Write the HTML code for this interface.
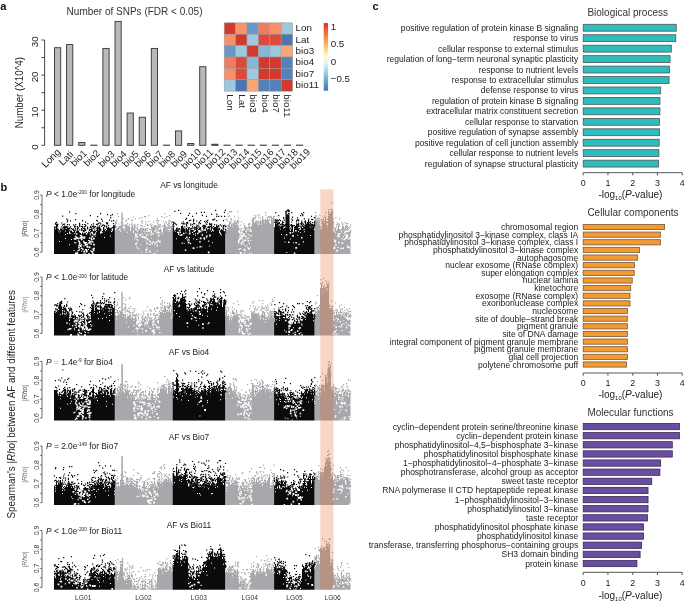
<!DOCTYPE html>
<html><head><meta charset="utf-8"><style>
html,body{margin:0;padding:0;background:#fff;width:685px;height:606px;overflow:hidden}
svg{display:block;filter:blur(0.3px)}
text{font-family:"Liberation Sans", sans-serif}
</style></head><body>
<svg width="685" height="606" viewBox="0 0 685 606" font-family='"Liberation Sans", sans-serif'>
<text x="0.30" y="10.20" font-size="11" text-anchor="start" fill="#111" font-weight="bold">a</text>
<text x="66.60" y="14.50" font-size="10.0" text-anchor="start" fill="#333">Number of SNPs (FDR &lt; 0.05)</text>
<path d="M44.6 40.00V145.30" stroke="#333" stroke-width="0.9" fill="none"/>
<path d="M41.40 145.30H44.6" stroke="#333" stroke-width="0.9"/>
<text x="37.60" y="147.10" font-size="9.8" text-anchor="middle" fill="#222" transform="rotate(-90 37.60 147.10)">0</text>
<path d="M41.40 127.75H44.6" stroke="#333" stroke-width="0.9"/>
<path d="M41.40 110.20H44.6" stroke="#333" stroke-width="0.9"/>
<text x="37.60" y="112.00" font-size="9.8" text-anchor="middle" fill="#222" transform="rotate(-90 37.60 112.00)">10</text>
<path d="M41.40 92.65H44.6" stroke="#333" stroke-width="0.9"/>
<path d="M41.40 75.10H44.6" stroke="#333" stroke-width="0.9"/>
<text x="37.60" y="76.90" font-size="9.8" text-anchor="middle" fill="#222" transform="rotate(-90 37.60 76.90)">20</text>
<path d="M41.40 57.55H44.6" stroke="#333" stroke-width="0.9"/>
<path d="M41.40 40.00H44.6" stroke="#333" stroke-width="0.9"/>
<text x="37.60" y="41.80" font-size="9.8" text-anchor="middle" fill="#222" transform="rotate(-90 37.60 41.80)">30</text>
<text x="22.90" y="92.70" font-size="10.4" text-anchor="middle" fill="#222" transform="rotate(-90 22.90 92.70)" textLength="71.3" lengthAdjust="spacingAndGlyphs">Number (X10^4)</text>
<rect x="54.50" y="47.72" width="6.2" height="97.58" fill="#b9b9b9" stroke="#333" stroke-width="0.9"/>
<text x="50.90" y="158.00" font-size="9.8" text-anchor="middle" fill="#222" transform="rotate(-45 50.90 158.00)" dy="0.35em">Long</text>
<rect x="66.60" y="44.56" width="6.2" height="100.74" fill="#b9b9b9" stroke="#333" stroke-width="0.9"/>
<text x="66.00" y="158.00" font-size="9.8" text-anchor="middle" fill="#222" transform="rotate(-45 66.00 158.00)" dy="0.35em">Lati</text>
<rect x="78.70" y="142.49" width="6.2" height="2.81" fill="#b9b9b9" stroke="#333" stroke-width="0.9"/>
<text x="78.60" y="158.00" font-size="9.8" text-anchor="middle" fill="#222" transform="rotate(-45 78.60 158.00)" dy="0.35em">bio1</text>
<rect x="90.80" y="145.12" width="6.2" height="0.18" fill="#b9b9b9" stroke="#333" stroke-width="0.9"/>
<text x="91.70" y="158.00" font-size="9.8" text-anchor="middle" fill="#222" transform="rotate(-45 91.70 158.00)" dy="0.35em">bio2</text>
<rect x="102.90" y="48.42" width="6.2" height="96.88" fill="#b9b9b9" stroke="#333" stroke-width="0.9"/>
<text x="106.30" y="158.80" font-size="9.8" text-anchor="middle" fill="#222" transform="rotate(-45 106.30 158.80)" dy="0.35em">bio3</text>
<rect x="115.00" y="21.40" width="6.2" height="123.90" fill="#b9b9b9" stroke="#333" stroke-width="0.9"/>
<text x="118.40" y="158.80" font-size="9.8" text-anchor="middle" fill="#222" transform="rotate(-45 118.40 158.80)" dy="0.35em">bio4</text>
<rect x="127.10" y="113.01" width="6.2" height="32.29" fill="#b9b9b9" stroke="#333" stroke-width="0.9"/>
<text x="130.50" y="158.80" font-size="9.8" text-anchor="middle" fill="#222" transform="rotate(-45 130.50 158.80)" dy="0.35em">bio5</text>
<rect x="139.20" y="117.22" width="6.2" height="28.08" fill="#b9b9b9" stroke="#333" stroke-width="0.9"/>
<text x="142.60" y="158.80" font-size="9.8" text-anchor="middle" fill="#222" transform="rotate(-45 142.60 158.80)" dy="0.35em">bio6</text>
<rect x="151.30" y="48.42" width="6.2" height="96.88" fill="#b9b9b9" stroke="#333" stroke-width="0.9"/>
<text x="154.70" y="158.80" font-size="9.8" text-anchor="middle" fill="#222" transform="rotate(-45 154.70 158.80)" dy="0.35em">bio7</text>
<rect x="163.40" y="145.12" width="6.2" height="0.18" fill="#b9b9b9" stroke="#333" stroke-width="0.9"/>
<text x="166.80" y="158.80" font-size="9.8" text-anchor="middle" fill="#222" transform="rotate(-45 166.80 158.80)" dy="0.35em">bio8</text>
<rect x="175.50" y="130.91" width="6.2" height="14.39" fill="#b9b9b9" stroke="#333" stroke-width="0.9"/>
<text x="178.90" y="158.80" font-size="9.8" text-anchor="middle" fill="#222" transform="rotate(-45 178.90 158.80)" dy="0.35em">bio9</text>
<rect x="187.60" y="143.55" width="6.2" height="1.75" fill="#b9b9b9" stroke="#333" stroke-width="0.9"/>
<text x="191.00" y="158.80" font-size="9.8" text-anchor="middle" fill="#222" transform="rotate(-45 191.00 158.80)" dy="0.35em">bio10</text>
<rect x="199.70" y="66.68" width="6.2" height="78.62" fill="#b9b9b9" stroke="#333" stroke-width="0.9"/>
<text x="203.10" y="158.80" font-size="9.8" text-anchor="middle" fill="#222" transform="rotate(-45 203.10 158.80)" dy="0.35em">bio11</text>
<rect x="211.80" y="144.25" width="6.2" height="1.05" fill="#b9b9b9" stroke="#333" stroke-width="0.9"/>
<text x="215.20" y="158.80" font-size="9.8" text-anchor="middle" fill="#222" transform="rotate(-45 215.20 158.80)" dy="0.35em">bio12</text>
<rect x="223.90" y="145.12" width="6.2" height="0.18" fill="#b9b9b9" stroke="#333" stroke-width="0.9"/>
<text x="227.30" y="158.80" font-size="9.8" text-anchor="middle" fill="#222" transform="rotate(-45 227.30 158.80)" dy="0.35em">bio13</text>
<rect x="236.00" y="145.12" width="6.2" height="0.18" fill="#b9b9b9" stroke="#333" stroke-width="0.9"/>
<text x="239.40" y="158.80" font-size="9.8" text-anchor="middle" fill="#222" transform="rotate(-45 239.40 158.80)" dy="0.35em">bio14</text>
<rect x="248.10" y="145.12" width="6.2" height="0.18" fill="#b9b9b9" stroke="#333" stroke-width="0.9"/>
<text x="251.50" y="158.80" font-size="9.8" text-anchor="middle" fill="#222" transform="rotate(-45 251.50 158.80)" dy="0.35em">bio15</text>
<rect x="260.20" y="145.12" width="6.2" height="0.18" fill="#b9b9b9" stroke="#333" stroke-width="0.9"/>
<text x="263.60" y="158.80" font-size="9.8" text-anchor="middle" fill="#222" transform="rotate(-45 263.60 158.80)" dy="0.35em">bio16</text>
<rect x="272.30" y="145.12" width="6.2" height="0.18" fill="#b9b9b9" stroke="#333" stroke-width="0.9"/>
<text x="275.70" y="158.80" font-size="9.8" text-anchor="middle" fill="#222" transform="rotate(-45 275.70 158.80)" dy="0.35em">bio17</text>
<rect x="284.40" y="145.12" width="6.2" height="0.18" fill="#b9b9b9" stroke="#333" stroke-width="0.9"/>
<text x="287.80" y="158.80" font-size="9.8" text-anchor="middle" fill="#222" transform="rotate(-45 287.80 158.80)" dy="0.35em">bio18</text>
<rect x="296.50" y="145.12" width="6.2" height="0.18" fill="#b9b9b9" stroke="#333" stroke-width="0.9"/>
<text x="299.90" y="158.80" font-size="9.8" text-anchor="middle" fill="#222" transform="rotate(-45 299.90 158.80)" dy="0.35em">bio19</text>
<rect x="224.20" y="22.80" width="11.40" height="11.40" fill="#d13a30" stroke="#9a9a9a" stroke-width="0.5"/>
<rect x="235.60" y="22.80" width="11.40" height="11.40" fill="#f7946a" stroke="#9a9a9a" stroke-width="0.5"/>
<rect x="247.00" y="22.80" width="11.40" height="11.40" fill="#6a98c6" stroke="#9a9a9a" stroke-width="0.5"/>
<rect x="258.40" y="22.80" width="11.40" height="11.40" fill="#f07b5f" stroke="#9a9a9a" stroke-width="0.5"/>
<rect x="269.80" y="22.80" width="11.40" height="11.40" fill="#f69168" stroke="#9a9a9a" stroke-width="0.5"/>
<rect x="281.20" y="22.80" width="11.40" height="11.40" fill="#9ec8de" stroke="#9a9a9a" stroke-width="0.5"/>
<rect x="224.20" y="34.20" width="11.40" height="11.40" fill="#f79068" stroke="#9a9a9a" stroke-width="0.5"/>
<rect x="235.60" y="34.20" width="11.40" height="11.40" fill="#d13a30" stroke="#9a9a9a" stroke-width="0.5"/>
<rect x="247.00" y="34.20" width="11.40" height="11.40" fill="#9ec8de" stroke="#9a9a9a" stroke-width="0.5"/>
<rect x="258.40" y="34.20" width="11.40" height="11.40" fill="#dc4a3c" stroke="#9a9a9a" stroke-width="0.5"/>
<rect x="269.80" y="34.20" width="11.40" height="11.40" fill="#dc4a3c" stroke="#9a9a9a" stroke-width="0.5"/>
<rect x="281.20" y="34.20" width="11.40" height="11.40" fill="#4c76b0" stroke="#9a9a9a" stroke-width="0.5"/>
<rect x="224.20" y="45.60" width="11.40" height="11.40" fill="#6a98c6" stroke="#9a9a9a" stroke-width="0.5"/>
<rect x="235.60" y="45.60" width="11.40" height="11.40" fill="#9ec8de" stroke="#9a9a9a" stroke-width="0.5"/>
<rect x="247.00" y="45.60" width="11.40" height="11.40" fill="#d13a30" stroke="#9a9a9a" stroke-width="0.5"/>
<rect x="258.40" y="45.60" width="11.40" height="11.40" fill="#86b8d6" stroke="#9a9a9a" stroke-width="0.5"/>
<rect x="269.80" y="45.60" width="11.40" height="11.40" fill="#9ec8de" stroke="#9a9a9a" stroke-width="0.5"/>
<rect x="281.20" y="45.60" width="11.40" height="11.40" fill="#f9a873" stroke="#9a9a9a" stroke-width="0.5"/>
<rect x="224.20" y="57.00" width="11.40" height="11.40" fill="#f07b5f" stroke="#9a9a9a" stroke-width="0.5"/>
<rect x="235.60" y="57.00" width="11.40" height="11.40" fill="#dc4a3c" stroke="#9a9a9a" stroke-width="0.5"/>
<rect x="247.00" y="57.00" width="11.40" height="11.40" fill="#86b8d6" stroke="#9a9a9a" stroke-width="0.5"/>
<rect x="258.40" y="57.00" width="11.40" height="11.40" fill="#d2392f" stroke="#9a9a9a" stroke-width="0.5"/>
<rect x="269.80" y="57.00" width="11.40" height="11.40" fill="#d2392f" stroke="#9a9a9a" stroke-width="0.5"/>
<rect x="281.20" y="57.00" width="11.40" height="11.40" fill="#5580b8" stroke="#9a9a9a" stroke-width="0.5"/>
<rect x="224.20" y="68.40" width="11.40" height="11.40" fill="#f79068" stroke="#9a9a9a" stroke-width="0.5"/>
<rect x="235.60" y="68.40" width="11.40" height="11.40" fill="#dc4a3c" stroke="#9a9a9a" stroke-width="0.5"/>
<rect x="247.00" y="68.40" width="11.40" height="11.40" fill="#9ec8de" stroke="#9a9a9a" stroke-width="0.5"/>
<rect x="258.40" y="68.40" width="11.40" height="11.40" fill="#d2392f" stroke="#9a9a9a" stroke-width="0.5"/>
<rect x="269.80" y="68.40" width="11.40" height="11.40" fill="#d2392f" stroke="#9a9a9a" stroke-width="0.5"/>
<rect x="281.20" y="68.40" width="11.40" height="11.40" fill="#5580b8" stroke="#9a9a9a" stroke-width="0.5"/>
<rect x="224.20" y="79.80" width="11.40" height="11.40" fill="#9ec8de" stroke="#9a9a9a" stroke-width="0.5"/>
<rect x="235.60" y="79.80" width="11.40" height="11.40" fill="#4c76b0" stroke="#9a9a9a" stroke-width="0.5"/>
<rect x="247.00" y="79.80" width="11.40" height="11.40" fill="#f9a873" stroke="#9a9a9a" stroke-width="0.5"/>
<rect x="258.40" y="79.80" width="11.40" height="11.40" fill="#5580b8" stroke="#9a9a9a" stroke-width="0.5"/>
<rect x="269.80" y="79.80" width="11.40" height="11.40" fill="#5580b8" stroke="#9a9a9a" stroke-width="0.5"/>
<rect x="281.20" y="79.80" width="11.40" height="11.40" fill="#d13a30" stroke="#9a9a9a" stroke-width="0.5"/>
<text x="295.60" y="31.20" font-size="9.8" text-anchor="start" fill="#222">Lon</text>
<text x="295.60" y="42.60" font-size="9.8" text-anchor="start" fill="#222">Lat</text>
<text x="295.60" y="54.00" font-size="9.8" text-anchor="start" fill="#222">bio3</text>
<text x="295.60" y="65.40" font-size="9.8" text-anchor="start" fill="#222">bio4</text>
<text x="295.60" y="76.80" font-size="9.8" text-anchor="start" fill="#222">bio7</text>
<text x="295.60" y="88.20" font-size="9.8" text-anchor="start" fill="#222">bio11</text>
<text x="227.30" y="94.30" font-size="9.8" text-anchor="start" fill="#222" transform="rotate(90 227.30 94.30)">Lon</text>
<text x="238.70" y="94.30" font-size="9.8" text-anchor="start" fill="#222" transform="rotate(90 238.70 94.30)">Lat</text>
<text x="250.10" y="94.30" font-size="9.8" text-anchor="start" fill="#222" transform="rotate(90 250.10 94.30)">bio3</text>
<text x="261.50" y="94.30" font-size="9.8" text-anchor="start" fill="#222" transform="rotate(90 261.50 94.30)">bio4</text>
<text x="272.90" y="94.30" font-size="9.8" text-anchor="start" fill="#222" transform="rotate(90 272.90 94.30)">bio7</text>
<text x="284.30" y="94.30" font-size="9.8" text-anchor="start" fill="#222" transform="rotate(90 284.30 94.30)">bio11</text>
<defs><linearGradient id="lg" x1="0" y1="0" x2="0" y2="1"><stop offset="0" stop-color="#d73027"/><stop offset="0.15" stop-color="#f46d43"/><stop offset="0.3" stop-color="#fdae61"/><stop offset="0.42" stop-color="#fee090"/><stop offset="0.5" stop-color="#ffffbf"/><stop offset="0.59" stop-color="#e0f3f8"/><stop offset="0.7" stop-color="#abd9e9"/><stop offset="0.83" stop-color="#74add1"/><stop offset="1" stop-color="#4575b4"/></linearGradient></defs>
<rect x="323.7" y="23.1" width="4.4" height="67.6" fill="url(#lg)"/>
<text x="330.70" y="29.70" font-size="9.8" text-anchor="start" fill="#222">1</text>
<text x="330.70" y="47.20" font-size="9.8" text-anchor="start" fill="#222">0.5</text>
<text x="330.70" y="64.70" font-size="9.8" text-anchor="start" fill="#222">0</text>
<text x="330.70" y="82.20" font-size="9.8" text-anchor="start" fill="#222">−0.5</text>
<text x="372.60" y="9.90" font-size="11" text-anchor="start" fill="#111" font-weight="bold">c</text>
<text x="587.40" y="16.00" font-size="10.0" text-anchor="start" fill="#333">Biological process</text>
<rect x="583.20" y="24.30" width="93.06" height="6.90" fill="#2ebdbd" stroke="#555" stroke-width="0.8"/>
<text x="578.20" y="30.75" font-size="8.52" text-anchor="end" fill="#222">positive regulation of protein kinase B signaling</text>
<rect x="583.20" y="34.75" width="92.57" height="6.90" fill="#2ebdbd" stroke="#555" stroke-width="0.8"/>
<text x="578.20" y="41.20" font-size="8.52" text-anchor="end" fill="#222">response to virus</text>
<rect x="583.20" y="45.20" width="88.11" height="6.90" fill="#2ebdbd" stroke="#555" stroke-width="0.8"/>
<text x="578.20" y="51.65" font-size="8.52" text-anchor="end" fill="#222">cellular response to external stimulus</text>
<rect x="583.20" y="55.65" width="86.87" height="6.90" fill="#2ebdbd" stroke="#555" stroke-width="0.8"/>
<text x="578.20" y="62.10" font-size="8.52" text-anchor="end" fill="#222">regulation of long−term neuronal synaptic plasticity</text>
<rect x="583.20" y="66.10" width="86.38" height="6.90" fill="#2ebdbd" stroke="#555" stroke-width="0.8"/>
<text x="578.20" y="72.55" font-size="8.52" text-anchor="end" fill="#222">response to nutrient levels</text>
<rect x="583.20" y="76.55" width="85.88" height="6.90" fill="#2ebdbd" stroke="#555" stroke-width="0.8"/>
<text x="578.20" y="83.00" font-size="8.52" text-anchor="end" fill="#222">response to extracellular stimulus</text>
<rect x="583.20" y="87.00" width="77.47" height="6.90" fill="#2ebdbd" stroke="#555" stroke-width="0.8"/>
<text x="578.20" y="93.45" font-size="8.52" text-anchor="end" fill="#222">defense response to virus</text>
<rect x="583.20" y="97.45" width="76.73" height="6.90" fill="#2ebdbd" stroke="#555" stroke-width="0.8"/>
<text x="578.20" y="103.90" font-size="8.52" text-anchor="end" fill="#222">regulation of protein kinase B signaling</text>
<rect x="583.20" y="107.90" width="76.73" height="6.90" fill="#2ebdbd" stroke="#555" stroke-width="0.8"/>
<text x="578.20" y="114.35" font-size="8.52" text-anchor="end" fill="#222">extracellular matrix constituent secretion</text>
<rect x="583.20" y="118.35" width="76.23" height="6.90" fill="#2ebdbd" stroke="#555" stroke-width="0.8"/>
<text x="578.20" y="124.80" font-size="8.52" text-anchor="end" fill="#222">cellular response to starvation</text>
<rect x="583.20" y="128.80" width="76.23" height="6.90" fill="#2ebdbd" stroke="#555" stroke-width="0.8"/>
<text x="578.20" y="135.25" font-size="8.52" text-anchor="end" fill="#222">positive regulation of synapse assembly</text>
<rect x="583.20" y="139.25" width="75.98" height="6.90" fill="#2ebdbd" stroke="#555" stroke-width="0.8"/>
<text x="578.20" y="145.70" font-size="8.52" text-anchor="end" fill="#222">positive regulation of cell junction assembly</text>
<rect x="583.20" y="149.70" width="75.73" height="6.90" fill="#2ebdbd" stroke="#555" stroke-width="0.8"/>
<text x="578.20" y="156.15" font-size="8.52" text-anchor="end" fill="#222">cellular response to nutrient levels</text>
<rect x="583.20" y="160.15" width="75.24" height="6.90" fill="#2ebdbd" stroke="#555" stroke-width="0.8"/>
<text x="578.20" y="166.60" font-size="8.52" text-anchor="end" fill="#222">regulation of synapse structural plasticity</text>
<path d="M583.2 172.7H682.20" stroke="#444" stroke-width="0.9"/>
<path d="M583.20 172.7V175.40" stroke="#444" stroke-width="0.9"/>
<text x="583.20" y="186.00" font-size="8.9" text-anchor="middle" fill="#222">0</text>
<path d="M607.95 172.7V175.40" stroke="#444" stroke-width="0.9"/>
<text x="607.95" y="186.00" font-size="8.9" text-anchor="middle" fill="#222">1</text>
<path d="M632.70 172.7V175.40" stroke="#444" stroke-width="0.9"/>
<text x="632.70" y="186.00" font-size="8.9" text-anchor="middle" fill="#222">2</text>
<path d="M657.45 172.7V175.40" stroke="#444" stroke-width="0.9"/>
<text x="657.45" y="186.00" font-size="8.9" text-anchor="middle" fill="#222">3</text>
<path d="M682.20 172.7V175.40" stroke="#444" stroke-width="0.9"/>
<text x="682.20" y="186.00" font-size="8.9" text-anchor="middle" fill="#222">4</text>
<text x="598.4" y="197.9" font-size="10" fill="#222">-log<tspan font-size="6" dy="1.8">10</tspan><tspan dy="-1.8">(</tspan><tspan font-style="italic">P</tspan>-value)</text>
<text x="587.40" y="216.00" font-size="10.0" text-anchor="start" fill="#333">Cellular components</text>
<rect x="583.20" y="224.40" width="81.43" height="5.20" fill="#f39a32" stroke="#7a5a3a" stroke-width="0.8"/>
<text x="578.20" y="230.00" font-size="8.52" text-anchor="end" fill="#222">chromosomal region</text>
<rect x="583.20" y="232.04" width="77.22" height="5.20" fill="#f39a32" stroke="#7a5a3a" stroke-width="0.8"/>
<text x="578.20" y="237.64" font-size="8.52" text-anchor="end" fill="#222">phosphatidylinositol 3−kinase complex, class IA</text>
<rect x="583.20" y="239.68" width="77.22" height="5.20" fill="#f39a32" stroke="#7a5a3a" stroke-width="0.8"/>
<text x="578.20" y="245.28" font-size="8.52" text-anchor="end" fill="#222">phosphatidylinositol 3−kinase complex, class I</text>
<rect x="583.20" y="247.32" width="56.43" height="5.20" fill="#f39a32" stroke="#7a5a3a" stroke-width="0.8"/>
<text x="578.20" y="252.92" font-size="8.52" text-anchor="end" fill="#222">phosphatidylinositol 3−kinase complex</text>
<rect x="583.20" y="254.96" width="54.45" height="5.20" fill="#f39a32" stroke="#7a5a3a" stroke-width="0.8"/>
<text x="578.20" y="260.56" font-size="8.52" text-anchor="end" fill="#222">autophagosome</text>
<rect x="583.20" y="262.60" width="51.23" height="5.20" fill="#f39a32" stroke="#7a5a3a" stroke-width="0.8"/>
<text x="578.20" y="268.20" font-size="8.52" text-anchor="end" fill="#222">nuclear exosome (RNase complex)</text>
<rect x="583.20" y="270.24" width="50.98" height="5.20" fill="#f39a32" stroke="#7a5a3a" stroke-width="0.8"/>
<text x="578.20" y="275.84" font-size="8.52" text-anchor="end" fill="#222">super elongation complex</text>
<rect x="583.20" y="277.88" width="49.01" height="5.20" fill="#f39a32" stroke="#7a5a3a" stroke-width="0.8"/>
<text x="578.20" y="283.48" font-size="8.52" text-anchor="end" fill="#222">nuclear lamina</text>
<rect x="583.20" y="285.52" width="47.52" height="5.20" fill="#f39a32" stroke="#7a5a3a" stroke-width="0.8"/>
<text x="578.20" y="291.12" font-size="8.52" text-anchor="end" fill="#222">kinetochore</text>
<rect x="583.20" y="293.16" width="46.78" height="5.20" fill="#f39a32" stroke="#7a5a3a" stroke-width="0.8"/>
<text x="578.20" y="298.76" font-size="8.52" text-anchor="end" fill="#222">exosome (RNase complex)</text>
<rect x="583.20" y="300.80" width="46.78" height="5.20" fill="#f39a32" stroke="#7a5a3a" stroke-width="0.8"/>
<text x="578.20" y="306.40" font-size="8.52" text-anchor="end" fill="#222">exoribonuclease complex</text>
<rect x="583.20" y="308.44" width="44.30" height="5.20" fill="#f39a32" stroke="#7a5a3a" stroke-width="0.8"/>
<text x="578.20" y="314.04" font-size="8.52" text-anchor="end" fill="#222">nucleosome</text>
<rect x="583.20" y="316.08" width="44.30" height="5.20" fill="#f39a32" stroke="#7a5a3a" stroke-width="0.8"/>
<text x="578.20" y="321.68" font-size="8.52" text-anchor="end" fill="#222">site of double−strand break</text>
<rect x="583.20" y="323.72" width="44.30" height="5.20" fill="#f39a32" stroke="#7a5a3a" stroke-width="0.8"/>
<text x="578.20" y="329.32" font-size="8.52" text-anchor="end" fill="#222">pigment granule</text>
<rect x="583.20" y="331.36" width="44.30" height="5.20" fill="#f39a32" stroke="#7a5a3a" stroke-width="0.8"/>
<text x="578.20" y="336.96" font-size="8.52" text-anchor="end" fill="#222">site of DNA damage</text>
<rect x="583.20" y="339.00" width="44.30" height="5.20" fill="#f39a32" stroke="#7a5a3a" stroke-width="0.8"/>
<text x="578.20" y="344.60" font-size="8.52" text-anchor="end" fill="#222">integral component of pigment granule membrane</text>
<rect x="583.20" y="346.64" width="44.30" height="5.20" fill="#f39a32" stroke="#7a5a3a" stroke-width="0.8"/>
<text x="578.20" y="352.24" font-size="8.52" text-anchor="end" fill="#222">pigment granule membrane</text>
<rect x="583.20" y="354.28" width="44.30" height="5.20" fill="#f39a32" stroke="#7a5a3a" stroke-width="0.8"/>
<text x="578.20" y="359.88" font-size="8.52" text-anchor="end" fill="#222">glial cell projection</text>
<rect x="583.20" y="361.92" width="43.31" height="5.20" fill="#f39a32" stroke="#7a5a3a" stroke-width="0.8"/>
<text x="578.20" y="367.52" font-size="8.52" text-anchor="end" fill="#222">polytene chromosome puff</text>
<path d="M583.2 373.0H682.20" stroke="#444" stroke-width="0.9"/>
<path d="M583.20 373.0V375.70" stroke="#444" stroke-width="0.9"/>
<text x="583.20" y="386.30" font-size="8.9" text-anchor="middle" fill="#222">0</text>
<path d="M607.95 373.0V375.70" stroke="#444" stroke-width="0.9"/>
<text x="607.95" y="386.30" font-size="8.9" text-anchor="middle" fill="#222">1</text>
<path d="M632.70 373.0V375.70" stroke="#444" stroke-width="0.9"/>
<text x="632.70" y="386.30" font-size="8.9" text-anchor="middle" fill="#222">2</text>
<path d="M657.45 373.0V375.70" stroke="#444" stroke-width="0.9"/>
<text x="657.45" y="386.30" font-size="8.9" text-anchor="middle" fill="#222">3</text>
<path d="M682.20 373.0V375.70" stroke="#444" stroke-width="0.9"/>
<text x="682.20" y="386.30" font-size="8.9" text-anchor="middle" fill="#222">4</text>
<text x="598.4" y="397.9" font-size="10" fill="#222">-log<tspan font-size="6" dy="1.8">10</tspan><tspan dy="-1.8">(</tspan><tspan font-style="italic">P</tspan>-value)</text>
<text x="587.40" y="416.20" font-size="10.0" text-anchor="start" fill="#333">Molecular functions</text>
<rect x="583.20" y="423.40" width="96.28" height="6.30" fill="#6a4ea0" stroke="#3a2a5a" stroke-width="0.8"/>
<text x="578.20" y="429.55" font-size="8.52" text-anchor="end" fill="#222">cyclin−dependent protein serine/threonine kinase</text>
<rect x="583.20" y="432.53" width="96.28" height="6.30" fill="#6a4ea0" stroke="#3a2a5a" stroke-width="0.8"/>
<text x="578.20" y="438.68" font-size="8.52" text-anchor="end" fill="#222">cyclin−dependent protein kinase</text>
<rect x="583.20" y="441.66" width="89.10" height="6.30" fill="#6a4ea0" stroke="#3a2a5a" stroke-width="0.8"/>
<text x="578.20" y="447.81" font-size="8.52" text-anchor="end" fill="#222">phosphatidylinositol−4,5−bisphosphate 3−kinase</text>
<rect x="583.20" y="450.79" width="89.10" height="6.30" fill="#6a4ea0" stroke="#3a2a5a" stroke-width="0.8"/>
<text x="578.20" y="456.94" font-size="8.52" text-anchor="end" fill="#222">phosphatidylinositol bisphosphate kinase</text>
<rect x="583.20" y="459.92" width="77.47" height="6.30" fill="#6a4ea0" stroke="#3a2a5a" stroke-width="0.8"/>
<text x="578.20" y="466.07" font-size="8.52" text-anchor="end" fill="#222">1−phosphatidylinositol−4−phosphate 3−kinase</text>
<rect x="583.20" y="469.05" width="76.73" height="6.30" fill="#6a4ea0" stroke="#3a2a5a" stroke-width="0.8"/>
<text x="578.20" y="475.20" font-size="8.52" text-anchor="end" fill="#222">phosphotransferase, alcohol group as acceptor</text>
<rect x="583.20" y="478.18" width="68.56" height="6.30" fill="#6a4ea0" stroke="#3a2a5a" stroke-width="0.8"/>
<text x="578.20" y="484.33" font-size="8.52" text-anchor="end" fill="#222">sweet taste receptor</text>
<rect x="583.20" y="487.31" width="64.84" height="6.30" fill="#6a4ea0" stroke="#3a2a5a" stroke-width="0.8"/>
<text x="578.20" y="493.46" font-size="8.52" text-anchor="end" fill="#222">RNA polymerase II CTD heptapeptide repeat kinase</text>
<rect x="583.20" y="496.44" width="64.84" height="6.30" fill="#6a4ea0" stroke="#3a2a5a" stroke-width="0.8"/>
<text x="578.20" y="502.59" font-size="8.52" text-anchor="end" fill="#222">1−phosphatidylinositol−3−kinase</text>
<rect x="583.20" y="505.57" width="64.84" height="6.30" fill="#6a4ea0" stroke="#3a2a5a" stroke-width="0.8"/>
<text x="578.20" y="511.72" font-size="8.52" text-anchor="end" fill="#222">phosphatidylinositol 3−kinase</text>
<rect x="583.20" y="514.70" width="64.35" height="6.30" fill="#6a4ea0" stroke="#3a2a5a" stroke-width="0.8"/>
<text x="578.20" y="520.85" font-size="8.52" text-anchor="end" fill="#222">taste receptor</text>
<rect x="583.20" y="523.83" width="60.39" height="6.30" fill="#6a4ea0" stroke="#3a2a5a" stroke-width="0.8"/>
<text x="578.20" y="529.98" font-size="8.52" text-anchor="end" fill="#222">phosphatidylinositol phosphate kinase</text>
<rect x="583.20" y="532.96" width="60.39" height="6.30" fill="#6a4ea0" stroke="#3a2a5a" stroke-width="0.8"/>
<text x="578.20" y="539.11" font-size="8.52" text-anchor="end" fill="#222">phosphatidylinositol kinase</text>
<rect x="583.20" y="542.09" width="58.41" height="6.30" fill="#6a4ea0" stroke="#3a2a5a" stroke-width="0.8"/>
<text x="578.20" y="548.24" font-size="8.52" text-anchor="end" fill="#222">transferase, transferring phosphorus−containing groups</text>
<rect x="583.20" y="551.22" width="56.92" height="6.30" fill="#6a4ea0" stroke="#3a2a5a" stroke-width="0.8"/>
<text x="578.20" y="557.37" font-size="8.52" text-anchor="end" fill="#222">SH3 domain binding</text>
<rect x="583.20" y="560.35" width="53.71" height="6.30" fill="#6a4ea0" stroke="#3a2a5a" stroke-width="0.8"/>
<text x="578.20" y="566.50" font-size="8.52" text-anchor="end" fill="#222">protein kinase</text>
<path d="M583.2 572.3H682.20" stroke="#444" stroke-width="0.9"/>
<path d="M583.20 572.3V575.00" stroke="#444" stroke-width="0.9"/>
<text x="583.20" y="585.60" font-size="8.9" text-anchor="middle" fill="#222">0</text>
<path d="M607.95 572.3V575.00" stroke="#444" stroke-width="0.9"/>
<text x="607.95" y="585.60" font-size="8.9" text-anchor="middle" fill="#222">1</text>
<path d="M632.70 572.3V575.00" stroke="#444" stroke-width="0.9"/>
<text x="632.70" y="585.60" font-size="8.9" text-anchor="middle" fill="#222">2</text>
<path d="M657.45 572.3V575.00" stroke="#444" stroke-width="0.9"/>
<text x="657.45" y="585.60" font-size="8.9" text-anchor="middle" fill="#222">3</text>
<path d="M682.20 572.3V575.00" stroke="#444" stroke-width="0.9"/>
<text x="682.20" y="585.60" font-size="8.9" text-anchor="middle" fill="#222">4</text>
<text x="598.4" y="599.1" font-size="10" fill="#222">-log<tspan font-size="6" dy="1.8">10</tspan><tspan dy="-1.8">(</tspan><tspan font-style="italic">P</tspan>-value)</text>
<text x="0.40" y="190.80" font-size="11" text-anchor="start" fill="#111" font-weight="bold">b</text>
<text x="14.60" y="404.30" font-size="10.5" text-anchor="middle" fill="#222" transform="rotate(-90 14.60 404.30)" textLength="228.3" lengthAdjust="spacingAndGlyphs">Spearman's |<tspan font-style="italic">Rho</tspan>| between AF and different features</text>
<path d="M42.0 195.00V252.20" stroke="#444" stroke-width="0.8" fill="none"/>
<path d="M40.20 195.00H42.0" stroke="#444" stroke-width="0.8"/>
<text x="38.90" y="195.00" font-size="6.9" text-anchor="middle" fill="#333" transform="rotate(-90 38.90 195.00)">0.9</text>
<path d="M40.20 204.53H42.0" stroke="#444" stroke-width="0.8"/>
<path d="M40.20 214.07H42.0" stroke="#444" stroke-width="0.8"/>
<text x="38.90" y="214.07" font-size="6.9" text-anchor="middle" fill="#333" transform="rotate(-90 38.90 214.07)">0.8</text>
<path d="M40.20 223.60H42.0" stroke="#444" stroke-width="0.8"/>
<path d="M40.20 233.13H42.0" stroke="#444" stroke-width="0.8"/>
<text x="38.90" y="233.13" font-size="6.9" text-anchor="middle" fill="#333" transform="rotate(-90 38.90 233.13)">0.7</text>
<path d="M40.20 242.67H42.0" stroke="#444" stroke-width="0.8"/>
<path d="M40.20 252.20H42.0" stroke="#444" stroke-width="0.8"/>
<text x="38.90" y="252.20" font-size="6.9" text-anchor="middle" fill="#333" transform="rotate(-90 38.90 252.20)">0.6</text>
<text x="27.40" y="228.80" font-size="6.8" text-anchor="middle" fill="#505050" transform="rotate(-90 27.40 228.80)">|<tspan font-style="italic">Rho</tspan>|</text>
<text x="189.00" y="188.30" font-size="8.4" text-anchor="middle" fill="#222">AF vs longitude</text>
<text x="46" y="196.70" font-size="8.4" fill="#222"><tspan font-style="italic">P</tspan> &lt; 1.0e<tspan font-size="4.7" dy="-2.3">-200</tspan><tspan dy="2.3"> for longitude</tspan></text>
<path fill="#a7a8ab" d="M114.8 253.9V228.1H115.0V232.2H116.0V230.7H117.0V230.9H118.0V228.9H119.0V230.6H120.0V233.7H121.0V230.2H122.0V231.1H123.0V232.1H124.0V232.6H125.0V229.1H126.0V227.1H127.0V228.2H128.0V228.7H129.0V229.7H130.0V234.1H131.0V229.0H132.0V225.2H133.0V235.9H134.0V228.2H135.0V231.9H136.0V235.1H137.0V234.2H138.0V232.2H139.0V231.2H140.0V232.2H141.0V230.4H142.0V234.0H143.0V230.9H144.0V232.4H145.0V231.0H146.0V232.7H147.0V235.2H148.0V234.4H149.0V231.7H150.0V231.1H151.0V229.7H152.0V229.9H153.0V231.1H154.0V228.2H155.0V230.5H156.0V233.3H157.0V230.6H158.0V236.7H159.0V232.7H160.0V230.4H161.0V232.3H162.0V235.2H163.0V229.7H164.0V226.2H165.0V229.7H166.0V230.6H167.0V228.6H168.0V231.2H169.0V233.0H170.0V229.4H171.0V228.7H172.0V230.4H172.6V253.9ZM225.2 253.9V229.4H226.0V231.4H227.0V229.9H228.0V227.5H229.0V225.8H230.0V229.2H231.0V226.7H232.0V227.9H233.0V226.9H234.0V225.3H235.0V224.8H236.0V225.0H237.0V227.5H238.0V229.7H239.0V236.4H240.0V237.9H241.0V233.8H242.0V233.7H243.0V234.8H244.0V229.5H245.0V229.7H246.0V234.7H247.0V233.2H248.0V233.0H249.0V225.7H250.0V230.9H251.0V228.8H252.0V221.4H253.0V220.2H254.0V225.7H255.0V224.8H256.0V223.4H257.0V224.5H258.0V228.1H259.0V228.1H260.0V223.1H261.0V224.4H262.0V218.9H263.0V221.5H264.0V223.6H265.0V222.1H266.0V223.3H267.0V222.2H268.0V222.5H269.0V225.1H270.0V225.2H271.0V218.6H272.0V222.4H273.0V219.2H274.0V221.4H274.1V253.9ZM314.5 253.9V220.7H315.0V219.6H316.0V222.9H317.0V224.0H318.0V223.1H319.0V224.2H320.0V228.8H321.0V231.5H322.0V223.9H323.0V223.3H324.0V223.9H325.0V220.1H326.0V224.2H327.0V230.2H328.0V215.8H329.0V215.0H330.0V216.4H331.0V211.7H332.0V213.6H333.0V224.2H334.0V232.3H335.0V232.2H336.0V232.8H337.0V232.1H338.0V227.7H339.0V231.9H340.0V234.7H341.0V233.3H342.0V226.5H343.0V228.9H344.0V231.4H345.0V230.3H346.0V229.2H347.0V228.6H348.0V228.9H349.0V233.0H350.0V232.8H350.5V253.9ZM121.3 253.9V212.5h1.4V253.9Z"/>
<path fill="#0b0b0b" d="M54.0 253.9V229.4H55.0V232.1H56.0V224.8H57.0V229.2H58.0V234.7H59.0V233.6H60.0V231.5H61.0V230.9H62.0V234.0H63.0V229.2H64.0V225.5H65.0V231.5H66.0V228.7H67.0V229.6H68.0V231.1H69.0V236.7H70.0V233.7H71.0V233.6H72.0V231.9H73.0V232.7H74.0V232.0H75.0V232.5H76.0V234.2H77.0V230.5H78.0V233.8H79.0V232.2H80.0V232.1H81.0V237.4H82.0V232.5H83.0V236.4H84.0V230.4H85.0V233.0H86.0V234.0H87.0V229.6H88.0V232.9H89.0V235.3H90.0V235.2H91.0V231.7H92.0V231.5H93.0V230.7H94.0V234.0H95.0V236.5H96.0V235.3H97.0V230.1H98.0V230.3H99.0V229.7H100.0V236.7H101.0V236.2H102.0V234.1H103.0V229.0H104.0V232.6H105.0V234.2H106.0V228.6H107.0V230.7H108.0V228.0H109.0V230.1H110.0V229.9H111.0V235.0H112.0V233.3H113.0V229.6H114.0V227.5H114.8V253.9ZM172.6 253.9V229.3H173.0V231.3H174.0V232.7H175.0V232.8H176.0V230.8H177.0V235.0H178.0V236.0H179.0V234.4H180.0V235.9H181.0V228.9H182.0V228.6H183.0V229.7H184.0V231.8H185.0V231.4H186.0V226.5H187.0V231.3H188.0V230.6H189.0V231.5H190.0V231.0H191.0V230.7H192.0V230.6H193.0V232.3H194.0V229.5H195.0V231.8H196.0V228.9H197.0V229.8H198.0V230.9H199.0V230.9H200.0V232.5H201.0V233.2H202.0V230.3H203.0V233.3H204.0V229.3H205.0V231.8H206.0V231.2H207.0V234.2H208.0V233.5H209.0V231.6H210.0V230.2H211.0V226.2H212.0V233.7H213.0V234.5H214.0V227.1H215.0V229.0H216.0V227.5H217.0V230.6H218.0V230.6H219.0V236.2H220.0V236.8H221.0V232.0H222.0V231.9H223.0V230.5H224.0V233.3H225.0V233.4H225.2V253.9ZM274.1 253.9V230.2H275.0V224.7H276.0V225.1H277.0V222.6H278.0V225.5H279.0V227.4H280.0V229.6H281.0V226.5H282.0V225.3H283.0V228.4H284.0V230.1H285.0V230.4H286.0V226.1H287.0V224.2H288.0V228.5H289.0V234.3H290.0V234.0H291.0V226.9H292.0V226.0H293.0V233.7H294.0V231.6H295.0V228.9H296.0V224.2H297.0V226.7H298.0V224.8H299.0V230.0H300.0V232.7H301.0V225.0H302.0V230.1H303.0V230.2H304.0V229.8H305.0V227.8H306.0V226.8H307.0V225.1H308.0V223.1H309.0V226.4H310.0V227.5H311.0V228.3H312.0V229.6H313.0V227.4H314.0V226.6H314.5V253.9ZM285.5 253.9V213.8h1V253.9ZM286.5 253.9V214.3h1V253.9ZM287.5 253.9V214.4h1V253.9ZM288.5 253.9V214.3h1V253.9Z"/>
<path stroke="#a7a8ab" stroke-width="1.2" fill="none" d="M114.8 227.7h1.2M114.8 226.7h1.2M114.9 223.2h1.2M114.9 222.2h1.2M115.0 231.8h1.2M115.0 230.8h1.2M115.0 227.3h1.2M114.9 225.3h1.2M114.9 224.3h1.2M115.1 223.3h1.2M116.0 230.3h1.2M116.0 229.3h1.2M116.1 226.8h1.2M115.9 222.8h1.2M115.8 221.8h1.2M116.2 219.8h1.2M117.0 230.5h1.2M117.0 229.5h1.2M117.0 228.5h1.2M117.0 213.6h1.2M118.0 228.5h1.2M118.0 227.5h1.2M118.1 224.0h1.2M117.9 216.6h1.2M119.0 228.2h1.2M118.8 226.7h1.2M120.0 233.3h1.2M120.0 232.3h1.2M119.8 229.8h1.2M120.0 227.8h1.2M119.9 226.8h1.2M120.1 225.8h1.2M121.0 228.8h1.2M121.0 227.8h1.2M121.1 223.3h1.2M120.8 222.3h1.2M122.0 230.7h1.2M122.0 229.7h1.2M122.0 228.7h1.2M122.1 226.2h1.2M122.0 223.2h1.2M123.0 231.7h1.2M123.0 230.7h1.2M123.0 229.7h1.2M122.9 225.2h1.2M122.8 218.6h1.2M124.0 232.2h1.2M124.0 231.2h1.2M123.8 228.7h1.2M124.0 225.7h1.2M125.0 227.7h1.2M125.0 226.7h1.2M125.1 225.2h1.2M124.9 221.2h1.2M126.0 226.7h1.2M126.0 225.7h1.2M126.0 224.7h1.2M126.0 220.2h1.2M127.0 227.8h1.2M127.0 225.8h1.2M127.0 223.3h1.2M128.0 228.3h1.2M128.0 227.3h1.2M128.0 226.3h1.2M127.8 218.8h1.2M128.1 218.6h1.2M129.0 229.3h1.2M129.0 228.3h1.2M129.0 227.3h1.2M129.1 224.8h1.2M130.0 233.7h1.2M130.0 232.7h1.2M130.0 231.7h1.2M131.0 228.6h1.2M131.0 227.6h1.2M130.9 225.1h1.2M131.1 223.1h1.2M130.9 220.1h1.2M132.0 224.8h1.2M131.9 220.3h1.2M133.0 235.5h1.2M133.0 234.5h1.2M133.0 233.5h1.2M133.1 230.0h1.2M133.0 229.0h1.2M133.0 227.0h1.2M132.9 217.1h1.2M134.0 227.8h1.2M134.0 226.8h1.2M134.0 225.8h1.2M134.1 224.3h1.2M135.0 231.5h1.2M135.0 230.5h1.2M135.1 228.0h1.2M134.9 226.0h1.2M134.8 218.6h1.2M136.0 234.7h1.2M136.0 233.7h1.2M136.0 232.7h1.2M136.2 231.2h1.2M136.2 228.2h1.2M137.0 232.8h1.2M137.1 229.3h1.2M137.0 228.3h1.2M137.1 226.3h1.2M137.0 224.3h1.2M138.0 231.8h1.2M138.0 230.8h1.2M139.0 230.8h1.2M139.0 229.8h1.2M139.0 218.6h1.2M140.0 231.8h1.2M140.0 230.8h1.2M140.0 229.8h1.2M139.9 228.3h1.2M140.0 225.3h1.2M141.0 229.0h1.2M141.0 228.0h1.2M141.1 225.5h1.2M140.8 221.5h1.2M141.2 217.6h1.2M142.0 233.6h1.2M142.0 232.6h1.2M142.0 231.6h1.2M142.0 230.1h1.2M142.1 229.1h1.2M141.9 226.1h1.2M141.8 223.1h1.2M141.8 221.1h1.2M143.0 230.5h1.2M143.0 229.5h1.2M143.0 228.5h1.2M144.0 232.0h1.2M144.0 231.0h1.2M144.0 230.0h1.2M144.0 226.5h1.2M143.9 216.6h1.2M145.0 230.6h1.2M145.0 229.6h1.2M145.0 228.6h1.2M144.9 224.1h1.2M145.0 222.1h1.2M145.1 216.6h1.2M146.0 232.3h1.2M146.1 228.8h1.2M147.0 234.8h1.2M147.0 233.8h1.2M147.0 232.8h1.2M146.9 230.3h1.2M147.2 228.3h1.2M146.8 225.3h1.2M146.9 224.3h1.2M148.0 234.0h1.2M148.0 233.0h1.2M148.0 232.0h1.2M147.9 225.5h1.2M148.2 221.5h1.2M148.0 215.6h1.2M149.0 230.3h1.2M149.0 229.3h1.2M150.0 230.7h1.2M150.0 229.7h1.2M150.2 225.2h1.2M149.9 224.2h1.2M151.0 228.3h1.2M151.0 227.3h1.2M150.9 225.8h1.2M152.0 229.5h1.2M152.0 228.5h1.2M152.0 227.5h1.2M152.1 225.0h1.2M153.0 230.7h1.2M153.0 229.7h1.2M153.0 228.7h1.2M153.2 227.2h1.2M153.0 222.2h1.2M154.0 227.8h1.2M154.0 226.8h1.2M154.0 225.8h1.2M155.0 230.1h1.2M155.0 228.1h1.2M154.9 226.6h1.2M154.8 225.6h1.2M156.0 230.9h1.2M156.0 228.4h1.2M156.0 226.4h1.2M155.9 220.6h1.2M157.0 230.2h1.2M157.0 228.2h1.2M156.8 226.7h1.2M157.1 223.7h1.2M156.9 222.7h1.2M157.1 220.6h1.2M157.0 218.6h1.2M158.0 236.3h1.2M158.0 235.3h1.2M158.0 234.3h1.2M158.1 231.8h1.2M157.9 229.8h1.2M157.8 227.8h1.2M158.1 226.8h1.2M157.8 224.8h1.2M158.1 220.8h1.2M159.0 231.3h1.2M159.0 230.3h1.2M159.1 226.8h1.2M159.1 225.8h1.2M159.2 224.8h1.2M160.0 230.0h1.2M160.0 229.0h1.2M160.1 226.5h1.2M160.0 224.5h1.2M161.0 230.9h1.2M161.2 216.6h1.2M162.0 234.8h1.2M162.0 232.8h1.2M162.2 226.3h1.2M163.0 229.3h1.2M163.0 228.3h1.2M163.1 225.8h1.2M163.0 221.8h1.2M164.0 225.8h1.2M164.0 224.8h1.2M164.0 223.8h1.2M164.0 217.6h1.2M164.0 213.6h1.2M165.0 229.3h1.2M165.0 228.3h1.2M165.0 227.3h1.2M165.1 225.8h1.2M165.1 221.8h1.2M166.0 229.2h1.2M166.0 228.2h1.2M165.8 222.7h1.2M166.2 216.6h1.2M167.0 227.2h1.2M167.0 224.7h1.2M168.0 230.8h1.2M168.0 228.8h1.2M168.0 227.3h1.2M167.9 225.3h1.2M168.0 223.3h1.2M168.1 221.3h1.2M169.0 232.6h1.2M169.0 230.6h1.2M168.9 228.1h1.2M168.8 226.1h1.2M168.8 225.1h1.2M168.8 223.1h1.2M168.9 220.1h1.2M169.2 215.6h1.2M170.0 228.0h1.2M170.0 227.0h1.2M170.2 221.5h1.2M171.0 228.3h1.2M171.0 227.3h1.2M171.0 226.3h1.2M170.9 222.8h1.2M170.9 221.8h1.2M172.0 230.0h1.2M172.1 224.5h1.2M172.2 221.5h1.2M225.2 229.0h1.2M225.2 228.0h1.2M225.2 227.0h1.2M225.1 219.5h1.2M226.0 231.0h1.2M226.0 230.0h1.2M226.0 226.5h1.2M226.0 225.5h1.2M226.0 219.5h1.2M227.0 228.5h1.2M227.0 226.0h1.2M226.9 221.0h1.2M227.2 213.6h1.2M228.0 227.1h1.2M228.0 226.1h1.2M228.0 225.1h1.2M227.9 216.6h1.2M229.0 225.4h1.2M229.0 224.4h1.2M229.0 223.4h1.2M229.0 221.9h1.2M229.1 215.9h1.2M229.0 211.6h1.2M230.0 228.8h1.2M230.0 227.8h1.2M230.0 226.8h1.2M230.1 223.3h1.2M230.0 222.3h1.2M230.2 219.3h1.2M229.9 211.6h1.2M231.0 226.3h1.2M231.0 225.3h1.2M231.0 224.3h1.2M231.1 220.8h1.2M230.9 218.8h1.2M231.0 211.6h1.2M232.0 227.5h1.2M232.0 225.5h1.2M232.1 224.0h1.2M233.0 226.5h1.2M233.0 225.5h1.2M233.0 224.5h1.2M232.9 223.0h1.2M234.0 224.9h1.2M234.0 223.9h1.2M234.0 222.9h1.2M233.9 221.4h1.2M234.0 216.4h1.2M235.0 223.4h1.2M235.2 220.9h1.2M236.0 224.6h1.2M236.0 223.6h1.2M236.0 222.6h1.2M237.0 227.1h1.2M237.0 225.1h1.2M237.0 222.6h1.2M236.9 221.6h1.2M237.1 220.6h1.2M237.1 211.6h1.2M238.0 229.3h1.2M238.0 228.3h1.2M238.0 227.3h1.2M238.0 225.8h1.2M238.0 222.8h1.2M238.0 220.8h1.2M237.9 217.8h1.2M239.0 236.0h1.2M239.0 235.0h1.2M239.0 234.0h1.2M239.0 229.5h1.2M240.0 237.5h1.2M240.0 236.5h1.2M240.1 234.0h1.2M240.2 232.0h1.2M240.0 231.0h1.2M240.1 229.0h1.2M240.0 225.0h1.2M241.0 232.4h1.2M240.8 228.9h1.2M240.9 221.6h1.2M242.0 233.3h1.2M242.0 231.3h1.2M243.0 234.4h1.2M243.0 232.4h1.2M243.0 230.9h1.2M243.0 228.9h1.2M243.1 223.9h1.2M244.0 229.1h1.2M244.0 228.1h1.2M244.0 227.1h1.2M243.9 225.6h1.2M245.0 229.3h1.2M245.0 228.3h1.2M245.0 227.3h1.2M246.0 234.3h1.2M246.0 232.3h1.2M246.2 230.8h1.2M246.1 229.8h1.2M246.0 227.8h1.2M247.0 232.8h1.2M247.0 231.8h1.2M247.0 230.8h1.2M247.0 228.3h1.2M248.0 232.6h1.2M248.0 231.6h1.2M248.0 230.6h1.2M248.0 228.1h1.2M248.2 227.1h1.2M248.0 225.1h1.2M248.1 224.1h1.2M249.0 225.3h1.2M249.0 224.3h1.2M249.0 223.3h1.2M250.0 230.5h1.2M250.0 229.5h1.2M250.0 228.5h1.2M249.9 227.0h1.2M249.8 225.0h1.2M251.0 228.4h1.2M251.0 227.4h1.2M251.0 226.4h1.2M251.2 220.9h1.2M252.0 220.0h1.2M252.0 219.0h1.2M253.0 219.8h1.2M253.0 218.8h1.2M253.0 217.8h1.2M254.0 225.3h1.2M254.0 224.3h1.2M254.0 223.3h1.2M254.0 217.8h1.2M254.2 215.3h1.2M255.0 224.4h1.2M255.0 223.4h1.2M255.0 222.4h1.2M255.2 220.9h1.2M254.9 217.9h1.2M255.2 216.9h1.2M256.0 223.0h1.2M256.0 222.0h1.2M256.0 221.0h1.2M257.0 224.1h1.2M257.0 222.1h1.2M257.0 215.3h1.2M258.0 227.7h1.2M258.0 226.7h1.2M258.0 225.7h1.2M258.1 223.2h1.2M258.0 221.2h1.2M258.1 217.2h1.2M259.0 227.7h1.2M259.0 226.7h1.2M259.0 225.7h1.2M259.0 224.2h1.2M259.1 222.2h1.2M259.1 214.9h1.2M260.0 222.7h1.2M260.0 221.7h1.2M260.0 220.7h1.2M259.9 218.2h1.2M261.0 223.0h1.2M261.0 222.0h1.2M262.0 218.5h1.2M262.0 217.5h1.2M262.0 216.5h1.2M263.0 221.1h1.2M263.0 220.1h1.2M264.0 223.2h1.2M264.0 221.2h1.2M265.0 221.7h1.2M265.0 220.7h1.2M265.0 219.7h1.2M265.2 215.2h1.2M264.9 212.6h1.2M266.0 222.9h1.2M266.0 221.9h1.2M266.0 220.9h1.2M267.0 221.8h1.2M267.0 220.8h1.2M267.0 219.8h1.2M267.1 218.3h1.2M266.8 217.3h1.2M268.0 222.1h1.2M268.0 221.1h1.2M268.0 220.1h1.2M268.0 216.6h1.2M269.0 224.7h1.2M269.0 223.7h1.2M269.2 220.2h1.2M268.9 217.2h1.2M270.0 224.8h1.2M269.8 217.3h1.2M269.8 216.3h1.2M271.0 218.2h1.2M271.0 217.2h1.2M272.0 222.0h1.2M272.0 221.0h1.2M272.0 220.0h1.2M272.2 218.5h1.2M273.0 218.8h1.2M273.0 217.8h1.2M273.0 216.8h1.2M274.0 221.0h1.2M274.0 220.0h1.2M274.0 219.0h1.2M274.1 216.5h1.2M314.5 220.3h1.2M314.5 218.3h1.2M315.0 219.2h1.2M315.0 218.2h1.2M315.0 217.2h1.2M315.1 215.7h1.2M314.9 212.6h1.2M316.0 222.5h1.2M316.0 221.5h1.2M316.0 220.5h1.2M315.8 219.0h1.2M315.9 216.0h1.2M317.0 223.6h1.2M317.0 222.6h1.2M317.0 221.6h1.2M316.8 220.1h1.2M317.1 218.1h1.2M318.0 222.7h1.2M318.0 220.7h1.2M317.9 219.2h1.2M318.0 218.2h1.2M319.0 222.8h1.2M319.0 221.8h1.2M319.2 220.3h1.2M319.0 218.3h1.2M319.2 215.3h1.2M320.0 227.4h1.2M320.0 226.4h1.2M321.0 231.1h1.2M321.0 230.1h1.2M321.0 229.1h1.2M321.2 223.6h1.2M321.1 221.6h1.2M321.1 219.6h1.2M322.0 223.5h1.2M322.0 222.5h1.2M322.0 221.5h1.2M321.9 220.0h1.2M323.0 222.9h1.2M323.0 220.9h1.2M322.9 219.4h1.2M323.2 217.4h1.2M324.0 223.5h1.2M324.0 221.5h1.2M324.0 216.0h1.2M325.0 219.7h1.2M325.0 218.7h1.2M325.0 217.7h1.2M324.9 212.6h1.2M326.0 222.8h1.2M326.0 221.8h1.2M327.0 229.8h1.2M327.0 228.8h1.2M327.0 227.8h1.2M326.8 226.3h1.2M327.1 222.3h1.2M327.0 219.3h1.2M328.0 214.4h1.2M328.0 213.4h1.2M328.0 211.9h1.2M328.0 209.9h1.2M329.0 214.6h1.2M329.0 212.6h1.2M330.0 216.0h1.2M330.0 215.0h1.2M330.0 214.0h1.2M329.9 209.5h1.2M331.0 211.3h1.2M331.0 209.3h1.2M331.1 202.6h1.2M332.0 213.2h1.2M332.0 212.2h1.2M332.0 211.2h1.2M333.0 222.8h1.2M333.0 221.8h1.2M333.2 219.3h1.2M334.0 230.9h1.2M334.0 229.9h1.2M333.9 228.4h1.2M335.0 231.8h1.2M335.0 230.8h1.2M335.0 229.8h1.2M334.9 228.3h1.2M335.1 217.6h1.2M336.0 232.4h1.2M336.0 231.4h1.2M336.0 226.9h1.2M336.1 224.9h1.2M337.0 231.7h1.2M337.0 230.7h1.2M337.0 229.7h1.2M337.1 224.2h1.2M336.9 223.2h1.2M338.0 227.3h1.2M338.0 226.3h1.2M338.0 225.3h1.2M339.0 231.5h1.2M339.0 230.5h1.2M339.0 229.5h1.2M339.0 226.0h1.2M338.8 224.0h1.2M339.0 218.6h1.2M340.0 234.3h1.2M340.0 233.3h1.2M340.0 232.3h1.2M340.1 230.8h1.2M341.0 232.9h1.2M341.0 230.9h1.2M340.8 229.4h1.2M341.0 222.4h1.2M342.0 226.1h1.2M342.0 224.1h1.2M343.0 228.5h1.2M343.0 227.5h1.2M343.0 226.5h1.2M343.2 224.0h1.2M344.0 231.0h1.2M344.0 230.0h1.2M344.0 229.0h1.2M344.2 222.5h1.2M345.0 229.9h1.2M345.0 228.9h1.2M345.0 227.9h1.2M345.0 226.4h1.2M346.0 227.8h1.2M346.0 226.8h1.2M345.8 225.3h1.2M346.0 223.3h1.2M347.0 228.2h1.2M347.0 226.2h1.2M347.1 223.7h1.2M348.0 228.5h1.2M348.0 227.5h1.2M349.0 232.6h1.2M349.0 231.6h1.2M349.0 230.6h1.2M349.0 228.1h1.2M350.0 232.4h1.2M350.0 231.4h1.2M350.0 230.4h1.2M349.9 226.9h1.2M350.0 224.9h1.2"/>
<path stroke="#0b0b0b" stroke-width="1.2" fill="none" d="M54.0 229.0h1.2M54.0 228.0h1.2M54.0 227.0h1.2M55.0 231.7h1.2M55.0 230.7h1.2M55.0 229.7h1.2M55.2 227.2h1.2M54.9 224.2h1.2M55.0 223.2h1.2M56.0 224.4h1.2M56.0 222.4h1.2M57.0 228.8h1.2M57.0 226.8h1.2M56.8 225.3h1.2M57.2 224.3h1.2M58.0 234.3h1.2M58.0 233.3h1.2M58.0 232.3h1.2M58.2 230.8h1.2M57.9 229.8h1.2M59.0 233.2h1.2M59.0 231.2h1.2M60.0 230.1h1.2M60.0 229.1h1.2M61.0 230.5h1.2M61.0 229.5h1.2M60.8 227.0h1.2M61.1 223.0h1.2M62.0 233.6h1.2M62.0 232.6h1.2M62.0 231.6h1.2M62.0 230.1h1.2M61.8 228.1h1.2M61.8 225.1h1.2M62.0 216.1h1.2M63.0 227.8h1.2M63.0 226.8h1.2M62.9 224.3h1.2M64.0 224.1h1.2M65.0 230.1h1.2M65.0 229.1h1.2M64.9 227.6h1.2M65.1 226.6h1.2M66.0 227.3h1.2M66.0 226.3h1.2M66.1 219.1h1.2M67.0 229.2h1.2M67.0 228.2h1.2M67.0 227.2h1.2M67.0 224.7h1.2M66.8 221.7h1.2M67.1 220.1h1.2M68.0 230.7h1.2M68.0 229.7h1.2M68.0 228.7h1.2M69.0 236.3h1.2M69.0 235.3h1.2M69.0 234.3h1.2M69.1 230.8h1.2M69.1 228.8h1.2M69.2 227.8h1.2M68.8 224.8h1.2M69.0 212.1h1.2M70.0 232.3h1.2M70.0 231.3h1.2M70.0 226.8h1.2M69.9 220.8h1.2M71.0 233.2h1.2M71.0 232.2h1.2M71.0 231.2h1.2M71.0 228.7h1.2M72.0 229.5h1.2M73.0 232.3h1.2M73.0 230.3h1.2M73.0 228.8h1.2M73.0 224.8h1.2M74.0 231.6h1.2M74.0 230.6h1.2M74.1 227.1h1.2M73.9 226.1h1.2M75.0 230.1h1.2M75.0 228.6h1.2M74.9 226.6h1.2M75.1 224.6h1.2M75.0 219.6h1.2M75.2 213.6h1.2M76.0 233.8h1.2M76.0 232.8h1.2M76.0 231.8h1.2M77.0 230.1h1.2M77.0 229.1h1.2M77.0 228.1h1.2M76.9 226.6h1.2M78.0 233.4h1.2M78.0 232.4h1.2M78.0 231.4h1.2M77.9 227.9h1.2M79.0 229.8h1.2M79.2 226.3h1.2M78.9 225.3h1.2M79.1 224.3h1.2M78.9 223.3h1.2M80.0 230.7h1.2M81.0 237.0h1.2M81.0 235.0h1.2M80.9 230.5h1.2M81.1 229.5h1.2M80.9 228.5h1.2M80.9 226.5h1.2M82.0 232.1h1.2M82.0 231.1h1.2M82.0 230.1h1.2M82.1 227.6h1.2M82.0 226.6h1.2M81.9 224.6h1.2M82.0 220.6h1.2M83.0 236.0h1.2M83.0 235.0h1.2M83.0 234.0h1.2M82.8 231.5h1.2M83.1 230.5h1.2M83.0 228.5h1.2M84.0 230.0h1.2M84.0 229.0h1.2M84.0 228.0h1.2M84.1 226.5h1.2M84.0 224.5h1.2M85.0 232.6h1.2M85.0 230.6h1.2M85.0 229.1h1.2M85.0 226.1h1.2M84.9 225.1h1.2M85.0 222.1h1.2M86.0 233.6h1.2M86.0 232.6h1.2M87.0 229.2h1.2M87.0 228.2h1.2M87.0 227.2h1.2M87.2 223.7h1.2M88.0 232.5h1.2M88.0 231.5h1.2M88.0 230.5h1.2M89.0 234.9h1.2M89.0 233.9h1.2M89.0 232.9h1.2M88.8 230.4h1.2M89.1 229.4h1.2M90.0 233.8h1.2M90.0 232.8h1.2M90.0 231.3h1.2M89.9 229.3h1.2M89.8 227.3h1.2M90.0 226.3h1.2M89.8 215.6h1.2M91.0 231.3h1.2M91.0 230.3h1.2M91.0 229.3h1.2M90.9 227.8h1.2M91.0 224.8h1.2M92.0 231.1h1.2M92.0 230.1h1.2M92.0 229.1h1.2M92.0 226.6h1.2M93.0 229.3h1.2M93.0 228.3h1.2M93.0 226.8h1.2M92.9 225.8h1.2M92.9 223.8h1.2M94.0 233.6h1.2M94.0 232.6h1.2M94.0 231.6h1.2M94.1 230.1h1.2M94.1 229.1h1.2M94.0 227.1h1.2M95.0 235.1h1.2M95.0 231.6h1.2M94.9 226.6h1.2M96.0 234.9h1.2M96.0 233.9h1.2M96.0 232.9h1.2M96.0 230.4h1.2M96.2 228.4h1.2M95.9 224.4h1.2M96.1 220.4h1.2M97.0 229.7h1.2M97.0 228.7h1.2M97.0 227.7h1.2M97.2 226.2h1.2M97.1 224.2h1.2M96.8 221.2h1.2M97.0 216.6h1.2M98.0 228.9h1.2M98.0 227.9h1.2M97.9 223.4h1.2M99.0 229.3h1.2M99.0 228.3h1.2M99.0 227.3h1.2M99.0 225.8h1.2M99.2 222.8h1.2M100.0 236.3h1.2M100.0 235.3h1.2M100.0 234.3h1.2M100.1 230.8h1.2M100.2 229.8h1.2M99.9 228.8h1.2M100.0 223.8h1.2M100.0 213.6h1.2M101.0 235.8h1.2M101.0 234.8h1.2M101.0 233.8h1.2M101.2 226.3h1.2M101.0 219.3h1.2M102.0 233.7h1.2M102.0 231.7h1.2M101.9 225.2h1.2M101.9 221.2h1.2M103.0 228.6h1.2M103.0 227.6h1.2M103.1 225.1h1.2M104.0 232.2h1.2M104.0 231.2h1.2M104.0 230.2h1.2M104.1 226.7h1.2M104.1 225.7h1.2M105.0 233.8h1.2M105.0 232.8h1.2M105.0 231.8h1.2M105.2 229.3h1.2M106.0 227.2h1.2M106.0 226.2h1.2M106.1 223.7h1.2M106.1 222.7h1.2M107.0 230.3h1.2M107.0 229.3h1.2M107.0 228.3h1.2M107.0 223.8h1.2M107.0 222.8h1.2M106.9 214.6h1.2M108.0 227.6h1.2M108.0 225.6h1.2M109.0 229.7h1.2M109.0 228.7h1.2M109.0 220.2h1.2M110.0 229.5h1.2M110.0 228.5h1.2M110.1 217.6h1.2M110.1 215.6h1.2M111.0 234.6h1.2M111.0 233.6h1.2M111.0 232.6h1.2M111.0 230.1h1.2M111.1 228.1h1.2M111.1 221.1h1.2M112.0 232.9h1.2M112.0 231.9h1.2M112.1 227.4h1.2M111.8 214.6h1.2M113.0 229.2h1.2M113.0 228.2h1.2M113.0 227.2h1.2M113.1 225.7h1.2M112.9 223.7h1.2M113.0 220.7h1.2M114.0 227.1h1.2M114.0 226.1h1.2M172.6 228.9h1.2M172.6 227.9h1.2M172.6 226.9h1.2M172.5 225.4h1.2M172.8 224.4h1.2M172.5 222.4h1.2M173.0 230.9h1.2M173.0 229.9h1.2M173.0 228.9h1.2M173.2 226.4h1.2M173.2 223.4h1.2M174.0 232.3h1.2M174.0 231.3h1.2M173.9 222.8h1.2M174.2 211.3h1.2M175.0 232.4h1.2M175.0 230.4h1.2M175.0 223.9h1.2M176.0 230.4h1.2M176.0 229.4h1.2M176.0 228.4h1.2M175.9 224.9h1.2M177.0 234.6h1.2M177.0 233.6h1.2M176.9 231.1h1.2M177.2 230.1h1.2M176.9 228.1h1.2M178.0 235.6h1.2M177.9 231.1h1.2M177.8 229.1h1.2M178.1 210.3h1.2M179.0 234.0h1.2M179.0 232.0h1.2M179.1 229.5h1.2M179.0 228.5h1.2M180.0 235.5h1.2M180.0 234.5h1.2M180.0 233.5h1.2M179.9 231.0h1.2M180.0 213.3h1.2M181.0 228.5h1.2M181.0 227.5h1.2M181.0 226.5h1.2M181.0 223.0h1.2M182.0 228.2h1.2M182.0 227.2h1.2M182.0 226.2h1.2M182.2 223.7h1.2M183.0 229.3h1.2M183.0 228.3h1.2M183.0 223.8h1.2M182.9 221.8h1.2M184.0 231.4h1.2M184.0 230.4h1.2M184.0 229.4h1.2M184.1 226.9h1.2M184.1 223.9h1.2M185.0 231.0h1.2M185.0 229.0h1.2M185.1 219.5h1.2M186.0 226.1h1.2M186.0 225.1h1.2M186.0 224.1h1.2M186.1 222.6h1.2M185.9 218.3h1.2M187.0 230.9h1.2M187.0 229.9h1.2M187.0 227.4h1.2M187.1 223.4h1.2M187.0 222.4h1.2M188.0 230.2h1.2M188.0 229.2h1.2M188.0 228.2h1.2M187.8 215.3h1.2M189.0 231.1h1.2M189.0 230.1h1.2M188.8 227.6h1.2M188.8 220.6h1.2M188.9 213.3h1.2M190.0 230.6h1.2M190.0 229.6h1.2M190.0 228.6h1.2M190.2 225.1h1.2M190.1 224.1h1.2M190.0 220.1h1.2M191.0 230.3h1.2M191.0 229.3h1.2M191.0 228.3h1.2M192.0 230.2h1.2M192.0 229.2h1.2M192.0 228.2h1.2M192.1 226.7h1.2M192.1 224.7h1.2M192.0 216.3h1.2M193.0 231.9h1.2M193.0 230.9h1.2M193.0 229.9h1.2M193.2 228.4h1.2M192.9 223.4h1.2M192.9 221.4h1.2M193.0 220.4h1.2M193.1 219.4h1.2M194.0 229.1h1.2M194.0 227.1h1.2M193.9 223.6h1.2M195.0 231.4h1.2M195.0 229.4h1.2M194.9 227.9h1.2M196.0 228.5h1.2M196.0 227.5h1.2M196.0 226.5h1.2M195.9 225.0h1.2M196.0 221.0h1.2M195.9 213.3h1.2M197.0 229.4h1.2M197.0 228.4h1.2M197.0 225.9h1.2M198.0 229.5h1.2M197.9 227.0h1.2M198.1 225.0h1.2M198.1 223.0h1.2M199.0 229.5h1.2M199.0 228.5h1.2M198.8 227.0h1.2M199.1 223.0h1.2M198.9 222.0h1.2M200.0 232.1h1.2M200.0 231.1h1.2M200.0 230.1h1.2M200.0 228.6h1.2M199.9 227.6h1.2M200.0 223.6h1.2M200.1 220.6h1.2M201.0 232.8h1.2M201.0 230.8h1.2M200.8 212.3h1.2M202.0 228.9h1.2M201.9 226.4h1.2M201.8 215.3h1.2M203.0 232.9h1.2M203.0 231.9h1.2M203.0 230.9h1.2M203.0 229.4h1.2M203.1 228.4h1.2M203.0 227.4h1.2M203.2 226.4h1.2M202.8 225.4h1.2M204.0 228.9h1.2M204.0 227.9h1.2M204.0 226.9h1.2M204.1 225.4h1.2M204.1 221.4h1.2M203.8 212.3h1.2M205.0 231.4h1.2M205.0 230.4h1.2M205.0 229.4h1.2M205.1 226.9h1.2M204.8 225.9h1.2M205.1 222.9h1.2M206.0 230.8h1.2M206.0 229.8h1.2M206.0 228.8h1.2M206.2 224.3h1.2M206.0 221.3h1.2M205.9 216.3h1.2M207.0 233.8h1.2M207.0 232.8h1.2M207.0 231.8h1.2M207.2 230.3h1.2M207.1 227.3h1.2M207.0 222.3h1.2M207.1 220.3h1.2M208.0 233.1h1.2M208.0 232.1h1.2M208.0 231.1h1.2M207.9 229.6h1.2M208.0 227.6h1.2M208.2 226.6h1.2M209.0 231.2h1.2M209.0 230.2h1.2M209.0 229.2h1.2M209.1 227.7h1.2M209.2 226.7h1.2M209.0 224.7h1.2M209.0 223.7h1.2M210.0 226.3h1.2M209.9 224.3h1.2M211.0 225.8h1.2M211.0 224.8h1.2M211.0 223.8h1.2M211.0 214.3h1.2M212.0 233.3h1.2M212.0 232.3h1.2M212.0 231.3h1.2M212.0 227.8h1.2M212.1 219.8h1.2M213.0 234.1h1.2M213.0 233.1h1.2M213.0 232.1h1.2M213.2 229.6h1.2M213.1 228.6h1.2M212.9 226.6h1.2M213.1 219.6h1.2M214.0 224.7h1.2M214.0 219.2h1.2M215.0 228.6h1.2M215.0 227.6h1.2M215.0 210.3h1.2M216.0 227.1h1.2M216.0 226.1h1.2M216.0 225.1h1.2M216.1 220.6h1.2M216.1 216.3h1.2M216.2 214.3h1.2M217.0 230.2h1.2M217.0 229.2h1.2M217.0 228.2h1.2M217.0 226.7h1.2M218.0 230.2h1.2M218.0 229.2h1.2M218.1 226.7h1.2M218.1 225.7h1.2M218.1 216.3h1.2M219.0 235.8h1.2M219.0 234.8h1.2M219.0 233.8h1.2M219.0 229.3h1.2M218.9 228.3h1.2M220.0 236.4h1.2M220.0 235.4h1.2M220.0 231.9h1.2M219.8 230.9h1.2M219.9 224.9h1.2M221.0 231.6h1.2M221.0 230.6h1.2M221.0 229.6h1.2M221.1 226.1h1.2M220.9 216.3h1.2M222.0 231.5h1.2M222.0 230.5h1.2M222.2 228.0h1.2M223.0 229.1h1.2M223.0 228.1h1.2M223.0 226.6h1.2M222.8 225.6h1.2M222.9 220.6h1.2M224.0 232.9h1.2M224.0 231.9h1.2M224.2 225.4h1.2M224.0 216.3h1.2M223.9 212.3h1.2M225.0 233.0h1.2M225.0 231.0h1.2M224.9 229.5h1.2M224.9 226.5h1.2M224.8 210.3h1.2M274.1 229.8h1.2M274.1 228.8h1.2M274.1 227.8h1.2M274.3 222.3h1.2M275.0 224.3h1.2M275.0 223.3h1.2M275.0 222.3h1.2M275.1 220.8h1.2M275.0 219.8h1.2M275.2 212.6h1.2M276.0 224.7h1.2M276.0 222.7h1.2M276.1 221.2h1.2M275.9 220.2h1.2M277.0 222.2h1.2M277.0 220.2h1.2M278.0 224.1h1.2M278.0 223.1h1.2M278.0 220.6h1.2M278.0 215.6h1.2M279.0 227.0h1.2M279.0 226.0h1.2M278.9 223.5h1.2M278.9 222.5h1.2M278.9 219.5h1.2M280.0 228.2h1.2M280.0 227.2h1.2M279.8 224.7h1.2M279.9 220.7h1.2M281.0 226.1h1.2M281.0 224.1h1.2M282.0 224.9h1.2M282.0 223.9h1.2M282.0 222.9h1.2M282.0 221.4h1.2M283.0 227.0h1.2M283.0 226.0h1.2M282.9 224.5h1.2M282.9 222.5h1.2M283.0 218.5h1.2M283.1 217.5h1.2M284.0 229.7h1.2M284.0 228.7h1.2M283.8 226.2h1.2M284.1 225.2h1.2M283.8 220.2h1.2M285.0 230.0h1.2M285.0 229.0h1.2M285.0 228.0h1.2M285.0 225.5h1.2M285.1 224.5h1.2M284.9 211.6h1.2M286.0 224.7h1.2M286.0 223.7h1.2M286.1 221.2h1.2M286.0 217.2h1.2M287.0 223.8h1.2M287.0 222.8h1.2M287.0 221.8h1.2M286.9 216.3h1.2M288.0 228.1h1.2M288.0 227.1h1.2M288.0 226.1h1.2M288.1 224.6h1.2M287.9 221.6h1.2M287.8 213.6h1.2M289.0 233.9h1.2M289.0 231.9h1.2M289.0 230.4h1.2M289.0 229.4h1.2M288.8 226.4h1.2M290.0 232.6h1.2M290.0 231.6h1.2M290.1 228.1h1.2M290.0 225.1h1.2M291.0 226.5h1.2M291.0 225.5h1.2M291.0 224.5h1.2M291.1 222.0h1.2M291.1 219.0h1.2M291.2 212.6h1.2M292.0 225.6h1.2M292.0 224.6h1.2M291.9 220.1h1.2M292.0 217.1h1.2M293.0 233.3h1.2M293.0 232.3h1.2M293.1 225.8h1.2M294.0 231.2h1.2M294.0 230.2h1.2M294.0 229.2h1.2M294.0 227.7h1.2M293.9 225.7h1.2M295.0 228.5h1.2M295.0 227.5h1.2M295.0 226.5h1.2M296.0 223.8h1.2M296.0 221.8h1.2M296.1 220.3h1.2M297.0 226.3h1.2M297.0 225.3h1.2M297.0 224.3h1.2M297.1 219.8h1.2M297.0 217.8h1.2M298.0 224.4h1.2M298.0 223.4h1.2M298.0 220.9h1.2M298.0 219.9h1.2M299.0 228.6h1.2M299.2 226.1h1.2M300.0 231.3h1.2M300.0 230.3h1.2M300.0 226.8h1.2M299.9 223.8h1.2M300.0 215.6h1.2M301.0 224.6h1.2M301.0 223.6h1.2M301.0 222.6h1.2M301.1 221.1h1.2M301.0 213.6h1.2M302.0 229.7h1.2M302.0 228.7h1.2M302.1 226.2h1.2M302.0 225.2h1.2M302.1 223.2h1.2M302.2 215.6h1.2M302.0 214.6h1.2M303.0 228.8h1.2M303.0 227.8h1.2M302.8 226.3h1.2M303.2 224.3h1.2M303.1 212.6h1.2M304.0 228.4h1.2M304.0 227.4h1.2M304.1 225.9h1.2M304.2 221.9h1.2M303.8 218.9h1.2M305.0 227.4h1.2M305.0 226.4h1.2M305.0 225.4h1.2M305.1 223.9h1.2M304.9 222.9h1.2M305.0 221.9h1.2M304.9 220.9h1.2M306.0 226.4h1.2M306.0 225.4h1.2M306.0 224.4h1.2M307.0 224.7h1.2M307.0 223.7h1.2M307.0 222.7h1.2M308.0 222.7h1.2M308.0 221.7h1.2M308.0 220.7h1.2M308.1 219.2h1.2M309.0 226.0h1.2M309.0 225.0h1.2M309.0 224.0h1.2M309.0 222.5h1.2M310.0 226.1h1.2M310.0 225.1h1.2M310.0 223.6h1.2M310.0 221.6h1.2M311.0 227.9h1.2M311.0 226.9h1.2M311.0 225.9h1.2M310.8 224.4h1.2M311.1 219.4h1.2M310.9 216.4h1.2M312.0 229.2h1.2M312.0 228.2h1.2M312.0 227.2h1.2M312.1 225.7h1.2M311.9 224.7h1.2M312.0 222.7h1.2M312.0 219.7h1.2M313.0 227.0h1.2M313.0 226.0h1.2M313.0 225.0h1.2M314.0 226.2h1.2M314.0 225.2h1.2M314.0 224.2h1.2M313.9 222.7h1.2M314.2 221.7h1.2M313.9 217.7h1.2M285.4 213.6h1.2M285.6 212.6h1.2M285.4 211.6h1.2M286.5 210.6h1.2M287.7 211.6h1.2M287.3 210.6h1.2M287.5 209.6h1.2M288.5 213.6h1.2M288.5 211.6h1.2M288.6 210.6h1.2"/>
<path fill="#fff" d="M59.0 241.1h1.0v1.0h-1.0zM65.0 234.0h1.0v1.0h-1.0zM65.0 238.0h1.0v1.0h-1.0zM67.0 233.1h1.0v1.0h-1.0zM69.0 244.2h1.0v1.0h-1.0zM71.0 239.1h1.0v1.0h-1.0zM74.3 233.0h1.0v1.0h-1.0zM73.8 238.0h1.8v1.8h-1.8zM74.2 242.0h1.2v1.2h-1.2zM73.5 250.0h1.0v1.0h-1.0zM74.8 235.5h1.0v1.0h-1.0zM75.4 236.5h1.8v1.8h-1.8zM75.2 238.5h1.2v1.2h-1.2zM75.4 242.5h1.0v1.0h-1.0zM75.0 252.5h1.8v1.8h-1.8zM75.9 233.2h1.5v1.5h-1.5zM75.7 236.2h1.0v1.0h-1.0zM76.3 237.2h1.8v1.8h-1.8zM76.4 252.2h1.8v1.8h-1.8zM76.6 237.5h1.0v1.0h-1.0zM77.3 250.5h1.0v1.0h-1.0zM77.8 237.8h1.5v1.5h-1.5zM77.6 239.8h1.0v1.0h-1.0zM78.2 240.8h1.8v1.8h-1.8zM78.1 244.8h1.5v1.5h-1.5zM78.1 246.8h1.8v1.8h-1.8zM77.9 249.8h1.2v1.2h-1.2zM79.3 230.2h1.8v1.8h-1.8zM79.5 237.2h1.5v1.5h-1.5zM79.1 242.2h1.5v1.5h-1.5zM79.0 243.2h1.5v1.5h-1.5zM78.9 249.2h1.2v1.2h-1.2zM80.0 232.1h1.0v1.0h-1.0zM79.8 235.1h1.2v1.2h-1.2zM80.2 237.1h1.5v1.5h-1.5zM79.8 245.1h1.8v1.8h-1.8zM81.0 243.9h1.0v1.0h-1.0zM80.6 235.4h1.8v1.8h-1.8zM80.8 238.4h1.8v1.8h-1.8zM80.8 247.4h1.5v1.5h-1.5zM81.1 250.4h1.2v1.2h-1.2zM81.8 230.5h1.0v1.0h-1.0zM81.9 231.5h1.0v1.0h-1.0zM81.8 236.5h1.8v1.8h-1.8zM82.1 248.5h1.5v1.5h-1.5zM83.4 237.4h1.5v1.5h-1.5zM83.1 240.4h1.0v1.0h-1.0zM83.2 241.4h1.8v1.8h-1.8zM82.9 245.4h1.2v1.2h-1.2zM83.4 250.4h1.5v1.5h-1.5zM83.2 252.4h1.0v1.0h-1.0zM84.3 231.4h1.5v1.5h-1.5zM84.0 236.4h1.5v1.5h-1.5zM84.3 243.4h1.2v1.2h-1.2zM83.5 245.4h1.0v1.0h-1.0zM84.1 251.4h1.0v1.0h-1.0zM84.6 242.0h1.5v1.5h-1.5zM84.5 243.0h1.5v1.5h-1.5zM84.9 244.0h1.8v1.8h-1.8zM85.0 249.0h1.0v1.0h-1.0zM85.5 250.0h1.5v1.5h-1.5zM84.6 253.0h1.0v1.0h-1.0zM85.8 233.0h1.5v1.5h-1.5zM85.9 242.0h1.2v1.2h-1.2zM86.4 246.0h1.8v1.8h-1.8zM85.6 249.0h1.5v1.5h-1.5zM85.8 251.0h1.5v1.5h-1.5zM87.0 232.1h1.0v1.0h-1.0zM87.0 229.6h1.8v1.8h-1.8zM87.1 230.6h1.2v1.2h-1.2zM86.6 231.6h1.0v1.0h-1.0zM86.7 243.6h1.5v1.5h-1.5zM86.7 245.6h1.5v1.5h-1.5zM87.0 250.6h1.0v1.0h-1.0zM87.5 230.9h1.0v1.0h-1.0zM87.9 239.9h1.2v1.2h-1.2zM88.4 241.9h1.8v1.8h-1.8zM87.9 248.9h1.2v1.2h-1.2zM88.2 252.9h1.5v1.5h-1.5zM88.9 237.3h1.5v1.5h-1.5zM88.9 240.3h1.5v1.5h-1.5zM88.6 246.3h1.8v1.8h-1.8zM89.3 247.3h1.0v1.0h-1.0zM89.6 233.2h1.2v1.2h-1.2zM89.6 241.2h1.5v1.5h-1.5zM90.4 243.2h1.5v1.5h-1.5zM90.3 250.2h1.2v1.2h-1.2zM91.2 231.7h1.8v1.8h-1.8zM91.4 235.7h1.8v1.8h-1.8zM90.7 237.7h1.2v1.2h-1.2zM91.0 238.7h1.5v1.5h-1.5zM91.2 240.7h1.5v1.5h-1.5zM91.0 250.7h1.8v1.8h-1.8zM92.2 233.5h1.0v1.0h-1.0zM92.3 241.5h1.2v1.2h-1.2zM91.8 248.5h1.0v1.0h-1.0zM92.2 252.5h1.5v1.5h-1.5zM92.7 228.7h1.8v1.8h-1.8zM93.4 233.7h1.8v1.8h-1.8zM92.9 237.7h1.8v1.8h-1.8zM93.1 243.7h1.8v1.8h-1.8zM93.0 247.7h1.8v1.8h-1.8zM93.0 249.7h1.5v1.5h-1.5zM104.0 237.1h1.0v1.0h-1.0zM106.0 229.1h1.0v1.0h-1.0zM110.0 235.4h1.0v1.0h-1.0zM127.0 231.7h1.0v1.0h-1.0zM134.1 238.2h1.0v1.0h-1.0zM134.9 232.9h1.2v1.2h-1.2zM135.2 233.9h1.8v1.8h-1.8zM135.1 235.9h1.5v1.5h-1.5zM135.1 242.9h1.8v1.8h-1.8zM136.2 234.1h1.2v1.2h-1.2zM136.2 239.1h1.2v1.2h-1.2zM135.8 246.1h1.0v1.0h-1.0zM136.7 236.2h1.5v1.5h-1.5zM136.7 239.2h1.0v1.0h-1.0zM136.7 242.2h1.0v1.0h-1.0zM136.8 247.2h1.2v1.2h-1.2zM137.5 240.2h1.0v1.0h-1.0zM138.4 248.2h1.2v1.2h-1.2zM139.3 234.2h1.8v1.8h-1.8zM141.0 232.9h1.0v1.0h-1.0zM140.9 236.4h1.2v1.2h-1.2zM140.5 244.4h1.0v1.0h-1.0zM141.1 251.4h1.0v1.0h-1.0zM142.3 234.0h1.0v1.0h-1.0zM142.1 236.0h1.8v1.8h-1.8zM143.5 230.9h1.2v1.2h-1.2zM143.8 236.4h1.8v1.8h-1.8zM145.0 233.0h1.0v1.0h-1.0zM144.7 237.0h1.8v1.8h-1.8zM145.4 249.0h1.8v1.8h-1.8zM145.8 234.7h1.5v1.5h-1.5zM146.5 238.7h1.5v1.5h-1.5zM145.5 240.7h1.0v1.0h-1.0zM146.2 242.7h1.5v1.5h-1.5zM146.1 248.7h1.2v1.2h-1.2zM145.7 251.7h1.2v1.2h-1.2zM147.3 238.2h1.2v1.2h-1.2zM147.0 243.2h1.0v1.0h-1.0zM146.6 247.2h1.2v1.2h-1.2zM147.5 233.4h1.2v1.2h-1.2zM148.8 229.7h1.8v1.8h-1.8zM148.5 239.7h1.0v1.0h-1.0zM149.3 240.7h1.8v1.8h-1.8zM149.1 243.7h1.5v1.5h-1.5zM149.0 250.7h1.8v1.8h-1.8zM150.2 234.1h1.5v1.5h-1.5zM150.8 230.7h1.2v1.2h-1.2zM150.6 231.7h1.5v1.5h-1.5zM150.8 237.7h1.0v1.0h-1.0zM151.4 242.7h1.5v1.5h-1.5zM152.3 232.9h1.5v1.5h-1.5zM152.7 233.1h1.0v1.0h-1.0zM152.5 241.1h1.5v1.5h-1.5zM153.3 253.1h1.8v1.8h-1.8zM154.2 230.2h1.5v1.5h-1.5zM154.4 242.2h1.5v1.5h-1.5zM154.2 244.2h1.0v1.0h-1.0zM155.2 242.5h1.0v1.0h-1.0zM156.2 241.3h1.5v1.5h-1.5zM157.3 231.6h1.5v1.5h-1.5zM156.6 244.6h1.2v1.2h-1.2zM156.7 245.6h1.2v1.2h-1.2zM156.5 250.6h1.2v1.2h-1.2zM157.7 234.7h1.8v1.8h-1.8zM157.5 239.7h1.8v1.8h-1.8zM159.4 232.7h1.0v1.0h-1.0zM158.9 240.7h1.8v1.8h-1.8zM176.0 238.3h1.0v1.0h-1.0zM179.6 234.9h1.2v1.2h-1.2zM180.6 233.9h1.8v1.8h-1.8zM181.7 242.6h1.2v1.2h-1.2zM183.0 232.7h1.5v1.5h-1.5zM183.7 242.8h1.0v1.0h-1.0zM185.0 237.9h1.0v1.0h-1.0zM184.8 249.4h1.5v1.5h-1.5zM186.1 226.5h1.5v1.5h-1.5zM185.5 232.5h1.0v1.0h-1.0zM186.2 236.5h1.5v1.5h-1.5zM186.5 238.5h1.0v1.0h-1.0zM187.0 239.8h1.0v1.0h-1.0zM188.2 238.6h1.0v1.0h-1.0zM188.4 239.6h1.2v1.2h-1.2zM187.8 241.6h1.8v1.8h-1.8zM189.0 237.0h1.0v1.0h-1.0zM189.4 229.5h1.0v1.0h-1.0zM189.0 230.5h1.2v1.2h-1.2zM188.8 232.5h1.8v1.8h-1.8zM188.8 233.5h1.0v1.0h-1.0zM190.0 243.0h1.2v1.2h-1.2zM191.3 228.7h1.0v1.0h-1.0zM192.0 232.1h1.0v1.0h-1.0zM192.5 228.6h1.5v1.5h-1.5zM193.0 233.8h1.0v1.0h-1.0zM193.2 238.3h1.0v1.0h-1.0zM192.6 247.3h1.8v1.8h-1.8zM193.5 230.5h1.5v1.5h-1.5zM195.0 233.3h1.0v1.0h-1.0zM194.8 229.8h1.2v1.2h-1.2zM194.9 234.8h1.0v1.0h-1.0zM196.2 238.9h1.2v1.2h-1.2zM197.0 228.8h1.0v1.0h-1.0zM197.0 232.8h1.5v1.5h-1.5zM196.7 246.8h1.0v1.0h-1.0zM198.4 230.9h1.8v1.8h-1.8zM199.2 240.9h1.5v1.5h-1.5zM199.4 245.9h1.5v1.5h-1.5zM200.1 230.5h1.2v1.2h-1.2zM199.8 237.5h1.8v1.8h-1.8zM201.5 246.2h1.0v1.0h-1.0zM202.0 228.3h1.2v1.2h-1.2zM202.3 229.3h1.2v1.2h-1.2zM202.1 230.3h1.0v1.0h-1.0zM201.6 234.3h1.5v1.5h-1.5zM203.4 237.3h1.5v1.5h-1.5zM204.1 229.3h1.8v1.8h-1.8zM203.7 238.3h1.5v1.5h-1.5zM206.0 231.7h1.0v1.0h-1.0zM206.3 235.2h1.2v1.2h-1.2zM205.8 236.2h1.5v1.5h-1.5zM208.1 240.5h1.2v1.2h-1.2zM207.8 251.5h1.8v1.8h-1.8zM209.3 234.6h1.5v1.5h-1.5zM209.1 235.6h1.2v1.2h-1.2zM208.9 245.6h1.0v1.0h-1.0zM211.0 230.7h1.0v1.0h-1.0zM212.0 242.2h1.0v1.0h-1.0zM221.0 234.5h1.0v1.0h-1.0zM238.0 230.7h1.8v1.8h-1.8zM238.0 239.7h1.8v1.8h-1.8zM237.9 240.7h1.2v1.2h-1.2zM237.8 241.7h1.5v1.5h-1.5zM238.9 235.4h1.0v1.0h-1.0zM239.3 237.4h1.8v1.8h-1.8zM238.9 238.4h1.5v1.5h-1.5zM238.7 239.4h1.0v1.0h-1.0zM238.7 248.4h1.5v1.5h-1.5zM240.1 236.9h1.2v1.2h-1.2zM240.1 247.9h1.0v1.0h-1.0zM239.9 251.9h1.8v1.8h-1.8zM239.9 252.9h1.0v1.0h-1.0zM240.6 231.8h1.8v1.8h-1.8zM240.7 234.8h1.8v1.8h-1.8zM241.4 235.8h1.8v1.8h-1.8zM240.7 237.8h1.8v1.8h-1.8zM241.3 241.8h1.2v1.2h-1.2zM240.5 242.8h1.8v1.8h-1.8zM242.0 236.2h1.0v1.0h-1.0zM242.0 234.7h1.8v1.8h-1.8zM242.2 240.7h1.8v1.8h-1.8zM243.0 233.8h1.8v1.8h-1.8zM242.8 234.8h1.5v1.5h-1.5zM242.8 243.8h1.0v1.0h-1.0zM243.2 248.8h1.5v1.5h-1.5zM243.5 228.5h1.5v1.5h-1.5zM243.7 239.5h1.5v1.5h-1.5zM244.2 244.5h1.0v1.0h-1.0zM244.5 249.5h1.5v1.5h-1.5zM244.1 252.5h1.2v1.2h-1.2zM245.5 230.7h1.5v1.5h-1.5zM244.9 235.7h1.8v1.8h-1.8zM245.1 239.7h1.2v1.2h-1.2zM245.1 245.7h1.0v1.0h-1.0zM246.6 238.2h1.0v1.0h-1.0zM246.7 245.2h1.0v1.0h-1.0zM247.3 247.2h1.2v1.2h-1.2zM248.2 234.0h1.2v1.2h-1.2zM247.6 238.0h1.2v1.2h-1.2zM247.5 240.0h1.5v1.5h-1.5zM248.2 248.0h1.8v1.8h-1.8zM249.5 224.7h1.8v1.8h-1.8zM249.5 228.7h1.2v1.2h-1.2zM248.9 230.7h1.0v1.0h-1.0zM249.0 236.7h1.0v1.0h-1.0zM248.6 242.7h1.2v1.2h-1.2zM248.8 252.7h1.0v1.0h-1.0zM250.3 229.9h1.5v1.5h-1.5zM250.3 230.9h1.0v1.0h-1.0zM250.0 239.9h1.2v1.2h-1.2zM249.6 246.9h1.0v1.0h-1.0zM250.6 234.8h1.2v1.2h-1.2zM250.6 235.8h1.0v1.0h-1.0zM251.1 252.8h1.0v1.0h-1.0zM281.0 234.0h1.0v1.0h-1.0zM284.0 237.6h1.0v1.0h-1.0zM284.6 241.4h1.0v1.0h-1.0zM285.8 234.1h1.5v1.5h-1.5zM286.3 252.1h1.0v1.0h-1.0zM288.0 241.5h1.5v1.5h-1.5zM290.0 238.5h1.0v1.0h-1.0zM289.6 232.0h1.5v1.5h-1.5zM291.0 227.4h1.0v1.0h-1.0zM292.2 224.0h1.0v1.0h-1.0zM292.2 232.0h1.2v1.2h-1.2zM292.2 235.0h1.8v1.8h-1.8zM293.0 242.2h1.0v1.0h-1.0zM293.8 252.6h1.5v1.5h-1.5zM295.1 229.9h1.5v1.5h-1.5zM295.4 241.9h1.5v1.5h-1.5zM295.3 246.9h1.8v1.8h-1.8zM297.2 234.7h1.0v1.0h-1.0zM298.0 227.3h1.0v1.0h-1.0zM298.0 231.3h1.0v1.0h-1.0zM298.3 243.8h1.2v1.2h-1.2zM301.0 225.5h1.0v1.0h-1.0zM301.0 237.0h1.5v1.5h-1.5zM302.8 241.2h1.2v1.2h-1.2zM304.0 231.3h1.0v1.0h-1.0zM310.0 235.0h1.0v1.0h-1.0zM314.0 229.1h1.0v1.0h-1.0zM332.8 225.2h1.0v1.0h-1.0zM332.6 228.2h1.5v1.5h-1.5zM333.4 230.2h1.5v1.5h-1.5zM333.3 247.2h1.8v1.8h-1.8zM333.9 239.3h1.0v1.0h-1.0zM334.1 240.3h1.2v1.2h-1.2zM334.1 246.3h1.2v1.2h-1.2zM335.1 232.2h1.0v1.0h-1.0zM335.4 240.2h1.0v1.0h-1.0zM334.6 241.2h1.5v1.5h-1.5zM335.2 244.2h1.5v1.5h-1.5zM336.2 249.8h1.8v1.8h-1.8zM337.4 235.1h1.8v1.8h-1.8zM337.4 236.1h1.2v1.2h-1.2zM337.5 233.7h1.0v1.0h-1.0zM338.4 235.7h1.5v1.5h-1.5zM338.0 241.7h1.5v1.5h-1.5zM337.6 246.7h1.2v1.2h-1.2zM338.5 232.9h1.8v1.8h-1.8zM338.6 241.9h1.0v1.0h-1.0zM340.4 247.7h1.5v1.5h-1.5zM341.2 231.3h1.0v1.0h-1.0zM341.4 238.3h1.2v1.2h-1.2zM341.4 242.3h1.8v1.8h-1.8zM342.5 247.5h1.5v1.5h-1.5zM343.5 232.9h1.2v1.2h-1.2zM342.8 235.9h1.2v1.2h-1.2zM343.5 229.4h1.0v1.0h-1.0zM343.5 238.4h1.8v1.8h-1.8zM344.5 231.3h1.8v1.8h-1.8zM344.6 234.3h1.5v1.5h-1.5zM345.3 236.3h1.8v1.8h-1.8zM345.5 237.3h1.5v1.5h-1.5zM346.2 230.2h1.8v1.8h-1.8zM346.4 234.2h1.8v1.8h-1.8zM346.4 235.2h1.8v1.8h-1.8zM346.1 237.2h1.8v1.8h-1.8zM346.9 245.6h1.8v1.8h-1.8zM348.0 227.9h1.0v1.0h-1.0zM348.3 229.9h1.8v1.8h-1.8zM348.2 238.9h1.0v1.0h-1.0zM347.6 246.9h1.0v1.0h-1.0zM349.3 237.0h1.5v1.5h-1.5zM349.0 238.0h1.0v1.0h-1.0zM348.7 247.0h1.5v1.5h-1.5z"/>
<path d="M42.0 277.00V333.40" stroke="#444" stroke-width="0.8" fill="none"/>
<path d="M40.20 277.00H42.0" stroke="#444" stroke-width="0.8"/>
<text x="38.90" y="277.00" font-size="6.9" text-anchor="middle" fill="#333" transform="rotate(-90 38.90 277.00)">0.9</text>
<path d="M40.20 286.40H42.0" stroke="#444" stroke-width="0.8"/>
<path d="M40.20 295.80H42.0" stroke="#444" stroke-width="0.8"/>
<text x="38.90" y="295.80" font-size="6.9" text-anchor="middle" fill="#333" transform="rotate(-90 38.90 295.80)">0.8</text>
<path d="M40.20 305.20H42.0" stroke="#444" stroke-width="0.8"/>
<path d="M40.20 314.60H42.0" stroke="#444" stroke-width="0.8"/>
<text x="38.90" y="314.60" font-size="6.9" text-anchor="middle" fill="#333" transform="rotate(-90 38.90 314.60)">0.7</text>
<path d="M40.20 324.00H42.0" stroke="#444" stroke-width="0.8"/>
<path d="M40.20 333.40H42.0" stroke="#444" stroke-width="0.8"/>
<text x="38.90" y="333.40" font-size="6.9" text-anchor="middle" fill="#333" transform="rotate(-90 38.90 333.40)">0.6</text>
<text x="27.40" y="304.70" font-size="6.8" text-anchor="middle" fill="#8a8a8a" transform="rotate(-90 27.40 304.70)">|<tspan font-style="italic">Rho</tspan>|</text>
<text x="189.00" y="272.40" font-size="8.4" text-anchor="middle" fill="#222">AF vs latitude</text>
<text x="46" y="280.30" font-size="8.4" fill="#222"><tspan font-style="italic">P</tspan> &lt; 1.0e<tspan font-size="4.7" dy="-2.3">-200</tspan><tspan dy="2.3"> for latitude</tspan></text>
<path fill="#a7a8ab" d="M114.8 335.4V317.4H115.0V317.8H116.0V319.4H117.0V315.3H118.0V315.1H119.0V320.2H120.0V314.1H121.0V317.2H122.0V316.9H123.0V314.7H124.0V317.2H125.0V317.3H126.0V320.4H127.0V316.9H128.0V317.9H129.0V317.7H130.0V318.6H131.0V318.8H132.0V319.7H133.0V319.0H134.0V319.8H135.0V319.3H136.0V322.9H137.0V323.9H138.0V316.6H139.0V323.4H140.0V325.9H141.0V323.8H142.0V321.9H143.0V324.1H144.0V322.3H145.0V317.9H146.0V321.6H147.0V327.0H148.0V325.5H149.0V321.2H150.0V320.7H151.0V322.3H152.0V322.6H153.0V325.9H154.0V321.4H155.0V323.3H156.0V325.7H157.0V322.2H158.0V326.5H159.0V318.2H160.0V312.9H161.0V313.0H162.0V311.6H163.0V316.1H164.0V307.5H165.0V313.0H166.0V311.7H167.0V314.2H168.0V312.5H169.0V309.3H170.0V315.2H171.0V318.8H172.0V316.9H172.6V335.4ZM225.2 335.4V315.3H226.0V312.9H227.0V319.0H228.0V317.5H229.0V323.2H230.0V321.0H231.0V321.4H232.0V320.3H233.0V317.6H234.0V318.3H235.0V318.1H236.0V315.5H237.0V319.3H238.0V318.7H239.0V327.8H240.0V325.0H241.0V329.8H242.0V324.8H243.0V324.9H244.0V323.0H245.0V325.8H246.0V326.9H247.0V324.1H248.0V323.7H249.0V322.7H250.0V323.8H251.0V315.4H252.0V315.0H253.0V314.0H254.0V314.7H255.0V316.0H256.0V315.1H257.0V318.7H258.0V315.6H259.0V318.2H260.0V320.4H261.0V317.2H262.0V315.6H263.0V321.5H264.0V315.0H265.0V319.9H266.0V319.4H267.0V319.8H268.0V318.9H269.0V321.1H270.0V317.0H271.0V314.4H272.0V318.3H273.0V317.5H274.0V321.9H274.1V335.4ZM314.5 335.4V315.8H315.0V312.9H316.0V314.7H317.0V308.5H318.0V309.9H319.0V310.3H320.0V291.2H321.0V286.5H322.0V293.6H323.0V292.3H324.0V290.9H325.0V287.7H326.0V288.9H327.0V286.8H328.0V288.1H329.0V309.1H330.0V308.9H331.0V308.7H332.0V312.4H333.0V317.9H334.0V317.7H335.0V318.2H336.0V314.6H337.0V316.8H338.0V318.7H339.0V316.9H340.0V317.3H341.0V320.6H342.0V317.0H343.0V319.1H344.0V317.4H345.0V317.2H346.0V315.1H347.0V316.5H348.0V318.7H349.0V314.6H350.0V317.2H350.5V335.4ZM121.3 335.4V291.7h1.4V335.4Z"/>
<path fill="#0b0b0b" d="M54.0 335.4V314.0H55.0V314.8H56.0V314.0H57.0V313.5H58.0V312.0H59.0V306.7H60.0V306.8H61.0V309.3H62.0V314.4H63.0V313.3H64.0V317.6H65.0V315.2H66.0V314.3H67.0V314.1H68.0V314.2H69.0V322.9H70.0V322.1H71.0V318.7H72.0V318.3H73.0V318.7H74.0V320.8H75.0V322.8H76.0V321.4H77.0V320.4H78.0V322.3H79.0V322.8H80.0V321.7H81.0V320.0H82.0V319.4H83.0V316.9H84.0V324.3H85.0V324.4H86.0V322.6H87.0V318.3H88.0V322.2H89.0V315.6H90.0V319.5H91.0V310.8H92.0V307.9H93.0V310.0H94.0V313.8H95.0V311.1H96.0V307.7H97.0V312.3H98.0V312.8H99.0V312.9H100.0V304.6H101.0V309.6H102.0V311.5H103.0V310.6H104.0V308.7H105.0V308.5H106.0V308.3H107.0V308.4H108.0V311.6H109.0V312.6H110.0V313.3H111.0V314.7H112.0V309.4H113.0V308.9H114.0V303.7H114.8V335.4ZM172.6 335.4V303.7H173.0V298.1H174.0V301.4H175.0V299.4H176.0V304.6H177.0V303.6H178.0V305.2H179.0V309.8H180.0V301.5H181.0V300.8H182.0V296.8H183.0V301.4H184.0V302.1H185.0V302.8H186.0V309.4H187.0V314.2H188.0V312.7H189.0V306.4H190.0V310.6H191.0V311.0H192.0V314.1H193.0V312.7H194.0V310.6H195.0V307.0H196.0V305.1H197.0V309.7H198.0V309.7H199.0V312.1H200.0V308.8H201.0V313.2H202.0V311.3H203.0V307.4H204.0V308.3H205.0V308.6H206.0V308.8H207.0V312.3H208.0V310.1H209.0V306.8H210.0V302.2H211.0V305.1H212.0V303.0H213.0V300.6H214.0V296.6H215.0V303.1H216.0V307.3H217.0V305.2H218.0V307.1H219.0V304.5H220.0V300.0H221.0V302.5H222.0V309.9H223.0V306.7H224.0V301.0H225.0V304.5H225.2V335.4ZM274.1 335.4V318.6H275.0V314.2H276.0V320.2H277.0V319.2H278.0V315.9H279.0V321.8H280.0V318.4H281.0V319.1H282.0V317.5H283.0V317.9H284.0V321.3H285.0V316.7H286.0V320.2H287.0V321.2H288.0V320.0H289.0V321.6H290.0V323.1H291.0V323.0H292.0V324.6H293.0V324.7H294.0V322.7H295.0V325.8H296.0V324.0H297.0V322.2H298.0V321.8H299.0V322.1H300.0V323.3H301.0V324.2H302.0V318.2H303.0V318.4H304.0V320.7H305.0V319.7H306.0V316.5H307.0V315.5H308.0V308.4H309.0V313.5H310.0V317.0H311.0V312.6H312.0V316.7H313.0V319.8H314.0V318.6H314.5V335.4Z"/>
<path stroke="#a7a8ab" stroke-width="1.2" fill="none" d="M114.8 316.0h1.2M114.8 315.0h1.2M114.9 312.5h1.2M115.0 309.5h1.2M115.0 317.4h1.2M115.0 316.4h1.2M115.0 315.4h1.2M115.1 305.9h1.2M116.0 318.0h1.2M116.0 317.0h1.2M116.0 312.5h1.2M116.1 310.5h1.2M116.2 305.5h1.2M117.0 312.9h1.2M117.0 311.4h1.2M117.0 310.4h1.2M117.0 304.4h1.2M116.9 302.6h1.2M118.0 313.7h1.2M118.0 312.7h1.2M118.0 308.2h1.2M118.1 299.6h1.2M119.0 319.8h1.2M119.0 318.8h1.2M119.0 317.8h1.2M118.9 316.3h1.2M119.2 315.3h1.2M119.2 314.3h1.2M119.1 311.3h1.2M119.2 307.3h1.2M120.0 313.7h1.2M120.0 312.7h1.2M120.0 311.7h1.2M121.0 316.8h1.2M121.0 315.8h1.2M121.0 314.8h1.2M121.0 313.3h1.2M121.2 312.3h1.2M122.0 314.5h1.2M123.0 314.3h1.2M122.8 309.8h1.2M123.1 303.8h1.2M123.2 297.6h1.2M124.0 315.8h1.2M124.0 314.8h1.2M124.1 310.3h1.2M123.8 308.3h1.2M125.0 316.9h1.2M125.0 315.9h1.2M125.0 314.9h1.2M124.8 312.4h1.2M124.9 309.4h1.2M125.0 308.4h1.2M125.0 307.4h1.2M125.0 306.4h1.2M124.9 304.4h1.2M125.0 299.6h1.2M126.0 320.0h1.2M126.0 319.0h1.2M126.0 311.5h1.2M127.0 316.5h1.2M127.0 314.5h1.2M126.9 311.0h1.2M127.0 310.0h1.2M128.0 317.5h1.2M128.0 316.5h1.2M128.2 312.0h1.2M127.9 311.0h1.2M128.1 308.0h1.2M129.0 317.3h1.2M129.0 316.3h1.2M129.0 315.3h1.2M129.1 312.8h1.2M129.0 311.8h1.2M129.0 308.8h1.2M128.9 298.6h1.2M129.2 297.6h1.2M130.0 318.2h1.2M130.0 316.2h1.2M129.8 314.7h1.2M129.9 312.7h1.2M130.1 306.7h1.2M131.0 318.4h1.2M132.0 319.3h1.2M132.0 318.3h1.2M132.0 317.3h1.2M132.1 315.8h1.2M131.8 313.8h1.2M131.9 312.8h1.2M132.1 308.8h1.2M132.9 315.1h1.2M132.9 312.1h1.2M134.0 319.4h1.2M134.0 318.4h1.2M133.8 315.9h1.2M134.1 314.9h1.2M134.0 310.9h1.2M134.1 308.6h1.2M135.0 318.9h1.2M135.0 317.9h1.2M135.0 316.9h1.2M135.1 315.4h1.2M136.0 321.5h1.2M136.0 320.5h1.2M136.0 319.0h1.2M135.9 315.0h1.2M136.0 314.0h1.2M137.0 322.5h1.2M137.0 321.5h1.2M137.2 316.0h1.2M138.0 314.2h1.2M139.0 323.0h1.2M139.0 321.0h1.2M140.0 322.0h1.2M140.1 315.0h1.2M141.0 323.4h1.2M141.0 322.4h1.2M141.0 321.4h1.2M141.1 317.9h1.2M142.0 321.5h1.2M142.0 320.5h1.2M142.0 319.5h1.2M141.9 318.0h1.2M142.1 317.0h1.2M142.2 316.0h1.2M143.0 323.7h1.2M143.0 322.7h1.2M143.0 321.7h1.2M143.2 319.2h1.2M143.2 314.2h1.2M142.9 312.2h1.2M144.0 321.9h1.2M144.0 320.9h1.2M144.0 319.9h1.2M143.9 318.4h1.2M145.0 317.5h1.2M145.0 316.5h1.2M145.2 311.0h1.2M146.0 320.2h1.2M146.0 319.2h1.2M146.0 317.7h1.2M147.0 326.6h1.2M147.0 325.6h1.2M147.0 324.6h1.2M146.9 320.1h1.2M146.9 318.1h1.2M147.1 315.1h1.2M147.1 314.1h1.2M147.1 306.6h1.2M148.0 324.1h1.2M148.0 323.1h1.2M147.9 321.6h1.2M147.9 316.6h1.2M147.9 314.6h1.2M149.0 320.8h1.2M149.0 318.8h1.2M149.0 317.3h1.2M149.2 310.6h1.2M150.0 320.3h1.2M150.0 318.3h1.2M150.1 314.8h1.2M150.2 313.8h1.2M149.9 309.6h1.2M151.0 321.9h1.2M151.0 320.9h1.2M151.0 319.9h1.2M151.1 318.4h1.2M150.9 311.4h1.2M152.0 322.2h1.2M152.0 320.2h1.2M153.0 325.5h1.2M153.0 324.5h1.2M153.0 323.5h1.2M153.0 315.0h1.2M152.9 314.0h1.2M154.0 321.0h1.2M154.0 320.0h1.2M154.0 319.0h1.2M153.8 315.5h1.2M153.8 313.5h1.2M154.1 309.6h1.2M154.0 308.6h1.2M155.0 322.9h1.2M155.0 321.9h1.2M155.0 320.9h1.2M154.8 318.4h1.2M155.2 317.4h1.2M155.0 316.4h1.2M155.0 315.4h1.2M155.0 311.4h1.2M156.0 324.3h1.2M156.0 323.3h1.2M156.1 321.8h1.2M156.0 320.8h1.2M155.8 319.8h1.2M156.2 314.8h1.2M156.0 307.6h1.2M157.0 319.8h1.2M157.2 315.3h1.2M156.9 314.3h1.2M157.1 308.6h1.2M157.1 307.6h1.2M158.0 326.1h1.2M158.0 325.1h1.2M158.0 324.1h1.2M157.9 319.6h1.2M158.2 318.6h1.2M158.0 317.6h1.2M159.0 316.8h1.2M159.0 315.8h1.2M158.9 313.3h1.2M159.0 311.3h1.2M160.0 312.5h1.2M160.0 309.0h1.2M159.9 307.0h1.2M160.0 304.0h1.2M160.0 297.6h1.2M161.0 312.6h1.2M161.0 310.6h1.2M161.0 308.1h1.2M161.0 304.1h1.2M162.0 311.2h1.2M162.1 307.7h1.2M162.1 305.7h1.2M161.8 302.7h1.2M161.8 300.7h1.2M163.0 315.7h1.2M163.0 314.7h1.2M163.0 313.7h1.2M163.2 311.2h1.2M163.0 310.2h1.2M164.0 307.1h1.2M164.0 306.1h1.2M164.0 302.6h1.2M165.0 311.6h1.2M165.0 310.6h1.2M164.8 309.1h1.2M164.8 308.1h1.2M164.8 307.1h1.2M166.0 310.3h1.2M166.2 305.8h1.2M167.0 313.8h1.2M167.0 312.8h1.2M167.0 311.8h1.2M166.9 310.3h1.2M166.8 307.3h1.2M167.0 303.3h1.2M168.0 312.1h1.2M168.0 308.6h1.2M168.0 307.6h1.2M167.9 306.6h1.2M169.0 307.9h1.2M169.0 306.9h1.2M169.2 305.4h1.2M169.0 304.4h1.2M169.0 303.4h1.2M170.0 314.8h1.2M170.0 313.8h1.2M170.0 312.8h1.2M170.2 306.3h1.2M170.1 305.3h1.2M171.0 316.4h1.2M171.2 314.9h1.2M171.1 313.9h1.2M171.0 311.9h1.2M170.8 310.9h1.2M171.1 309.9h1.2M171.2 307.9h1.2M172.0 316.5h1.2M172.0 315.5h1.2M172.0 314.5h1.2M171.8 311.0h1.2M172.1 302.0h1.2M225.2 312.9h1.2M225.3 307.4h1.2M226.0 312.5h1.2M226.0 311.5h1.2M226.0 310.5h1.2M226.0 309.0h1.2M226.1 301.6h1.2M227.0 318.6h1.2M227.0 317.6h1.2M227.0 316.6h1.2M227.1 307.1h1.2M228.0 317.1h1.2M228.0 316.1h1.2M228.0 315.1h1.2M228.0 310.6h1.2M228.0 308.6h1.2M229.0 321.8h1.2M229.0 320.8h1.2M229.2 318.3h1.2M230.0 320.6h1.2M230.0 319.6h1.2M230.0 318.6h1.2M230.1 317.1h1.2M230.0 313.1h1.2M231.0 321.0h1.2M231.0 320.0h1.2M231.1 317.5h1.2M230.8 315.5h1.2M232.0 319.9h1.2M232.0 318.9h1.2M232.0 317.9h1.2M231.9 313.4h1.2M231.9 312.4h1.2M232.1 311.4h1.2M232.0 310.4h1.2M231.9 307.4h1.2M233.0 317.2h1.2M233.0 316.2h1.2M232.9 313.7h1.2M233.0 312.7h1.2M233.0 303.6h1.2M234.0 317.9h1.2M234.0 316.9h1.2M234.0 315.9h1.2M234.0 314.4h1.2M234.2 313.4h1.2M234.0 309.4h1.2M235.0 317.7h1.2M235.0 316.7h1.2M235.0 315.7h1.2M236.0 315.1h1.2M236.0 313.1h1.2M235.9 311.6h1.2M236.0 310.6h1.2M237.0 318.9h1.2M237.0 317.9h1.2M237.0 316.9h1.2M237.1 315.4h1.2M237.0 314.4h1.2M236.9 301.6h1.2M238.0 318.3h1.2M238.0 317.3h1.2M238.0 314.8h1.2M238.0 304.6h1.2M239.0 327.4h1.2M239.0 326.4h1.2M239.0 325.4h1.2M238.8 323.9h1.2M238.9 321.9h1.2M239.1 318.9h1.2M239.1 314.9h1.2M240.0 324.6h1.2M240.0 323.6h1.2M240.0 322.6h1.2M240.0 321.1h1.2M240.0 316.1h1.2M239.9 312.1h1.2M240.2 311.1h1.2M241.0 329.4h1.2M241.0 327.4h1.2M241.0 325.9h1.2M241.0 323.9h1.2M240.8 317.9h1.2M240.8 314.9h1.2M240.9 313.9h1.2M242.0 324.4h1.2M242.0 323.4h1.2M242.0 322.4h1.2M241.9 317.9h1.2M242.0 316.9h1.2M241.8 310.6h1.2M243.0 324.5h1.2M243.0 323.5h1.2M243.0 322.5h1.2M242.9 318.0h1.2M242.9 311.0h1.2M244.0 321.6h1.2M244.0 320.6h1.2M244.0 318.1h1.2M244.0 315.1h1.2M245.0 324.4h1.2M245.0 323.4h1.2M245.0 321.9h1.2M245.0 319.9h1.2M245.2 317.9h1.2M245.0 315.9h1.2M246.0 326.5h1.2M246.0 324.5h1.2M245.8 323.0h1.2M245.9 322.0h1.2M245.8 321.0h1.2M246.0 320.0h1.2M246.0 317.0h1.2M247.0 323.7h1.2M247.0 322.7h1.2M247.0 321.7h1.2M246.8 320.2h1.2M247.1 317.2h1.2M248.0 323.3h1.2M248.0 322.3h1.2M247.9 316.8h1.2M249.0 322.3h1.2M249.0 321.3h1.2M249.0 320.3h1.2M249.0 318.8h1.2M248.8 316.8h1.2M249.0 308.6h1.2M250.0 322.4h1.2M250.0 321.4h1.2M250.1 319.9h1.2M249.8 305.9h1.2M251.0 315.0h1.2M251.0 314.0h1.2M251.0 313.0h1.2M250.9 311.5h1.2M252.0 314.6h1.2M252.0 313.6h1.2M252.0 312.6h1.2M252.1 303.1h1.2M253.0 312.6h1.2M253.0 311.6h1.2M252.9 306.1h1.2M252.9 301.6h1.2M254.0 314.3h1.2M254.0 313.3h1.2M254.2 310.8h1.2M253.8 308.8h1.2M255.0 315.6h1.2M255.0 314.6h1.2M255.0 313.6h1.2M254.9 309.1h1.2M255.1 307.1h1.2M256.0 314.7h1.2M256.0 313.7h1.2M256.2 310.2h1.2M257.0 318.3h1.2M257.0 317.3h1.2M257.0 316.3h1.2M257.0 314.8h1.2M257.2 308.8h1.2M258.0 315.2h1.2M258.0 314.2h1.2M258.0 313.2h1.2M258.1 306.7h1.2M259.0 317.8h1.2M259.0 315.8h1.2M258.8 300.6h1.2M260.0 320.0h1.2M260.0 318.0h1.2M260.1 316.5h1.2M259.9 310.5h1.2M261.0 316.8h1.2M261.0 315.8h1.2M261.0 314.8h1.2M261.1 309.3h1.2M261.1 308.3h1.2M261.0 306.3h1.2M262.0 315.2h1.2M262.0 314.2h1.2M262.0 313.2h1.2M261.8 311.7h1.2M261.8 307.7h1.2M262.1 303.7h1.2M262.2 300.6h1.2M263.0 321.1h1.2M263.0 320.1h1.2M263.2 317.6h1.2M262.8 316.6h1.2M263.1 315.6h1.2M263.0 312.6h1.2M263.0 311.6h1.2M263.0 308.6h1.2M264.0 314.6h1.2M264.0 313.6h1.2M264.0 312.6h1.2M263.9 308.1h1.2M265.0 318.5h1.2M265.0 317.5h1.2M265.0 316.0h1.2M264.8 310.0h1.2M264.9 306.0h1.2M266.0 319.0h1.2M266.0 318.0h1.2M266.0 310.5h1.2M265.8 308.5h1.2M266.1 307.5h1.2M267.0 319.4h1.2M267.0 318.4h1.2M267.0 317.4h1.2M266.8 312.9h1.2M267.1 309.9h1.2M267.1 306.9h1.2M267.2 304.9h1.2M268.0 317.5h1.2M268.0 316.5h1.2M268.1 315.0h1.2M267.9 314.0h1.2M267.9 309.0h1.2M269.0 320.7h1.2M269.0 319.7h1.2M269.0 318.7h1.2M268.8 316.2h1.2M269.1 314.2h1.2M268.9 312.2h1.2M270.0 316.6h1.2M270.0 314.6h1.2M270.0 312.1h1.2M270.0 311.1h1.2M270.1 303.1h1.2M271.0 314.0h1.2M271.0 313.0h1.2M271.0 312.0h1.2M270.9 305.5h1.2M271.1 304.5h1.2M272.0 317.9h1.2M272.0 315.9h1.2M272.1 313.4h1.2M271.8 311.4h1.2M271.9 301.6h1.2M271.8 299.6h1.2M273.0 316.1h1.2M273.0 315.1h1.2M273.0 312.6h1.2M273.1 311.6h1.2M273.2 308.6h1.2M273.1 300.6h1.2M274.0 321.5h1.2M274.0 320.5h1.2M274.0 319.5h1.2M274.1 315.0h1.2M274.1 314.0h1.2M274.0 310.0h1.2M273.9 309.0h1.2M273.9 297.6h1.2M314.5 315.4h1.2M314.5 314.4h1.2M314.5 313.4h1.2M314.3 310.9h1.2M315.0 312.5h1.2M315.0 311.5h1.2M314.9 309.0h1.2M314.8 304.0h1.2M315.1 302.0h1.2M316.0 314.3h1.2M316.0 312.3h1.2M316.1 307.8h1.2M316.0 302.8h1.2M317.0 308.1h1.2M317.0 307.1h1.2M316.9 295.6h1.2M318.0 308.5h1.2M318.0 307.5h1.2M319.0 308.9h1.2M318.9 306.4h1.2M319.0 305.4h1.2M320.0 290.8h1.2M320.0 289.8h1.2M320.0 288.8h1.2M319.9 283.3h1.2M320.1 279.6h1.2M321.0 286.1h1.2M321.0 285.1h1.2M321.0 284.1h1.2M322.0 292.2h1.2M322.0 291.2h1.2M322.1 289.7h1.2M322.0 288.7h1.2M321.8 282.7h1.2M323.0 291.9h1.2M323.0 290.9h1.2M323.0 289.9h1.2M322.9 288.4h1.2M323.2 287.4h1.2M323.2 286.4h1.2M323.1 278.6h1.2M324.0 289.5h1.2M324.0 288.5h1.2M323.8 285.0h1.2M325.0 287.3h1.2M325.2 280.8h1.2M326.0 287.5h1.2M326.0 284.0h1.2M326.1 282.0h1.2M327.0 286.4h1.2M327.0 285.4h1.2M327.0 284.4h1.2M328.0 287.7h1.2M328.0 286.7h1.2M328.0 285.7h1.2M328.2 284.2h1.2M327.9 282.2h1.2M329.0 308.7h1.2M329.0 306.7h1.2M328.8 305.2h1.2M331.0 308.3h1.2M331.0 307.3h1.2M331.0 306.3h1.2M330.9 300.8h1.2M332.0 312.0h1.2M332.0 311.0h1.2M332.0 310.0h1.2M331.9 308.5h1.2M331.9 306.5h1.2M333.0 316.5h1.2M333.2 314.0h1.2M333.2 313.0h1.2M333.2 311.0h1.2M334.0 317.3h1.2M334.0 316.3h1.2M334.0 315.3h1.2M333.9 312.8h1.2M335.0 317.8h1.2M335.0 316.8h1.2M335.0 315.8h1.2M335.0 310.3h1.2M335.1 302.9h1.2M336.0 314.2h1.2M336.0 313.2h1.2M336.0 312.2h1.2M336.0 309.7h1.2M337.0 316.4h1.2M337.0 315.4h1.2M337.0 310.9h1.2M338.0 317.3h1.2M338.0 316.3h1.2M338.1 314.8h1.2M337.9 312.8h1.2M339.0 316.5h1.2M339.0 315.5h1.2M339.0 314.5h1.2M339.0 313.0h1.2M339.1 308.0h1.2M339.0 305.9h1.2M340.0 316.9h1.2M340.0 315.9h1.2M340.0 314.9h1.2M339.8 312.4h1.2M339.9 311.4h1.2M339.8 310.4h1.2M341.0 320.2h1.2M341.0 319.2h1.2M341.0 318.2h1.2M340.9 316.7h1.2M340.9 312.7h1.2M340.9 309.7h1.2M341.1 304.9h1.2M342.0 316.6h1.2M342.0 315.6h1.2M342.0 314.6h1.2M342.1 312.1h1.2M342.0 309.1h1.2M343.0 318.7h1.2M343.0 317.7h1.2M343.0 316.7h1.2M342.9 314.2h1.2M344.0 316.0h1.2M344.0 315.0h1.2M343.9 312.5h1.2M344.0 310.5h1.2M343.9 307.5h1.2M345.0 314.8h1.2M344.8 313.3h1.2M346.0 314.7h1.2M346.0 313.7h1.2M346.0 312.7h1.2M346.1 309.2h1.2M347.0 314.1h1.2M347.1 310.6h1.2M348.0 318.3h1.2M348.0 317.3h1.2M348.0 316.3h1.2M347.9 313.8h1.2M348.0 311.8h1.2M349.0 312.2h1.2M348.8 308.7h1.2M350.0 316.8h1.2M350.0 315.8h1.2M350.0 314.8h1.2M350.1 311.3h1.2"/>
<path stroke="#0b0b0b" stroke-width="1.2" fill="none" d="M54.0 313.6h1.2M54.0 312.6h1.2M54.0 311.6h1.2M54.0 305.1h1.2M55.0 314.4h1.2M55.0 313.4h1.2M55.2 310.9h1.2M54.8 308.9h1.2M55.0 304.9h1.2M56.0 313.6h1.2M56.0 312.6h1.2M56.1 309.1h1.2M56.1 306.1h1.2M56.0 305.1h1.2M57.0 313.1h1.2M57.0 312.1h1.2M57.0 311.1h1.2M56.8 309.6h1.2M57.2 305.6h1.2M57.1 303.6h1.2M58.0 311.6h1.2M58.0 310.6h1.2M58.1 308.1h1.2M58.1 307.1h1.2M59.0 306.3h1.2M59.0 305.3h1.2M59.0 304.3h1.2M59.2 302.8h1.2M60.0 306.4h1.2M60.0 305.4h1.2M60.0 304.4h1.2M60.0 302.9h1.2M60.1 301.9h1.2M61.0 308.9h1.2M61.0 307.9h1.2M61.0 306.9h1.2M61.1 303.4h1.2M60.9 302.4h1.2M61.1 301.4h1.2M62.0 312.0h1.2M62.0 309.5h1.2M63.0 312.9h1.2M63.0 311.9h1.2M63.0 310.9h1.2M63.1 309.4h1.2M63.2 308.4h1.2M62.8 307.4h1.2M64.0 317.2h1.2M64.0 316.2h1.2M64.0 315.2h1.2M64.1 312.7h1.2M63.9 309.7h1.2M64.0 308.7h1.2M64.0 306.7h1.2M63.9 305.7h1.2M64.2 298.7h1.2M65.0 313.8h1.2M65.0 312.8h1.2M64.9 311.3h1.2M64.8 310.3h1.2M65.1 309.3h1.2M65.0 308.3h1.2M66.0 311.9h1.2M65.8 310.4h1.2M66.1 306.4h1.2M66.2 305.4h1.2M66.0 304.4h1.2M67.0 313.7h1.2M67.0 312.7h1.2M67.0 311.7h1.2M67.0 302.0h1.2M68.0 313.8h1.2M68.0 312.8h1.2M68.1 308.3h1.2M69.0 322.5h1.2M69.0 321.5h1.2M68.9 319.0h1.2M69.2 316.0h1.2M68.8 314.0h1.2M68.9 311.0h1.2M69.1 310.0h1.2M69.1 309.0h1.2M70.0 321.7h1.2M70.0 320.7h1.2M70.0 319.7h1.2M69.9 318.2h1.2M70.0 310.2h1.2M70.0 308.2h1.2M71.0 318.3h1.2M71.0 316.3h1.2M71.1 314.8h1.2M71.2 311.8h1.2M71.1 309.8h1.2M70.8 308.8h1.2M72.0 317.9h1.2M72.0 316.9h1.2M72.0 315.9h1.2M71.8 313.4h1.2M72.0 312.4h1.2M73.0 317.3h1.2M73.0 316.3h1.2M74.0 320.4h1.2M74.0 319.4h1.2M73.8 316.9h1.2M73.9 314.9h1.2M75.0 322.4h1.2M75.0 321.4h1.2M75.0 320.4h1.2M75.1 318.9h1.2M74.8 317.9h1.2M74.8 316.9h1.2M74.8 315.9h1.2M76.0 321.0h1.2M76.0 320.0h1.2M76.1 317.5h1.2M76.0 311.5h1.2M77.0 320.0h1.2M77.0 319.0h1.2M77.0 318.0h1.2M78.0 321.9h1.2M78.0 319.9h1.2M78.1 315.4h1.2M79.0 322.4h1.2M79.0 321.4h1.2M79.0 320.4h1.2M79.2 318.9h1.2M78.8 316.9h1.2M79.1 315.9h1.2M79.1 311.9h1.2M78.9 306.6h1.2M80.0 321.3h1.2M80.0 320.3h1.2M80.2 315.8h1.2M79.9 303.6h1.2M81.0 319.6h1.2M81.0 318.6h1.2M81.0 317.6h1.2M80.9 315.1h1.2M80.9 312.1h1.2M81.1 304.6h1.2M82.0 319.0h1.2M82.0 318.0h1.2M82.0 317.0h1.2M82.0 313.5h1.2M82.1 309.5h1.2M83.0 316.5h1.2M83.0 315.5h1.2M83.0 314.5h1.2M82.8 313.0h1.2M84.0 323.9h1.2M84.0 322.9h1.2M84.0 321.9h1.2M83.8 320.4h1.2M84.1 319.4h1.2M84.2 318.4h1.2M84.1 305.6h1.2M85.0 323.0h1.2M86.0 322.2h1.2M86.0 321.2h1.2M86.0 320.2h1.2M86.0 315.7h1.2M87.0 317.9h1.2M87.0 316.9h1.2M87.0 315.9h1.2M87.0 314.4h1.2M88.0 321.8h1.2M88.0 320.8h1.2M88.0 319.8h1.2M88.1 318.3h1.2M87.8 316.3h1.2M89.0 313.2h1.2M90.0 319.1h1.2M90.0 317.1h1.2M90.1 314.6h1.2M90.0 312.6h1.2M89.8 307.6h1.2M91.0 310.4h1.2M91.0 308.4h1.2M90.9 305.9h1.2M91.0 304.9h1.2M91.0 295.4h1.2M92.0 307.5h1.2M92.0 306.5h1.2M92.0 305.5h1.2M92.0 304.0h1.2M92.2 301.0h1.2M92.1 297.6h1.2M93.0 309.6h1.2M93.0 308.6h1.2M93.0 307.6h1.2M93.2 306.1h1.2M92.9 305.1h1.2M93.0 303.1h1.2M92.9 302.1h1.2M94.0 313.4h1.2M94.0 311.4h1.2M94.0 303.9h1.2M95.0 310.7h1.2M95.0 309.7h1.2M95.0 308.7h1.2M94.9 307.2h1.2M95.0 306.2h1.2M95.1 305.2h1.2M96.0 307.3h1.2M96.0 305.3h1.2M95.9 303.8h1.2M96.1 302.8h1.2M97.0 311.9h1.2M97.0 310.9h1.2M97.0 309.9h1.2M97.1 306.4h1.2M96.9 303.4h1.2M97.0 302.4h1.2M98.0 312.4h1.2M98.0 311.4h1.2M98.0 310.4h1.2M98.0 306.9h1.2M98.2 305.9h1.2M98.0 302.9h1.2M99.0 310.5h1.2M99.2 307.0h1.2M99.1 303.0h1.2M100.0 303.2h1.2M100.0 302.2h1.2M99.9 300.7h1.2M101.0 308.2h1.2M101.0 307.2h1.2M101.0 303.7h1.2M102.0 311.1h1.2M102.0 310.1h1.2M102.0 309.1h1.2M101.9 302.6h1.2M101.9 298.6h1.2M102.1 296.6h1.2M103.0 309.2h1.2M103.0 308.2h1.2M103.0 303.7h1.2M103.2 293.6h1.2M104.0 308.3h1.2M104.0 307.3h1.2M104.0 306.3h1.2M104.0 302.8h1.2M103.9 300.8h1.2M104.0 298.8h1.2M105.0 307.1h1.2M105.0 306.1h1.2M105.0 304.6h1.2M106.0 307.9h1.2M106.0 306.9h1.2M106.0 305.9h1.2M106.0 304.4h1.2M105.8 301.4h1.2M106.1 300.4h1.2M107.0 308.0h1.2M107.0 307.0h1.2M107.0 306.0h1.2M107.0 304.5h1.2M108.0 310.2h1.2M108.0 309.2h1.2M108.1 306.7h1.2M107.9 305.7h1.2M108.0 304.7h1.2M108.2 302.7h1.2M108.2 301.7h1.2M108.2 299.7h1.2M109.0 312.2h1.2M109.0 310.2h1.2M109.2 307.7h1.2M108.9 306.7h1.2M109.1 305.7h1.2M108.8 304.7h1.2M109.1 297.6h1.2M110.0 312.9h1.2M110.0 311.9h1.2M110.0 310.9h1.2M109.9 309.4h1.2M109.8 307.4h1.2M109.9 304.4h1.2M110.1 302.4h1.2M111.0 313.3h1.2M111.0 312.3h1.2M111.1 309.8h1.2M110.8 307.8h1.2M110.8 306.8h1.2M111.2 305.8h1.2M110.9 304.8h1.2M112.0 309.0h1.2M112.0 308.0h1.2M112.0 307.0h1.2M111.9 305.5h1.2M113.0 308.5h1.2M113.0 303.0h1.2M114.0 302.3h1.2M114.0 301.3h1.2M113.9 298.8h1.2M114.1 292.6h1.2M172.6 303.3h1.2M172.6 301.3h1.2M172.4 297.8h1.2M173.0 297.7h1.2M173.0 295.7h1.2M174.0 301.0h1.2M174.0 300.0h1.2M174.0 299.0h1.2M174.0 296.5h1.2M174.0 295.5h1.2M174.0 294.5h1.2M175.0 299.0h1.2M175.0 298.0h1.2M175.0 297.0h1.2M174.9 295.5h1.2M176.0 304.2h1.2M176.0 303.2h1.2M176.0 302.2h1.2M177.0 303.2h1.2M177.0 302.2h1.2M177.0 301.2h1.2M177.1 298.7h1.2M176.8 293.7h1.2M178.0 304.8h1.2M178.0 303.8h1.2M178.0 302.8h1.2M178.0 298.3h1.2M178.1 297.3h1.2M179.0 309.4h1.2M179.0 308.4h1.2M179.0 307.4h1.2M178.9 303.9h1.2M178.8 302.9h1.2M179.0 301.9h1.2M180.0 301.1h1.2M180.0 300.1h1.2M180.0 299.1h1.2M179.9 293.6h1.2M181.0 300.4h1.2M181.0 299.4h1.2M181.0 298.4h1.2M180.9 291.3h1.2M182.0 296.4h1.2M182.0 295.4h1.2M182.0 294.4h1.2M183.0 301.0h1.2M183.0 300.0h1.2M183.0 299.0h1.2M182.9 297.5h1.2M184.0 301.7h1.2M184.0 300.7h1.2M184.0 299.7h1.2M183.9 298.2h1.2M183.9 297.2h1.2M184.1 291.6h1.2M185.0 301.4h1.2M185.0 300.4h1.2M185.1 296.9h1.2M185.0 293.9h1.2M185.2 290.4h1.2M186.0 309.0h1.2M186.0 307.0h1.2M186.0 304.5h1.2M187.0 313.8h1.2M187.0 312.8h1.2M187.0 311.8h1.2M187.0 310.3h1.2M186.8 307.3h1.2M188.0 312.3h1.2M188.0 311.3h1.2M188.1 308.8h1.2M188.0 307.8h1.2M187.9 303.8h1.2M189.0 306.0h1.2M189.0 305.0h1.2M189.0 304.0h1.2M188.9 301.5h1.2M190.0 309.2h1.2M189.9 305.7h1.2M191.0 310.6h1.2M191.0 309.6h1.2M191.0 308.6h1.2M191.1 304.1h1.2M192.0 313.7h1.2M192.0 312.7h1.2M192.0 311.7h1.2M192.2 310.2h1.2M193.0 312.3h1.2M193.0 310.3h1.2M192.8 308.8h1.2M194.0 310.2h1.2M194.0 309.2h1.2M194.0 308.2h1.2M194.0 304.7h1.2M193.8 303.7h1.2M195.0 305.6h1.2M195.0 302.1h1.2M194.8 299.1h1.2M196.0 303.7h1.2M196.1 300.2h1.2M197.0 309.3h1.2M197.0 308.3h1.2M197.0 307.3h1.2M197.0 305.8h1.2M197.0 304.8h1.2M196.8 301.8h1.2M197.0 295.8h1.2M196.9 291.6h1.2M198.0 309.3h1.2M198.0 308.3h1.2M198.0 307.3h1.2M198.2 305.8h1.2M197.9 304.8h1.2M197.9 302.8h1.2M197.9 301.8h1.2M199.0 311.7h1.2M199.0 310.7h1.2M199.0 309.7h1.2M198.8 306.2h1.2M199.0 303.2h1.2M198.9 302.2h1.2M199.0 300.2h1.2M198.9 288.6h1.2M200.0 308.4h1.2M200.0 307.4h1.2M201.0 312.8h1.2M201.0 311.8h1.2M201.0 310.8h1.2M201.1 309.3h1.2M201.1 301.3h1.2M200.9 292.6h1.2M202.0 310.9h1.2M202.0 309.9h1.2M202.0 308.9h1.2M202.0 306.4h1.2M202.0 305.4h1.2M202.0 297.4h1.2M203.0 307.0h1.2M203.0 306.0h1.2M203.0 305.0h1.2M203.0 302.5h1.2M202.9 301.5h1.2M203.1 297.5h1.2M204.0 305.9h1.2M204.2 304.4h1.2M204.0 303.4h1.2M204.1 302.4h1.2M204.1 294.6h1.2M204.1 293.6h1.2M205.0 308.2h1.2M205.0 307.2h1.2M204.9 304.7h1.2M204.9 302.7h1.2M206.0 308.4h1.2M206.0 307.4h1.2M206.0 306.4h1.2M206.0 303.9h1.2M206.1 298.9h1.2M207.0 309.9h1.2M207.1 302.4h1.2M207.1 300.4h1.2M206.9 290.6h1.2M208.0 309.7h1.2M208.0 308.7h1.2M208.0 307.7h1.2M207.9 303.2h1.2M209.0 306.4h1.2M209.0 305.4h1.2M209.0 304.4h1.2M209.0 302.9h1.2M208.9 301.9h1.2M210.0 301.8h1.2M210.0 300.8h1.2M210.0 299.8h1.2M209.9 298.3h1.2M211.0 303.7h1.2M210.9 301.2h1.2M211.1 300.2h1.2M210.9 299.2h1.2M212.0 302.6h1.2M212.0 301.6h1.2M212.1 299.1h1.2M211.9 296.1h1.2M213.0 300.2h1.2M213.0 299.2h1.2M213.0 298.2h1.2M213.1 295.7h1.2M212.9 291.6h1.2M214.0 296.2h1.2M214.0 294.2h1.2M215.0 302.7h1.2M215.1 297.2h1.2M216.0 306.9h1.2M216.0 305.9h1.2M216.0 304.9h1.2M216.1 303.4h1.2M217.0 304.8h1.2M217.0 303.8h1.2M217.0 302.8h1.2M216.9 299.3h1.2M217.0 298.3h1.2M218.0 306.7h1.2M218.0 305.7h1.2M218.0 304.7h1.2M217.9 303.2h1.2M217.8 301.2h1.2M218.1 298.2h1.2M219.0 302.1h1.2M219.2 300.6h1.2M219.2 299.6h1.2M220.0 298.6h1.2M219.9 296.1h1.2M219.9 292.6h1.2M219.9 289.6h1.2M221.0 302.1h1.2M221.0 301.1h1.2M221.0 300.1h1.2M220.8 298.6h1.2M220.9 297.6h1.2M222.0 309.5h1.2M222.0 308.5h1.2M222.0 307.5h1.2M221.8 298.0h1.2M223.0 306.3h1.2M223.0 305.3h1.2M223.0 304.3h1.2M222.8 302.8h1.2M223.0 300.8h1.2M222.9 291.6h1.2M224.0 300.6h1.2M224.0 299.6h1.2M223.9 292.6h1.2M225.0 304.1h1.2M225.0 303.1h1.2M225.0 302.1h1.2M225.2 300.6h1.2M225.0 295.6h1.2M274.1 317.2h1.2M274.1 316.2h1.2M274.3 314.7h1.2M274.0 313.7h1.2M274.2 311.7h1.2M274.2 304.7h1.2M275.0 313.8h1.2M275.0 311.8h1.2M276.0 318.8h1.2M276.0 317.8h1.2M275.9 316.3h1.2M275.8 313.3h1.2M275.9 312.3h1.2M277.0 318.8h1.2M277.0 317.8h1.2M277.0 316.8h1.2M277.1 313.3h1.2M278.0 314.5h1.2M278.0 313.5h1.2M278.0 312.0h1.2M278.2 311.0h1.2M278.1 310.0h1.2M278.1 308.0h1.2M279.0 321.4h1.2M279.0 319.4h1.2M278.9 316.9h1.2M279.0 311.9h1.2M278.8 310.9h1.2M279.1 309.9h1.2M278.9 302.6h1.2M280.0 318.0h1.2M280.0 317.0h1.2M280.0 316.0h1.2M279.8 314.5h1.2M280.0 313.5h1.2M280.0 312.5h1.2M280.1 311.5h1.2M280.2 307.5h1.2M281.0 318.7h1.2M281.0 317.7h1.2M281.0 316.7h1.2M281.1 315.2h1.2M280.9 314.2h1.2M280.9 312.2h1.2M282.0 317.1h1.2M282.0 316.1h1.2M282.0 315.1h1.2M281.9 312.6h1.2M282.1 309.6h1.2M281.9 306.6h1.2M283.0 316.5h1.2M283.0 315.5h1.2M283.1 313.0h1.2M282.9 312.0h1.2M283.1 303.6h1.2M284.0 320.9h1.2M284.0 319.9h1.2M284.0 318.9h1.2M284.0 316.4h1.2M285.0 316.3h1.2M285.0 315.3h1.2M285.0 314.3h1.2M285.0 310.8h1.2M284.9 309.8h1.2M285.1 308.8h1.2M286.0 319.8h1.2M286.0 318.8h1.2M286.1 306.1h1.2M287.0 320.8h1.2M287.0 319.8h1.2M287.0 318.8h1.2M287.2 315.3h1.2M286.8 314.3h1.2M287.1 312.3h1.2M288.0 319.6h1.2M288.0 318.6h1.2M288.0 317.6h1.2M287.9 310.6h1.2M287.9 307.6h1.2M289.0 321.2h1.2M289.0 319.2h1.2M289.1 316.7h1.2M288.9 314.7h1.2M290.0 322.7h1.2M290.1 315.2h1.2M291.0 322.6h1.2M291.0 321.6h1.2M291.1 317.1h1.2M291.0 312.1h1.2M292.0 324.2h1.2M292.0 323.2h1.2M291.8 319.7h1.2M292.2 314.7h1.2M291.9 309.6h1.2M292.1 305.6h1.2M293.0 324.3h1.2M293.0 323.3h1.2M293.0 322.3h1.2M293.2 318.8h1.2M293.1 317.8h1.2M293.0 311.8h1.2M293.1 306.6h1.2M294.0 321.3h1.2M294.0 320.3h1.2M293.9 307.6h1.2M295.0 325.4h1.2M295.0 324.4h1.2M295.1 321.9h1.2M296.0 323.6h1.2M296.0 322.6h1.2M296.0 321.6h1.2M295.9 319.1h1.2M297.0 321.8h1.2M297.0 320.8h1.2M297.0 319.8h1.2M297.2 317.3h1.2M296.8 316.3h1.2M296.8 315.3h1.2M297.0 303.6h1.2M298.0 320.4h1.2M298.1 317.9h1.2M299.0 321.7h1.2M299.0 319.7h1.2M299.0 318.2h1.2M299.0 317.2h1.2M299.2 313.2h1.2M298.8 303.6h1.2M300.0 322.9h1.2M300.0 321.9h1.2M300.0 320.9h1.2M299.9 314.4h1.2M301.0 322.8h1.2M301.0 321.8h1.2M300.9 318.3h1.2M301.2 316.3h1.2M302.0 317.8h1.2M302.0 316.8h1.2M302.2 313.3h1.2M302.2 303.6h1.2M303.0 318.0h1.2M303.0 317.0h1.2M302.8 314.5h1.2M303.1 311.5h1.2M304.0 320.3h1.2M304.0 319.3h1.2M304.0 318.3h1.2M304.0 314.8h1.2M304.1 312.8h1.2M305.0 318.3h1.2M304.8 315.8h1.2M304.8 313.8h1.2M304.8 312.8h1.2M305.1 305.8h1.2M306.0 316.1h1.2M306.0 315.1h1.2M306.0 312.6h1.2M305.9 311.6h1.2M305.9 308.6h1.2M306.0 307.6h1.2M307.0 315.1h1.2M307.0 314.1h1.2M307.0 313.1h1.2M306.9 309.6h1.2M306.8 305.6h1.2M306.8 301.6h1.2M308.0 308.0h1.2M308.0 307.0h1.2M309.0 313.1h1.2M309.0 308.6h1.2M308.8 307.6h1.2M309.1 306.6h1.2M309.1 302.6h1.2M310.0 316.6h1.2M310.0 315.6h1.2M310.0 314.6h1.2M310.1 313.1h1.2M309.8 312.1h1.2M310.0 309.1h1.2M310.0 307.1h1.2M310.0 301.6h1.2M311.0 312.2h1.2M311.0 311.2h1.2M311.0 310.2h1.2M311.1 308.7h1.2M311.1 305.7h1.2M312.0 316.3h1.2M312.0 315.3h1.2M312.0 314.3h1.2M312.1 310.8h1.2M313.0 319.4h1.2M313.0 318.4h1.2M313.1 315.9h1.2M313.1 310.9h1.2M314.0 318.2h1.2M314.0 317.2h1.2M314.0 316.2h1.2M313.9 314.7h1.2M314.1 308.7h1.2"/>
<path fill="#fff" d="M60.0 314.3h1.0v1.0h-1.0zM66.2 322.3h1.5v1.5h-1.5zM67.4 329.1h1.2v1.2h-1.2zM69.0 323.4h1.0v1.0h-1.0zM68.7 327.9h1.8v1.8h-1.8zM70.0 328.1h1.5v1.5h-1.5zM70.1 334.1h1.8v1.8h-1.8zM71.9 325.3h1.2v1.2h-1.2zM74.0 329.3h1.0v1.0h-1.0zM74.5 319.8h1.8v1.8h-1.8zM73.7 320.8h1.8v1.8h-1.8zM73.6 324.8h1.0v1.0h-1.0zM73.8 327.8h1.0v1.0h-1.0zM75.4 322.8h1.8v1.8h-1.8zM75.3 324.8h1.2v1.2h-1.2zM76.3 320.4h1.5v1.5h-1.5zM75.6 326.4h1.5v1.5h-1.5zM77.4 318.4h1.2v1.2h-1.2zM76.7 319.4h1.0v1.0h-1.0zM77.2 333.4h1.0v1.0h-1.0zM77.9 322.3h1.5v1.5h-1.5zM78.0 325.3h1.8v1.8h-1.8zM77.9 329.3h1.8v1.8h-1.8zM77.6 334.3h1.8v1.8h-1.8zM79.0 327.3h1.0v1.0h-1.0zM79.0 320.8h1.5v1.5h-1.5zM79.4 322.8h1.8v1.8h-1.8zM79.1 324.8h1.2v1.2h-1.2zM78.7 331.8h1.5v1.5h-1.5zM79.9 319.7h1.0v1.0h-1.0zM80.4 320.7h1.0v1.0h-1.0zM79.6 323.7h1.5v1.5h-1.5zM80.5 332.7h1.5v1.5h-1.5zM81.3 318.0h1.5v1.5h-1.5zM81.4 320.0h1.2v1.2h-1.2zM80.5 326.0h1.8v1.8h-1.8zM82.0 321.9h1.0v1.0h-1.0zM82.1 317.4h1.8v1.8h-1.8zM82.2 326.4h1.8v1.8h-1.8zM81.7 327.4h1.8v1.8h-1.8zM81.9 328.4h1.0v1.0h-1.0zM82.2 329.4h1.2v1.2h-1.2zM83.0 323.4h1.0v1.0h-1.0zM82.7 319.9h1.2v1.2h-1.2zM82.8 322.9h1.5v1.5h-1.5zM83.4 324.9h1.5v1.5h-1.5zM83.8 328.3h1.8v1.8h-1.8zM84.2 331.3h1.0v1.0h-1.0zM84.0 334.3h1.8v1.8h-1.8zM85.0 331.9h1.0v1.0h-1.0zM85.5 322.4h1.8v1.8h-1.8zM85.0 324.4h1.0v1.0h-1.0zM85.0 325.4h1.8v1.8h-1.8zM85.5 326.4h1.8v1.8h-1.8zM86.0 324.1h1.0v1.0h-1.0zM85.6 321.6h1.5v1.5h-1.5zM85.5 326.6h1.5v1.5h-1.5zM86.3 327.6h1.8v1.8h-1.8zM86.0 328.6h1.5v1.5h-1.5zM86.5 329.6h1.2v1.2h-1.2zM86.9 318.3h1.0v1.0h-1.0zM88.2 321.2h1.8v1.8h-1.8zM88.0 329.2h1.8v1.8h-1.8zM87.7 332.2h1.0v1.0h-1.0zM88.7 314.6h1.8v1.8h-1.8zM89.3 317.6h1.5v1.5h-1.5zM89.1 328.6h1.2v1.2h-1.2zM90.0 321.0h1.0v1.0h-1.0zM90.0 324.0h1.0v1.0h-1.0zM89.9 320.5h1.5v1.5h-1.5zM89.8 328.5h1.5v1.5h-1.5zM91.5 324.8h1.0v1.0h-1.0zM90.7 325.8h1.0v1.0h-1.0zM97.0 312.8h1.0v1.0h-1.0zM98.0 318.3h1.0v1.0h-1.0zM102.0 318.0h1.0v1.0h-1.0zM104.0 313.2h1.0v1.0h-1.0zM106.0 316.8h1.0v1.0h-1.0zM109.0 315.1h1.0v1.0h-1.0zM109.0 320.1h1.0v1.0h-1.0zM114.0 305.2h1.0v1.0h-1.0zM126.0 321.9h1.0v1.0h-1.0zM128.0 326.4h1.0v1.0h-1.0zM133.1 317.0h1.5v1.5h-1.5zM133.2 320.0h1.0v1.0h-1.0zM133.4 325.0h1.2v1.2h-1.2zM132.7 331.0h1.0v1.0h-1.0zM135.4 328.3h1.2v1.2h-1.2zM136.3 320.9h1.2v1.2h-1.2zM136.0 321.9h1.8v1.8h-1.8zM136.2 326.9h1.0v1.0h-1.0zM136.6 323.9h1.0v1.0h-1.0zM136.6 327.9h1.8v1.8h-1.8zM136.6 330.9h1.2v1.2h-1.2zM137.1 333.9h1.2v1.2h-1.2zM138.3 319.6h1.2v1.2h-1.2zM137.7 320.6h1.5v1.5h-1.5zM137.9 321.6h1.5v1.5h-1.5zM137.9 324.6h1.8v1.8h-1.8zM139.4 321.4h1.2v1.2h-1.2zM139.5 323.4h1.0v1.0h-1.0zM139.0 324.4h1.8v1.8h-1.8zM138.8 327.4h1.2v1.2h-1.2zM140.8 323.8h1.5v1.5h-1.5zM141.9 320.9h1.2v1.2h-1.2zM141.6 327.9h1.5v1.5h-1.5zM141.9 331.9h1.2v1.2h-1.2zM144.5 322.3h1.2v1.2h-1.2zM144.3 325.3h1.0v1.0h-1.0zM145.3 317.9h1.5v1.5h-1.5zM144.6 322.9h1.8v1.8h-1.8zM145.3 329.9h1.8v1.8h-1.8zM145.7 320.6h1.0v1.0h-1.0zM146.3 321.6h1.2v1.2h-1.2zM147.7 326.5h1.0v1.0h-1.0zM149.7 327.7h1.5v1.5h-1.5zM152.4 321.6h1.5v1.5h-1.5zM152.2 322.6h1.2v1.2h-1.2zM152.0 324.6h1.5v1.5h-1.5zM151.6 330.6h1.5v1.5h-1.5zM153.0 326.9h1.2v1.2h-1.2zM152.8 328.9h1.8v1.8h-1.8zM152.9 330.9h1.8v1.8h-1.8zM153.1 332.9h1.5v1.5h-1.5zM153.6 320.4h1.2v1.2h-1.2zM153.8 323.4h1.8v1.8h-1.8zM154.2 331.4h1.0v1.0h-1.0zM156.2 325.7h1.0v1.0h-1.0zM156.3 326.7h1.8v1.8h-1.8zM157.0 321.2h1.2v1.2h-1.2zM158.4 326.5h1.5v1.5h-1.5zM158.4 328.5h1.2v1.2h-1.2zM159.3 332.2h1.2v1.2h-1.2zM174.0 309.9h1.0v1.0h-1.0zM175.0 301.9h1.0v1.0h-1.0zM176.0 313.1h1.0v1.0h-1.0zM178.0 305.7h1.0v1.0h-1.0zM179.0 316.3h1.0v1.0h-1.0zM186.5 322.2h1.8v1.8h-1.8zM187.2 326.2h1.0v1.0h-1.0zM189.0 307.9h1.0v1.0h-1.0zM190.7 313.0h1.0v1.0h-1.0zM190.9 318.0h1.5v1.5h-1.5zM191.8 315.1h1.2v1.2h-1.2zM193.7 316.6h1.2v1.2h-1.2zM195.2 310.0h1.5v1.5h-1.5zM195.0 317.0h1.5v1.5h-1.5zM195.6 320.1h1.2v1.2h-1.2zM197.0 307.7h1.5v1.5h-1.5zM198.3 324.7h1.0v1.0h-1.0zM198.7 311.1h1.5v1.5h-1.5zM199.2 313.1h1.8v1.8h-1.8zM199.3 318.1h1.0v1.0h-1.0zM202.0 314.8h1.0v1.0h-1.0zM202.0 323.3h1.8v1.8h-1.8zM202.1 327.3h1.5v1.5h-1.5zM204.7 307.6h1.5v1.5h-1.5zM207.0 315.8h1.0v1.0h-1.0zM208.5 322.1h1.2v1.2h-1.2zM207.6 323.1h1.2v1.2h-1.2zM210.0 303.7h1.0v1.0h-1.0zM211.0 308.6h1.0v1.0h-1.0zM212.0 304.5h1.0v1.0h-1.0zM214.0 298.1h1.0v1.0h-1.0zM216.0 309.8h1.0v1.0h-1.0zM217.0 306.7h1.0v1.0h-1.0zM238.1 320.7h1.8v1.8h-1.8zM238.3 331.7h1.2v1.2h-1.2zM238.6 325.8h1.0v1.0h-1.0zM238.6 327.8h1.0v1.0h-1.0zM239.1 328.8h1.0v1.0h-1.0zM238.8 329.8h1.8v1.8h-1.8zM240.0 324.0h1.0v1.0h-1.0zM240.4 325.0h1.8v1.8h-1.8zM240.8 327.8h1.5v1.5h-1.5zM241.4 330.8h1.0v1.0h-1.0zM241.5 331.8h1.8v1.8h-1.8zM241.8 325.8h1.0v1.0h-1.0zM242.1 326.8h1.0v1.0h-1.0zM242.4 332.8h1.8v1.8h-1.8zM243.4 322.9h1.0v1.0h-1.0zM242.5 333.9h1.0v1.0h-1.0zM244.1 321.0h1.8v1.8h-1.8zM244.3 323.0h1.2v1.2h-1.2zM244.1 333.0h1.2v1.2h-1.2zM244.7 324.8h1.5v1.5h-1.5zM245.2 330.8h1.0v1.0h-1.0zM245.8 327.9h1.2v1.2h-1.2zM246.1 328.9h1.5v1.5h-1.5zM247.4 325.1h1.8v1.8h-1.8zM246.8 329.1h1.2v1.2h-1.2zM247.1 331.1h1.2v1.2h-1.2zM247.3 333.1h1.0v1.0h-1.0zM248.0 333.7h1.2v1.2h-1.2zM249.3 322.7h1.5v1.5h-1.5zM249.4 324.7h1.0v1.0h-1.0zM249.3 327.7h1.2v1.2h-1.2zM248.5 328.7h1.0v1.0h-1.0zM250.2 322.8h1.8v1.8h-1.8zM249.7 332.8h1.5v1.5h-1.5zM265.0 321.4h1.0v1.0h-1.0zM276.0 323.7h1.0v1.0h-1.0zM284.0 329.8h1.0v1.0h-1.0zM285.0 319.7h1.5v1.5h-1.5zM285.6 331.2h1.2v1.2h-1.2zM288.0 327.5h1.0v1.0h-1.0zM287.9 318.0h1.0v1.0h-1.0zM288.2 321.0h1.5v1.5h-1.5zM288.3 322.0h1.5v1.5h-1.5zM288.3 325.0h1.8v1.8h-1.8zM288.2 331.0h1.8v1.8h-1.8zM288.3 334.0h1.0v1.0h-1.0zM288.9 320.6h1.8v1.8h-1.8zM289.5 321.6h1.0v1.0h-1.0zM289.4 322.6h1.8v1.8h-1.8zM289.4 325.6h1.5v1.5h-1.5zM288.7 327.6h1.2v1.2h-1.2zM288.5 329.6h1.0v1.0h-1.0zM288.7 331.6h1.5v1.5h-1.5zM290.0 325.6h1.0v1.0h-1.0zM289.9 321.1h1.5v1.5h-1.5zM290.4 330.1h1.0v1.0h-1.0zM291.0 323.5h1.0v1.0h-1.0zM291.4 321.0h1.5v1.5h-1.5zM290.9 329.0h1.8v1.8h-1.8zM290.6 330.0h1.0v1.0h-1.0zM291.7 322.6h1.2v1.2h-1.2zM293.0 327.2h1.0v1.0h-1.0zM292.6 332.7h1.0v1.0h-1.0zM294.1 321.7h1.8v1.8h-1.8zM294.4 333.7h1.8v1.8h-1.8zM294.6 331.8h1.2v1.2h-1.2zM297.4 322.2h1.0v1.0h-1.0zM296.9 330.2h1.5v1.5h-1.5zM297.8 319.8h1.8v1.8h-1.8zM298.5 327.8h1.2v1.2h-1.2zM299.0 328.6h1.0v1.0h-1.0zM298.8 322.1h1.2v1.2h-1.2zM299.2 327.1h1.0v1.0h-1.0zM298.7 333.1h1.5v1.5h-1.5zM299.9 327.3h1.2v1.2h-1.2zM301.3 324.2h1.2v1.2h-1.2zM300.6 332.2h1.0v1.0h-1.0zM301.4 334.2h1.5v1.5h-1.5zM301.8 319.2h1.2v1.2h-1.2zM308.0 311.9h1.0v1.0h-1.0zM313.0 320.3h1.0v1.0h-1.0zM327.0 289.3h1.0v1.0h-1.0zM333.2 318.9h1.5v1.5h-1.5zM333.4 324.9h1.0v1.0h-1.0zM333.5 330.9h1.5v1.5h-1.5zM332.8 332.9h1.5v1.5h-1.5zM335.4 326.2h1.8v1.8h-1.8zM334.8 331.2h1.2v1.2h-1.2zM335.2 334.2h1.0v1.0h-1.0zM335.7 317.6h1.2v1.2h-1.2zM335.7 329.6h1.2v1.2h-1.2zM335.9 333.6h1.0v1.0h-1.0zM337.3 318.8h1.5v1.5h-1.5zM336.7 320.8h1.0v1.0h-1.0zM337.3 333.8h1.0v1.0h-1.0zM339.5 320.9h1.2v1.2h-1.2zM339.0 325.9h1.2v1.2h-1.2zM339.8 321.3h1.2v1.2h-1.2zM340.9 324.6h1.5v1.5h-1.5zM340.5 326.6h1.2v1.2h-1.2zM342.3 323.0h1.0v1.0h-1.0zM341.6 330.0h1.2v1.2h-1.2zM343.3 320.1h1.0v1.0h-1.0zM343.9 323.4h1.0v1.0h-1.0zM346.1 317.1h1.8v1.8h-1.8zM345.7 322.1h1.2v1.2h-1.2zM346.3 325.1h1.2v1.2h-1.2zM345.8 327.1h1.5v1.5h-1.5zM347.1 317.5h1.8v1.8h-1.8zM347.4 318.5h1.8v1.8h-1.8zM347.8 323.7h1.0v1.0h-1.0zM348.8 312.6h1.0v1.0h-1.0zM348.7 317.6h1.8v1.8h-1.8zM348.6 324.6h1.0v1.0h-1.0zM349.0 331.6h1.5v1.5h-1.5zM350.4 318.2h1.0v1.0h-1.0zM349.9 325.2h1.8v1.8h-1.8z"/>
<path d="M42.0 361.50V418.00" stroke="#444" stroke-width="0.8" fill="none"/>
<path d="M40.20 361.50H42.0" stroke="#444" stroke-width="0.8"/>
<text x="38.90" y="361.50" font-size="6.9" text-anchor="middle" fill="#333" transform="rotate(-90 38.90 361.50)">0.9</text>
<path d="M40.20 370.92H42.0" stroke="#444" stroke-width="0.8"/>
<path d="M40.20 380.33H42.0" stroke="#444" stroke-width="0.8"/>
<text x="38.90" y="380.33" font-size="6.9" text-anchor="middle" fill="#333" transform="rotate(-90 38.90 380.33)">0.8</text>
<path d="M40.20 389.75H42.0" stroke="#444" stroke-width="0.8"/>
<path d="M40.20 399.17H42.0" stroke="#444" stroke-width="0.8"/>
<text x="38.90" y="399.17" font-size="6.9" text-anchor="middle" fill="#333" transform="rotate(-90 38.90 399.17)">0.7</text>
<path d="M40.20 408.58H42.0" stroke="#444" stroke-width="0.8"/>
<path d="M40.20 418.00H42.0" stroke="#444" stroke-width="0.8"/>
<text x="38.90" y="418.00" font-size="6.9" text-anchor="middle" fill="#333" transform="rotate(-90 38.90 418.00)">0.6</text>
<text x="27.40" y="393.00" font-size="6.8" text-anchor="middle" fill="#505050" transform="rotate(-90 27.40 393.00)">|<tspan font-style="italic">Rho</tspan>|</text>
<text x="189.00" y="355.30" font-size="8.4" text-anchor="middle" fill="#222">AF vs Bio4</text>
<text x="46" y="364.60" font-size="8.4" fill="#222"><tspan font-style="italic">P</tspan> <tspan fill="#aaa">=</tspan> 1.4e<tspan font-size="4.7" dy="-2.3">-9</tspan><tspan dy="2.3"> for Bio4</tspan></text>
<path fill="#a7a8ab" d="M114.8 420.4V394.4H115.0V398.9H116.0V397.1H117.0V395.7H118.0V394.7H119.0V393.3H120.0V386.7H121.0V398.6H122.0V396.3H123.0V394.9H124.0V392.9H125.0V390.2H126.0V392.8H127.0V391.3H128.0V392.8H129.0V397.3H130.0V397.4H131.0V398.4H132.0V396.9H133.0V399.4H134.0V398.4H135.0V396.4H136.0V392.9H137.0V399.9H138.0V400.6H139.0V397.3H140.0V396.0H141.0V400.4H142.0V401.5H143.0V397.7H144.0V397.6H145.0V400.1H146.0V400.1H147.0V399.9H148.0V399.7H149.0V398.2H150.0V400.2H151.0V396.5H152.0V392.1H153.0V397.9H154.0V398.1H155.0V402.5H156.0V403.2H157.0V397.0H158.0V397.6H159.0V396.1H160.0V391.9H161.0V388.3H162.0V391.5H163.0V391.1H164.0V389.6H165.0V393.3H166.0V390.7H167.0V394.5H168.0V386.7H169.0V391.1H170.0V392.0H171.0V391.0H172.0V393.0H172.6V420.4ZM225.2 420.4V396.1H226.0V393.3H227.0V390.5H228.0V389.4H229.0V395.8H230.0V386.3H231.0V390.0H232.0V394.0H233.0V393.6H234.0V391.5H235.0V396.6H236.0V395.1H237.0V399.7H238.0V400.6H239.0V400.7H240.0V398.9H241.0V403.9H242.0V401.1H243.0V400.7H244.0V403.8H245.0V398.1H246.0V405.0H247.0V399.8H248.0V399.6H249.0V402.8H250.0V399.0H251.0V397.6H252.0V387.6H253.0V387.4H254.0V397.5H255.0V393.0H256.0V396.6H257.0V392.4H258.0V393.2H259.0V391.6H260.0V391.9H261.0V392.4H262.0V383.4H263.0V388.7H264.0V391.1H265.0V393.2H266.0V392.0H267.0V390.4H268.0V391.6H269.0V394.6H270.0V392.2H271.0V393.8H272.0V395.4H273.0V391.6H274.0V390.7H274.1V420.4ZM314.5 420.4V396.6H315.0V397.5H316.0V396.9H317.0V394.5H318.0V396.0H319.0V391.2H320.0V395.1H321.0V387.5H322.0V391.4H323.0V389.0H324.0V393.1H325.0V379.6H326.0V379.1H327.0V383.7H328.0V381.3H329.0V376.3H330.0V376.4H331.0V390.2H332.0V390.5H333.0V390.7H334.0V396.1H335.0V393.3H336.0V396.5H337.0V396.7H338.0V403.1H339.0V396.7H340.0V397.3H341.0V397.1H342.0V399.1H343.0V395.6H344.0V394.7H345.0V395.5H346.0V394.4H347.0V395.3H348.0V396.9H349.0V397.1H350.0V395.8H350.5V420.4ZM327.6 420.4V368.0h1V420.4ZM328.6 420.4V367.3h1V420.4ZM329.6 420.4V367.2h1V420.4ZM121.3 420.4V364.2h1.6V420.4Z"/>
<path fill="#0b0b0b" d="M54.0 420.4V392.0H55.0V392.1H56.0V392.8H57.0V393.2H58.0V398.9H59.0V395.2H60.0V399.2H61.0V397.2H62.0V396.6H63.0V396.6H64.0V394.2H65.0V391.7H66.0V395.4H67.0V399.1H68.0V392.9H69.0V393.6H70.0V397.2H71.0V398.3H72.0V395.2H73.0V397.2H74.0V394.6H75.0V396.8H76.0V398.5H77.0V400.2H78.0V397.2H79.0V398.2H80.0V400.0H81.0V399.1H82.0V399.9H83.0V398.4H84.0V395.3H85.0V394.2H86.0V397.6H87.0V401.9H88.0V400.4H89.0V395.5H90.0V394.9H91.0V399.5H92.0V392.1H93.0V390.1H94.0V398.4H95.0V398.4H96.0V395.8H97.0V397.6H98.0V394.3H99.0V391.6H100.0V393.4H101.0V390.8H102.0V395.9H103.0V396.8H104.0V393.6H105.0V394.9H106.0V398.2H107.0V393.0H108.0V394.8H109.0V397.3H110.0V392.1H111.0V392.3H112.0V397.3H113.0V392.2H114.0V390.4H114.8V420.4ZM172.6 420.4V388.5H173.0V395.1H174.0V393.3H175.0V392.0H176.0V390.6H177.0V393.1H178.0V388.8H179.0V394.8H180.0V394.6H181.0V390.9H182.0V388.0H183.0V392.3H184.0V393.6H185.0V392.2H186.0V388.8H187.0V389.5H188.0V391.5H189.0V391.1H190.0V388.5H191.0V390.9H192.0V394.6H193.0V393.6H194.0V391.8H195.0V397.6H196.0V394.6H197.0V396.8H198.0V396.0H199.0V393.5H200.0V395.3H201.0V391.0H202.0V392.3H203.0V391.4H204.0V389.1H205.0V388.7H206.0V395.2H207.0V394.4H208.0V390.6H209.0V388.3H210.0V395.4H211.0V393.2H212.0V389.3H213.0V389.1H214.0V391.3H215.0V390.5H216.0V388.3H217.0V391.0H218.0V391.4H219.0V388.2H220.0V392.8H221.0V398.6H222.0V389.8H223.0V388.1H224.0V390.2H225.0V392.3H225.2V420.4ZM274.1 420.4V394.8H275.0V393.2H276.0V395.8H277.0V395.6H278.0V396.2H279.0V391.9H280.0V395.5H281.0V396.5H282.0V395.5H283.0V398.9H284.0V397.5H285.0V397.5H286.0V400.5H287.0V399.1H288.0V397.8H289.0V398.9H290.0V396.5H291.0V398.4H292.0V400.4H293.0V401.0H294.0V397.5H295.0V398.0H296.0V401.5H297.0V399.3H298.0V402.0H299.0V402.3H300.0V400.7H301.0V394.2H302.0V396.2H303.0V395.9H304.0V394.4H305.0V392.4H306.0V391.7H307.0V391.7H308.0V394.1H309.0V393.8H310.0V397.1H311.0V394.2H312.0V393.7H313.0V394.4H314.0V395.6H314.5V420.4ZM176.0 420.4V377.2h1V420.4ZM177.0 420.4V378.7h1V420.4Z"/>
<path stroke="#a7a8ab" stroke-width="1.2" fill="none" d="M114.8 393.0h1.2M114.8 392.0h1.2M114.7 389.5h1.2M114.8 388.5h1.2M115.0 398.5h1.2M115.0 397.5h1.2M115.0 396.5h1.2M115.0 394.0h1.2M115.1 390.0h1.2M115.0 388.0h1.2M115.1 380.6h1.2M116.0 396.7h1.2M116.0 395.7h1.2M116.0 394.7h1.2M117.0 394.3h1.2M117.0 393.3h1.2M117.0 390.8h1.2M116.9 389.8h1.2M116.9 388.8h1.2M118.0 393.3h1.2M118.0 392.3h1.2M118.1 390.8h1.2M118.0 386.8h1.2M117.9 379.6h1.2M119.0 392.9h1.2M119.0 391.9h1.2M119.1 389.4h1.2M119.1 387.4h1.2M120.0 385.3h1.2M120.0 384.3h1.2M121.0 398.2h1.2M121.0 397.2h1.2M121.0 396.2h1.2M120.8 393.7h1.2M122.0 395.9h1.2M122.0 394.9h1.2M122.0 393.9h1.2M121.9 392.4h1.2M122.1 391.4h1.2M122.0 390.4h1.2M122.1 389.4h1.2M121.8 386.4h1.2M123.0 394.5h1.2M123.0 393.5h1.2M123.0 392.5h1.2M123.0 389.0h1.2M123.0 385.0h1.2M124.0 390.5h1.2M123.8 388.0h1.2M123.9 386.0h1.2M125.0 389.8h1.2M124.9 386.3h1.2M124.9 385.3h1.2M125.0 381.6h1.2M126.0 392.4h1.2M126.0 391.4h1.2M125.9 388.9h1.2M126.2 381.6h1.2M127.0 390.9h1.2M127.0 389.9h1.2M126.9 387.4h1.2M127.2 386.4h1.2M127.1 384.4h1.2M128.0 392.4h1.2M128.0 391.4h1.2M129.0 396.9h1.2M129.0 395.9h1.2M129.0 394.9h1.2M129.0 391.4h1.2M129.1 390.4h1.2M130.0 397.0h1.2M130.0 396.0h1.2M130.0 395.0h1.2M129.9 393.5h1.2M130.1 387.5h1.2M131.0 397.0h1.2M131.0 396.0h1.2M131.0 394.5h1.2M131.1 392.5h1.2M130.8 386.5h1.2M132.0 396.5h1.2M132.0 395.5h1.2M132.0 394.5h1.2M132.1 393.0h1.2M132.1 386.0h1.2M133.0 399.0h1.2M133.0 398.0h1.2M133.0 397.0h1.2M133.0 395.5h1.2M132.9 392.5h1.2M132.9 391.5h1.2M133.1 390.5h1.2M134.0 398.0h1.2M134.0 396.0h1.2M134.0 394.5h1.2M133.8 389.5h1.2M135.0 396.0h1.2M135.0 395.0h1.2M135.2 392.5h1.2M134.9 390.5h1.2M135.0 387.5h1.2M135.1 386.6h1.2M136.0 392.5h1.2M136.0 391.5h1.2M136.0 390.5h1.2M137.0 399.5h1.2M137.0 397.5h1.2M137.0 395.0h1.2M137.0 390.0h1.2M138.0 400.2h1.2M138.0 399.2h1.2M138.0 398.2h1.2M137.9 391.7h1.2M137.8 390.7h1.2M138.2 386.7h1.2M138.2 383.6h1.2M138.1 381.6h1.2M139.0 396.9h1.2M139.0 394.9h1.2M139.1 390.4h1.2M140.0 395.6h1.2M140.0 394.6h1.2M140.0 393.6h1.2M140.0 389.1h1.2M140.2 384.6h1.2M141.0 400.0h1.2M141.0 398.0h1.2M141.1 395.5h1.2M140.8 394.5h1.2M140.8 392.5h1.2M142.0 401.1h1.2M142.0 400.1h1.2M142.0 399.1h1.2M141.9 392.6h1.2M141.9 391.6h1.2M143.0 397.3h1.2M143.0 395.3h1.2M143.1 393.8h1.2M143.0 391.8h1.2M144.0 396.2h1.2M145.0 399.7h1.2M145.0 398.7h1.2M144.9 396.2h1.2M145.0 395.2h1.2M145.2 392.2h1.2M145.0 391.2h1.2M146.0 399.7h1.2M146.0 398.7h1.2M146.0 397.7h1.2M146.0 396.2h1.2M147.0 399.5h1.2M147.0 397.5h1.2M147.2 387.0h1.2M148.0 399.3h1.2M148.0 398.3h1.2M148.0 394.8h1.2M148.2 393.8h1.2M149.0 395.8h1.2M149.0 394.3h1.2M148.9 393.3h1.2M149.0 392.3h1.2M148.9 391.3h1.2M149.1 388.3h1.2M150.0 399.8h1.2M150.0 397.8h1.2M151.0 396.1h1.2M151.0 395.1h1.2M151.0 394.1h1.2M151.0 390.6h1.2M152.0 391.7h1.2M153.0 397.5h1.2M153.0 395.5h1.2M153.1 392.0h1.2M153.0 389.0h1.2M154.0 397.7h1.2M154.0 396.7h1.2M154.0 395.7h1.2M153.9 389.2h1.2M155.0 401.1h1.2M155.0 400.1h1.2M155.0 398.6h1.2M155.0 397.6h1.2M154.8 396.6h1.2M154.9 394.6h1.2M156.0 402.8h1.2M156.0 401.8h1.2M156.0 400.8h1.2M156.0 397.3h1.2M157.0 396.6h1.2M157.0 395.6h1.2M157.0 394.6h1.2M157.1 392.1h1.2M157.0 391.1h1.2M156.8 389.1h1.2M157.0 382.6h1.2M158.0 396.2h1.2M158.0 395.2h1.2M158.0 393.7h1.2M158.1 389.7h1.2M158.0 387.7h1.2M159.0 395.7h1.2M159.0 394.7h1.2M159.0 393.7h1.2M160.0 391.5h1.2M160.0 390.5h1.2M160.0 389.5h1.2M160.1 388.0h1.2M161.0 387.9h1.2M161.0 385.9h1.2M162.0 391.1h1.2M162.0 390.1h1.2M162.0 389.1h1.2M161.9 386.6h1.2M161.8 385.6h1.2M163.0 390.7h1.2M163.0 389.7h1.2M163.0 388.7h1.2M163.1 387.2h1.2M163.2 386.2h1.2M163.1 385.2h1.2M164.0 388.2h1.2M164.0 387.2h1.2M164.1 384.7h1.2M164.2 376.6h1.2M165.0 392.9h1.2M165.0 391.9h1.2M165.0 390.9h1.2M165.1 389.4h1.2M164.8 387.4h1.2M166.0 390.3h1.2M166.0 389.3h1.2M166.0 388.3h1.2M166.2 384.8h1.2M166.1 381.8h1.2M167.0 394.1h1.2M166.8 379.6h1.2M168.0 386.3h1.2M168.0 384.3h1.2M168.1 382.8h1.2M168.2 380.8h1.2M169.0 390.7h1.2M169.0 389.7h1.2M169.0 388.7h1.2M168.9 387.2h1.2M168.9 386.2h1.2M168.9 384.2h1.2M170.0 391.6h1.2M169.9 388.1h1.2M170.0 386.1h1.2M170.1 383.1h1.2M171.0 390.6h1.2M171.0 389.6h1.2M171.0 388.6h1.2M172.0 392.6h1.2M171.9 389.1h1.2M171.9 387.1h1.2M171.8 382.1h1.2M225.2 394.7h1.2M225.0 392.2h1.2M225.2 391.2h1.2M225.4 389.2h1.2M226.0 392.9h1.2M226.0 391.9h1.2M226.0 390.9h1.2M226.2 388.4h1.2M227.0 389.1h1.2M228.0 389.0h1.2M228.0 388.0h1.2M228.0 387.0h1.2M229.0 395.4h1.2M229.0 394.4h1.2M229.2 391.9h1.2M229.0 390.9h1.2M228.9 388.9h1.2M228.9 387.9h1.2M229.0 386.9h1.2M229.1 383.9h1.2M230.0 384.9h1.2M230.0 383.9h1.2M231.0 389.6h1.2M231.0 388.6h1.2M232.0 393.6h1.2M232.0 392.6h1.2M232.0 391.6h1.2M233.0 392.2h1.2M233.0 391.2h1.2M233.2 385.7h1.2M233.1 384.7h1.2M233.1 382.7h1.2M233.1 379.6h1.2M232.8 378.6h1.2M234.0 390.1h1.2M234.0 389.1h1.2M234.0 387.6h1.2M234.0 386.6h1.2M235.0 395.2h1.2M235.0 394.2h1.2M234.9 392.7h1.2M234.9 390.7h1.2M235.2 379.6h1.2M235.2 378.6h1.2M236.0 394.7h1.2M235.8 391.2h1.2M235.9 389.2h1.2M236.1 387.2h1.2M236.0 380.6h1.2M237.0 399.3h1.2M237.0 398.3h1.2M237.0 397.3h1.2M237.2 395.8h1.2M238.0 400.2h1.2M238.0 399.2h1.2M238.0 398.2h1.2M237.9 393.7h1.2M237.8 392.7h1.2M239.0 400.3h1.2M239.0 399.3h1.2M238.9 396.8h1.2M238.9 395.8h1.2M238.9 393.8h1.2M240.0 398.5h1.2M240.0 397.5h1.2M240.0 396.5h1.2M239.8 395.0h1.2M239.9 394.0h1.2M241.0 403.5h1.2M241.0 401.5h1.2M240.8 400.0h1.2M241.1 398.0h1.2M241.1 390.0h1.2M242.0 399.7h1.2M242.1 397.2h1.2M243.0 400.3h1.2M243.0 399.3h1.2M243.0 398.3h1.2M242.9 394.8h1.2M244.0 403.4h1.2M244.0 402.4h1.2M244.0 401.4h1.2M244.0 398.9h1.2M243.8 397.9h1.2M244.0 394.9h1.2M245.0 397.7h1.2M245.0 396.7h1.2M245.0 395.7h1.2M244.9 392.2h1.2M246.0 403.6h1.2M246.0 402.6h1.2M245.9 401.1h1.2M246.1 400.1h1.2M245.8 392.1h1.2M247.0 399.4h1.2M247.0 398.4h1.2M247.0 397.4h1.2M247.2 394.9h1.2M247.0 384.6h1.2M248.0 399.2h1.2M248.0 398.2h1.2M248.0 397.2h1.2M248.2 395.7h1.2M249.0 402.4h1.2M249.0 401.4h1.2M249.0 400.4h1.2M249.1 397.9h1.2M249.2 394.9h1.2M249.0 390.9h1.2M248.9 389.9h1.2M250.0 397.6h1.2M250.0 396.6h1.2M250.0 394.1h1.2M250.1 393.1h1.2M251.0 396.2h1.2M251.0 395.2h1.2M251.0 392.7h1.2M251.1 390.7h1.2M250.9 383.6h1.2M250.9 380.6h1.2M252.0 387.2h1.2M252.0 386.2h1.2M252.0 385.2h1.2M252.0 383.7h1.2M253.0 387.0h1.2M253.0 386.0h1.2M253.0 385.0h1.2M254.0 397.1h1.2M254.0 395.1h1.2M254.0 391.6h1.2M253.9 386.6h1.2M254.1 379.5h1.2M255.0 392.6h1.2M255.0 391.6h1.2M255.0 390.6h1.2M255.2 389.1h1.2M255.0 386.1h1.2M256.0 396.2h1.2M256.0 395.2h1.2M256.0 394.2h1.2M256.1 391.7h1.2M256.0 387.7h1.2M256.1 385.7h1.2M256.0 380.4h1.2M257.0 392.0h1.2M257.0 391.0h1.2M257.0 390.0h1.2M256.9 388.5h1.2M257.1 383.5h1.2M257.0 382.5h1.2M258.0 392.8h1.2M257.8 386.3h1.2M259.0 391.2h1.2M259.0 390.2h1.2M259.1 387.7h1.2M258.9 385.7h1.2M259.0 384.7h1.2M259.0 381.7h1.2M260.0 391.5h1.2M260.0 390.5h1.2M259.9 388.0h1.2M259.9 387.0h1.2M260.0 384.0h1.2M259.8 383.0h1.2M261.0 392.0h1.2M261.0 391.0h1.2M261.0 390.0h1.2M261.1 386.5h1.2M261.1 380.2h1.2M262.0 383.0h1.2M262.0 382.0h1.2M262.0 381.0h1.2M263.0 387.3h1.2M263.0 386.3h1.2M263.0 382.8h1.2M264.0 390.7h1.2M264.0 389.7h1.2M264.0 388.7h1.2M265.0 392.8h1.2M265.0 390.8h1.2M264.9 388.3h1.2M264.9 385.3h1.2M266.0 391.6h1.2M266.0 390.6h1.2M266.0 389.6h1.2M266.2 387.1h1.2M265.9 386.1h1.2M267.0 390.0h1.2M267.0 389.0h1.2M267.2 385.5h1.2M267.0 384.5h1.2M268.0 391.2h1.2M268.0 390.2h1.2M268.0 386.7h1.2M268.0 385.7h1.2M269.0 394.2h1.2M269.0 393.2h1.2M269.0 392.2h1.2M269.0 389.7h1.2M270.0 391.8h1.2M270.0 390.8h1.2M270.0 389.8h1.2M271.0 393.4h1.2M271.0 392.4h1.2M270.8 386.9h1.2M272.0 395.0h1.2M272.0 394.0h1.2M272.0 393.0h1.2M272.0 391.5h1.2M272.0 384.5h1.2M271.9 381.5h1.2M273.0 391.2h1.2M273.0 389.2h1.2M274.0 390.3h1.2M274.0 389.3h1.2M274.0 388.3h1.2M273.9 385.8h1.2M274.2 384.8h1.2M273.9 381.8h1.2M314.5 396.2h1.2M314.5 394.2h1.2M314.4 392.7h1.2M314.5 386.7h1.2M315.0 397.1h1.2M315.0 396.1h1.2M315.0 395.1h1.2M315.0 392.6h1.2M315.2 391.6h1.2M315.1 384.6h1.2M316.0 396.5h1.2M316.0 395.5h1.2M315.9 392.0h1.2M316.0 391.0h1.2M316.0 386.0h1.2M317.0 394.1h1.2M317.0 392.1h1.2M317.0 390.6h1.2M316.8 388.6h1.2M317.0 386.6h1.2M317.1 381.6h1.2M318.0 393.6h1.2M317.9 389.1h1.2M317.9 388.1h1.2M319.0 390.8h1.2M319.0 389.8h1.2M319.0 388.8h1.2M319.0 387.3h1.2M319.0 385.3h1.2M320.0 394.7h1.2M320.0 392.7h1.2M319.9 390.2h1.2M319.8 389.2h1.2M319.9 376.6h1.2M321.0 387.1h1.2M321.0 386.1h1.2M321.0 385.1h1.2M322.0 391.0h1.2M322.0 390.0h1.2M322.0 389.0h1.2M321.8 387.5h1.2M321.9 386.5h1.2M322.0 385.5h1.2M321.9 380.5h1.2M322.1 373.6h1.2M323.0 388.6h1.2M323.0 386.6h1.2M322.8 385.1h1.2M324.0 392.7h1.2M324.0 391.7h1.2M323.9 389.2h1.2M323.9 387.2h1.2M324.1 386.2h1.2M325.0 379.2h1.2M325.0 378.2h1.2M325.0 377.2h1.2M324.8 375.7h1.2M326.0 377.7h1.2M327.0 383.3h1.2M326.9 377.8h1.2M326.8 374.8h1.2M327.0 373.8h1.2M328.0 380.9h1.2M328.0 379.9h1.2M329.0 375.9h1.2M329.0 374.9h1.2M329.0 373.9h1.2M329.0 372.4h1.2M329.1 368.6h1.2M328.9 367.6h1.2M330.0 376.0h1.2M330.0 375.0h1.2M330.0 374.0h1.2M330.0 372.5h1.2M330.2 363.6h1.2M331.0 389.8h1.2M331.0 387.8h1.2M332.0 390.1h1.2M332.0 388.1h1.2M332.2 386.6h1.2M333.0 390.3h1.2M333.0 388.3h1.2M333.0 386.8h1.2M333.2 384.8h1.2M334.0 395.7h1.2M334.0 394.7h1.2M334.0 393.7h1.2M334.1 390.2h1.2M335.0 392.9h1.2M335.0 391.9h1.2M335.2 389.4h1.2M334.8 388.4h1.2M335.0 387.4h1.2M336.0 396.1h1.2M336.0 395.1h1.2M336.0 394.1h1.2M336.1 391.6h1.2M335.8 388.6h1.2M337.0 396.3h1.2M337.0 395.3h1.2M337.0 394.3h1.2M337.0 392.8h1.2M337.1 391.8h1.2M337.0 388.8h1.2M338.0 402.7h1.2M338.0 401.7h1.2M338.0 400.7h1.2M337.8 398.2h1.2M337.9 397.2h1.2M338.2 395.2h1.2M338.0 392.2h1.2M339.0 396.3h1.2M339.0 395.3h1.2M339.0 394.3h1.2M338.8 390.8h1.2M339.1 388.8h1.2M340.0 396.9h1.2M340.0 395.9h1.2M340.0 394.9h1.2M341.0 396.7h1.2M341.0 395.7h1.2M341.0 394.7h1.2M341.1 393.2h1.2M340.8 391.2h1.2M340.8 387.2h1.2M342.0 398.7h1.2M342.0 396.7h1.2M341.9 391.2h1.2M341.9 390.2h1.2M342.2 388.2h1.2M341.8 386.2h1.2M343.0 395.2h1.2M343.0 394.2h1.2M343.0 393.2h1.2M342.9 390.7h1.2M343.1 389.7h1.2M343.0 384.6h1.2M344.0 394.3h1.2M344.0 393.3h1.2M344.0 392.3h1.2M345.0 395.1h1.2M345.0 393.1h1.2M344.8 391.6h1.2M345.0 390.6h1.2M346.0 394.0h1.2M346.0 393.0h1.2M345.9 390.5h1.2M346.2 387.5h1.2M345.9 383.6h1.2M347.0 393.9h1.2M347.0 392.9h1.2M347.1 391.4h1.2M347.0 389.4h1.2M346.9 386.4h1.2M348.0 394.5h1.2M348.0 391.0h1.2M348.1 390.0h1.2M347.8 379.6h1.2M349.0 396.7h1.2M349.0 395.7h1.2M349.0 394.7h1.2M349.0 393.2h1.2M349.2 391.2h1.2M350.0 394.4h1.2M350.1 391.9h1.2M349.8 380.6h1.2M327.8 365.6h1.2M327.7 364.6h1.2M328.6 367.6h1.2M328.5 362.6h1.2M328.7 361.6h1.2M329.8 367.6h1.2M329.6 366.6h1.2M329.7 365.6h1.2"/>
<path stroke="#0b0b0b" stroke-width="1.2" fill="none" d="M54.0 391.6h1.2M54.0 390.6h1.2M55.0 391.7h1.2M55.0 390.7h1.2M54.9 387.2h1.2M54.9 380.7h1.2M56.0 392.4h1.2M56.0 391.4h1.2M56.0 390.4h1.2M56.1 387.9h1.2M57.0 390.8h1.2M58.0 398.5h1.2M58.0 397.5h1.2M58.0 396.5h1.2M57.8 395.0h1.2M58.0 386.0h1.2M58.2 379.8h1.2M59.0 394.8h1.2M59.0 393.8h1.2M59.0 392.8h1.2M58.9 389.3h1.2M60.0 397.8h1.2M60.0 396.8h1.2M60.0 394.3h1.2M59.9 380.9h1.2M61.0 396.8h1.2M61.0 395.8h1.2M61.0 394.8h1.2M61.1 392.3h1.2M61.0 378.0h1.2M62.0 396.2h1.2M62.0 395.2h1.2M62.1 391.7h1.2M63.0 396.2h1.2M63.0 395.2h1.2M63.0 394.2h1.2M62.8 390.7h1.2M62.9 388.7h1.2M63.1 382.1h1.2M64.0 393.8h1.2M64.0 392.8h1.2M64.0 391.8h1.2M63.9 390.3h1.2M63.9 389.3h1.2M64.1 387.3h1.2M64.2 380.2h1.2M65.0 391.3h1.2M65.0 390.3h1.2M65.0 389.3h1.2M66.0 395.0h1.2M66.0 393.0h1.2M66.0 384.5h1.2M65.9 382.3h1.2M67.0 398.7h1.2M67.0 397.7h1.2M67.2 395.2h1.2M67.1 394.2h1.2M67.2 392.2h1.2M66.9 391.2h1.2M67.2 390.2h1.2M67.0 388.2h1.2M67.0 379.3h1.2M68.0 390.5h1.2M68.1 378.4h1.2M69.0 393.2h1.2M69.0 392.2h1.2M69.0 391.2h1.2M69.1 387.7h1.2M70.0 396.8h1.2M70.0 394.8h1.2M70.0 393.3h1.2M70.0 392.3h1.2M69.9 391.3h1.2M69.9 390.3h1.2M71.0 397.9h1.2M71.0 396.9h1.2M71.0 395.9h1.2M72.0 394.8h1.2M72.0 393.8h1.2M72.1 391.3h1.2M72.1 390.3h1.2M72.1 389.3h1.2M73.0 396.8h1.2M73.0 395.8h1.2M73.1 393.3h1.2M74.0 394.2h1.2M74.0 393.2h1.2M74.0 392.2h1.2M73.8 389.7h1.2M73.9 388.7h1.2M75.0 396.4h1.2M75.0 395.4h1.2M75.0 394.4h1.2M75.2 391.9h1.2M76.0 398.1h1.2M76.0 397.1h1.2M76.0 396.1h1.2M76.1 394.6h1.2M76.1 392.6h1.2M76.1 384.6h1.2M77.0 399.8h1.2M77.0 398.8h1.2M77.0 397.8h1.2M78.0 396.8h1.2M78.0 395.8h1.2M78.0 394.8h1.2M78.2 392.3h1.2M78.0 391.3h1.2M79.0 397.8h1.2M79.0 395.8h1.2M79.0 390.3h1.2M80.0 399.6h1.2M80.0 397.6h1.2M79.9 390.1h1.2M81.0 398.7h1.2M81.0 397.7h1.2M81.0 396.7h1.2M81.0 395.2h1.2M81.1 386.6h1.2M82.0 399.5h1.2M82.0 397.5h1.2M81.9 394.0h1.2M82.2 390.0h1.2M83.0 398.0h1.2M83.0 396.0h1.2M82.8 394.5h1.2M82.8 391.5h1.2M84.0 394.9h1.2M84.0 393.9h1.2M84.0 392.9h1.2M83.8 391.4h1.2M84.1 390.4h1.2M83.9 389.4h1.2M85.0 393.8h1.2M85.0 392.8h1.2M85.0 391.8h1.2M85.1 390.3h1.2M86.0 397.2h1.2M86.0 396.2h1.2M86.0 395.2h1.2M86.2 392.7h1.2M86.0 391.7h1.2M86.1 390.7h1.2M87.0 401.5h1.2M87.0 400.5h1.2M87.0 399.5h1.2M88.0 400.0h1.2M88.0 399.0h1.2M88.0 398.0h1.2M88.1 396.5h1.2M87.8 395.5h1.2M88.1 390.5h1.2M89.0 395.1h1.2M89.0 394.1h1.2M89.0 393.1h1.2M89.0 384.6h1.2M90.0 394.5h1.2M90.0 393.5h1.2M90.0 392.5h1.2M89.9 388.0h1.2M90.0 381.4h1.2M91.0 399.1h1.2M91.0 398.1h1.2M91.0 397.1h1.2M90.9 391.6h1.2M91.0 387.6h1.2M92.0 391.7h1.2M92.0 390.7h1.2M92.0 389.7h1.2M93.0 389.7h1.2M93.0 388.7h1.2M93.0 387.7h1.2M92.9 385.2h1.2M94.0 398.0h1.2M94.0 396.0h1.2M93.9 392.5h1.2M95.0 398.0h1.2M95.0 397.0h1.2M95.0 396.0h1.2M95.0 393.5h1.2M95.1 385.5h1.2M96.0 395.4h1.2M96.0 394.4h1.2M96.0 393.4h1.2M96.0 386.9h1.2M97.0 397.2h1.2M97.0 396.2h1.2M97.0 395.2h1.2M98.0 393.9h1.2M98.0 392.9h1.2M98.0 391.9h1.2M97.8 390.4h1.2M99.0 391.2h1.2M99.0 389.2h1.2M98.9 387.7h1.2M99.0 380.9h1.2M100.0 393.0h1.2M100.0 392.0h1.2M100.0 391.0h1.2M99.8 387.5h1.2M100.1 384.5h1.2M101.0 390.4h1.2M101.0 389.4h1.2M101.0 388.4h1.2M102.0 395.5h1.2M102.0 394.5h1.2M102.0 393.5h1.2M101.9 392.0h1.2M101.8 390.0h1.2M102.1 383.0h1.2M102.1 378.7h1.2M103.0 395.4h1.2M103.0 394.4h1.2M103.1 390.9h1.2M103.1 388.9h1.2M104.0 393.2h1.2M104.0 392.2h1.2M104.0 391.2h1.2M104.0 388.7h1.2M104.1 386.7h1.2M105.0 394.5h1.2M105.0 393.5h1.2M105.0 392.5h1.2M105.0 391.0h1.2M105.2 390.0h1.2M104.8 386.0h1.2M104.9 379.4h1.2M106.0 397.8h1.2M106.0 396.8h1.2M106.0 395.8h1.2M105.8 391.3h1.2M106.0 390.3h1.2M107.0 392.6h1.2M107.0 391.6h1.2M107.0 390.6h1.2M106.8 388.1h1.2M106.9 387.1h1.2M108.0 393.4h1.2M108.0 392.4h1.2M108.0 388.9h1.2M108.2 387.9h1.2M108.1 378.2h1.2M109.0 396.9h1.2M109.0 395.9h1.2M109.2 386.4h1.2M110.0 391.7h1.2M110.0 390.7h1.2M110.0 389.7h1.2M110.2 377.0h1.2M111.0 391.9h1.2M111.0 390.9h1.2M111.0 389.9h1.2M111.1 388.4h1.2M111.0 386.4h1.2M111.0 385.4h1.2M112.0 396.9h1.2M112.0 395.9h1.2M112.0 394.9h1.2M112.1 393.4h1.2M113.0 391.8h1.2M113.0 390.8h1.2M112.9 383.3h1.2M114.0 390.0h1.2M114.0 389.0h1.2M113.9 385.5h1.2M113.9 381.5h1.2M172.6 386.1h1.2M172.5 384.6h1.2M172.5 383.6h1.2M172.5 382.6h1.2M173.0 394.7h1.2M173.0 393.7h1.2M173.0 392.7h1.2M173.0 391.2h1.2M173.1 390.2h1.2M172.9 388.2h1.2M172.9 384.2h1.2M173.1 370.7h1.2M174.0 391.9h1.2M174.0 390.9h1.2M174.0 385.4h1.2M175.0 391.6h1.2M175.0 389.6h1.2M175.0 385.1h1.2M175.0 381.1h1.2M176.0 390.2h1.2M176.0 389.2h1.2M176.0 386.7h1.2M176.0 385.7h1.2M175.9 382.7h1.2M177.0 392.7h1.2M176.8 389.2h1.2M177.0 388.2h1.2M178.0 388.4h1.2M178.0 386.4h1.2M178.2 384.9h1.2M177.8 383.9h1.2M178.1 380.9h1.2M179.0 394.4h1.2M179.0 393.4h1.2M179.0 392.4h1.2M178.9 386.9h1.2M180.0 393.2h1.2M180.0 392.2h1.2M180.1 386.7h1.2M181.0 389.5h1.2M181.0 388.5h1.2M181.2 383.0h1.2M182.0 386.6h1.2M182.0 385.6h1.2M181.9 384.1h1.2M182.0 380.1h1.2M183.0 391.9h1.2M183.0 390.9h1.2M183.0 389.9h1.2M182.9 388.4h1.2M183.0 385.4h1.2M182.8 383.4h1.2M184.0 393.2h1.2M184.0 391.2h1.2M184.1 389.7h1.2M184.1 386.7h1.2M184.0 383.7h1.2M184.1 372.8h1.2M185.0 390.8h1.2M185.0 389.8h1.2M185.1 388.3h1.2M184.9 386.3h1.2M185.0 373.9h1.2M186.0 388.4h1.2M186.0 387.4h1.2M187.0 389.1h1.2M187.0 388.1h1.2M187.0 387.1h1.2M186.8 385.6h1.2M188.0 391.1h1.2M188.0 390.1h1.2M188.0 389.1h1.2M188.2 386.6h1.2M188.0 384.6h1.2M188.1 382.6h1.2M189.0 390.7h1.2M189.0 389.7h1.2M189.0 388.7h1.2M190.0 388.1h1.2M190.0 387.1h1.2M190.0 386.1h1.2M189.9 371.1h1.2M191.0 390.5h1.2M191.0 389.5h1.2M191.0 388.5h1.2M191.0 387.0h1.2M191.1 385.0h1.2M191.1 383.0h1.2M192.0 394.2h1.2M192.0 393.2h1.2M192.0 392.2h1.2M191.9 390.7h1.2M192.1 388.7h1.2M193.0 393.2h1.2M193.0 392.2h1.2M193.0 391.2h1.2M194.0 391.4h1.2M194.0 390.4h1.2M194.0 389.4h1.2M194.2 386.9h1.2M194.0 385.9h1.2M194.1 384.9h1.2M193.9 382.9h1.2M195.0 396.2h1.2M195.0 395.2h1.2M195.1 393.7h1.2M194.9 391.7h1.2M195.1 371.4h1.2M196.0 393.2h1.2M196.0 392.2h1.2M196.2 390.7h1.2M196.1 386.7h1.2M196.0 382.7h1.2M197.0 395.4h1.2M197.0 394.4h1.2M196.9 392.9h1.2M198.0 395.6h1.2M198.0 394.6h1.2M198.0 393.6h1.2M197.8 391.1h1.2M198.0 389.1h1.2M198.1 381.1h1.2M198.1 379.5h1.2M198.1 373.5h1.2M199.0 392.1h1.2M199.1 387.6h1.2M200.0 394.9h1.2M200.0 393.9h1.2M200.0 392.9h1.2M200.0 386.4h1.2M200.1 384.4h1.2M201.0 390.6h1.2M201.0 388.6h1.2M201.2 383.1h1.2M201.1 382.1h1.2M201.1 377.2h1.2M200.8 372.2h1.2M202.0 391.9h1.2M202.0 390.9h1.2M201.9 373.9h1.2M202.1 370.9h1.2M203.0 391.0h1.2M203.0 389.0h1.2M203.1 386.5h1.2M204.0 387.7h1.2M204.0 386.7h1.2M203.9 385.2h1.2M203.9 373.2h1.2M205.0 387.3h1.2M205.0 386.3h1.2M206.0 394.8h1.2M206.0 392.8h1.2M206.0 391.3h1.2M206.1 375.7h1.2M207.0 394.0h1.2M207.0 393.0h1.2M207.0 392.0h1.2M206.8 390.5h1.2M207.0 388.5h1.2M207.0 380.5h1.2M207.1 374.4h1.2M208.0 390.2h1.2M208.0 389.2h1.2M208.0 386.7h1.2M207.9 382.7h1.2M208.0 381.7h1.2M209.0 387.9h1.2M209.0 386.9h1.2M209.0 385.9h1.2M209.1 383.4h1.2M210.0 395.0h1.2M210.0 394.0h1.2M210.0 393.0h1.2M209.9 390.5h1.2M209.9 388.5h1.2M210.1 381.5h1.2M211.0 392.8h1.2M211.0 391.8h1.2M211.0 390.8h1.2M211.0 389.3h1.2M211.1 387.3h1.2M211.0 385.3h1.2M211.0 384.3h1.2M210.9 383.3h1.2M212.0 388.9h1.2M212.0 387.9h1.2M213.0 388.7h1.2M213.0 386.7h1.2M212.8 384.2h1.2M213.0 383.2h1.2M214.0 390.9h1.2M214.0 389.9h1.2M214.0 388.9h1.2M214.1 387.4h1.2M213.8 386.4h1.2M215.0 390.1h1.2M215.0 389.1h1.2M215.1 386.6h1.2M216.0 387.9h1.2M216.0 386.9h1.2M216.0 385.9h1.2M216.0 382.4h1.2M217.0 390.6h1.2M217.0 389.6h1.2M217.0 388.6h1.2M217.1 385.1h1.2M217.1 384.1h1.2M216.8 383.1h1.2M217.1 381.1h1.2M218.0 391.0h1.2M218.0 389.0h1.2M218.0 387.5h1.2M218.0 386.5h1.2M219.0 387.8h1.2M219.0 386.8h1.2M219.0 385.8h1.2M218.9 380.3h1.2M219.1 379.3h1.2M219.2 378.3h1.2M220.0 392.4h1.2M220.0 391.4h1.2M220.1 388.9h1.2M220.0 387.9h1.2M219.9 384.9h1.2M220.1 371.2h1.2M221.0 398.2h1.2M221.0 397.2h1.2M221.0 396.2h1.2M221.1 393.7h1.2M221.0 392.7h1.2M221.1 390.7h1.2M220.9 387.7h1.2M221.1 372.1h1.2M222.0 388.4h1.2M222.0 387.4h1.2M222.1 385.9h1.2M222.0 383.9h1.2M222.1 382.9h1.2M221.9 381.9h1.2M222.1 377.9h1.2M223.0 387.7h1.2M223.0 386.7h1.2M223.0 385.7h1.2M223.0 383.2h1.2M223.0 381.2h1.2M224.0 387.8h1.2M223.9 386.3h1.2M224.2 384.3h1.2M224.1 382.3h1.2M224.0 376.3h1.2M225.0 391.9h1.2M225.0 390.9h1.2M225.1 388.4h1.2M225.0 384.4h1.2M274.1 394.4h1.2M274.1 393.4h1.2M274.1 392.4h1.2M274.1 390.9h1.2M274.3 389.9h1.2M274.1 387.9h1.2M275.0 391.8h1.2M275.2 389.3h1.2M275.0 379.6h1.2M276.0 395.4h1.2M276.0 394.4h1.2M276.1 390.9h1.2M276.1 389.9h1.2M276.1 388.9h1.2M275.9 387.9h1.2M275.9 383.6h1.2M275.8 381.6h1.2M277.0 394.2h1.2M276.8 391.7h1.2M277.2 390.7h1.2M277.2 388.7h1.2M278.0 395.8h1.2M278.0 394.8h1.2M278.0 393.8h1.2M277.8 392.3h1.2M278.0 390.3h1.2M279.0 391.5h1.2M279.0 390.5h1.2M279.0 389.5h1.2M280.0 395.1h1.2M280.0 394.1h1.2M281.0 396.1h1.2M281.0 394.1h1.2M280.9 390.6h1.2M281.2 388.6h1.2M282.0 395.1h1.2M282.0 394.1h1.2M282.0 393.1h1.2M283.0 398.5h1.2M283.0 397.5h1.2M283.0 396.5h1.2M282.9 395.0h1.2M282.9 394.0h1.2M283.1 390.0h1.2M282.9 388.0h1.2M282.8 387.0h1.2M284.0 397.1h1.2M284.0 395.1h1.2M283.8 393.6h1.2M283.8 382.6h1.2M285.0 396.1h1.2M284.8 389.6h1.2M285.0 388.6h1.2M285.1 378.4h1.2M286.0 400.1h1.2M286.0 399.1h1.2M286.0 398.1h1.2M285.8 390.6h1.2M287.0 396.7h1.2M287.1 394.2h1.2M287.1 390.2h1.2M286.9 389.2h1.2M286.9 388.2h1.2M288.0 396.4h1.2M288.0 395.4h1.2M289.0 398.5h1.2M289.0 397.5h1.2M289.0 396.5h1.2M289.1 393.0h1.2M290.0 396.1h1.2M290.0 395.1h1.2M290.0 394.1h1.2M290.0 392.6h1.2M290.1 390.6h1.2M289.9 383.6h1.2M291.0 398.0h1.2M291.0 397.0h1.2M291.0 396.0h1.2M290.9 394.5h1.2M291.2 392.5h1.2M292.0 400.0h1.2M292.0 399.0h1.2M292.0 398.0h1.2M292.0 396.5h1.2M291.9 394.5h1.2M291.9 393.5h1.2M293.0 400.6h1.2M293.0 399.6h1.2M293.0 398.6h1.2M292.9 397.1h1.2M293.0 395.1h1.2M293.0 393.1h1.2M294.0 397.1h1.2M294.0 395.1h1.2M295.0 397.6h1.2M295.0 395.6h1.2M295.2 391.1h1.2M296.0 401.1h1.2M296.0 400.1h1.2M296.0 399.1h1.2M295.8 397.6h1.2M297.0 397.9h1.2M297.0 396.9h1.2M296.9 395.4h1.2M296.9 392.4h1.2M298.0 401.6h1.2M298.0 400.6h1.2M298.0 399.6h1.2M298.2 398.1h1.2M299.0 401.9h1.2M299.0 400.9h1.2M299.0 399.9h1.2M299.2 398.4h1.2M299.1 393.4h1.2M298.9 390.4h1.2M300.0 399.3h1.2M300.0 398.3h1.2M299.9 395.8h1.2M300.0 385.6h1.2M301.0 393.8h1.2M301.0 392.8h1.2M301.0 391.8h1.2M301.0 387.3h1.2M302.0 395.8h1.2M302.0 394.8h1.2M302.0 393.8h1.2M302.1 388.3h1.2M303.0 395.5h1.2M303.0 394.5h1.2M303.0 393.5h1.2M302.9 387.0h1.2M304.0 393.0h1.2M304.0 392.0h1.2M304.1 389.5h1.2M304.1 387.5h1.2M305.0 392.0h1.2M305.0 391.0h1.2M305.0 390.0h1.2M306.0 391.3h1.2M306.0 390.3h1.2M306.0 389.3h1.2M306.1 386.8h1.2M307.0 390.3h1.2M307.0 389.3h1.2M308.0 393.7h1.2M308.0 392.7h1.2M308.0 391.7h1.2M307.9 387.2h1.2M309.0 393.4h1.2M309.0 392.4h1.2M309.0 391.4h1.2M308.8 389.9h1.2M309.1 388.9h1.2M310.0 396.7h1.2M310.0 395.7h1.2M310.0 394.7h1.2M309.9 393.2h1.2M310.2 392.2h1.2M310.0 390.2h1.2M309.9 386.2h1.2M311.0 392.8h1.2M311.0 391.8h1.2M310.9 390.3h1.2M310.8 384.3h1.2M310.9 383.3h1.2M310.9 380.6h1.2M311.1 379.6h1.2M312.0 393.3h1.2M312.0 392.3h1.2M312.0 391.3h1.2M312.1 389.8h1.2M311.9 387.8h1.2M312.1 381.8h1.2M313.0 393.0h1.2M313.0 392.0h1.2M313.2 389.5h1.2M313.0 387.5h1.2M314.0 395.2h1.2M314.0 394.2h1.2M314.0 393.2h1.2M314.0 391.7h1.2M314.0 390.7h1.2M314.2 388.7h1.2M314.1 385.7h1.2M314.1 377.6h1.2M176.0 377.6h1.2M175.9 373.6h1.2M177.1 376.6h1.2M177.1 375.6h1.2M176.9 374.6h1.2M62.2 370.0h1.2"/>
<path fill="#fff" d="M60.0 407.7h1.0v1.0h-1.0zM67.0 403.6h1.0v1.0h-1.0zM70.0 397.7h1.0v1.0h-1.0zM70.0 402.7h1.0v1.0h-1.0zM71.0 400.8h1.0v1.0h-1.0zM73.3 412.2h1.2v1.2h-1.2zM73.6 392.6h1.0v1.0h-1.0zM74.4 411.6h1.2v1.2h-1.2zM75.2 394.8h1.8v1.8h-1.8zM75.4 395.8h1.5v1.5h-1.5zM74.5 398.8h1.2v1.2h-1.2zM75.5 400.8h1.2v1.2h-1.2zM75.4 401.8h1.0v1.0h-1.0zM74.9 402.8h1.0v1.0h-1.0zM74.9 418.8h1.2v1.2h-1.2zM76.0 400.0h1.0v1.0h-1.0zM75.7 396.5h1.8v1.8h-1.8zM75.6 400.5h1.5v1.5h-1.5zM75.6 403.5h1.8v1.8h-1.8zM76.4 406.5h1.8v1.8h-1.8zM76.2 408.5h1.2v1.2h-1.2zM76.2 409.5h1.0v1.0h-1.0zM75.8 417.5h1.8v1.8h-1.8zM77.3 398.2h1.5v1.5h-1.5zM76.8 405.2h1.2v1.2h-1.2zM76.8 415.2h1.8v1.8h-1.8zM78.5 403.2h1.0v1.0h-1.0zM78.5 406.2h1.5v1.5h-1.5zM77.7 408.2h1.5v1.5h-1.5zM78.4 412.2h1.8v1.8h-1.8zM78.1 415.2h1.5v1.5h-1.5zM79.0 403.7h1.0v1.0h-1.0zM79.0 406.7h1.0v1.0h-1.0zM78.7 402.2h1.2v1.2h-1.2zM79.4 407.2h1.0v1.0h-1.0zM79.1 408.2h1.2v1.2h-1.2zM79.0 413.2h1.8v1.8h-1.8zM79.8 404.0h1.0v1.0h-1.0zM79.9 405.0h1.2v1.2h-1.2zM80.1 407.0h1.2v1.2h-1.2zM80.0 409.0h1.8v1.8h-1.8zM79.9 412.0h1.2v1.2h-1.2zM81.0 401.6h1.0v1.0h-1.0zM81.0 397.1h1.8v1.8h-1.8zM81.1 405.1h1.5v1.5h-1.5zM81.3 410.1h1.8v1.8h-1.8zM80.8 412.1h1.0v1.0h-1.0zM81.1 414.1h1.0v1.0h-1.0zM82.0 403.4h1.0v1.0h-1.0zM82.0 405.4h1.0v1.0h-1.0zM81.8 397.9h1.2v1.2h-1.2zM82.2 407.9h1.8v1.8h-1.8zM82.5 409.9h1.5v1.5h-1.5zM82.0 411.9h1.8v1.8h-1.8zM81.7 414.9h1.8v1.8h-1.8zM82.3 415.9h1.8v1.8h-1.8zM81.9 417.9h1.5v1.5h-1.5zM82.5 402.4h1.2v1.2h-1.2zM82.7 403.4h1.2v1.2h-1.2zM83.3 405.4h1.5v1.5h-1.5zM83.2 406.4h1.2v1.2h-1.2zM82.8 412.4h1.2v1.2h-1.2zM84.1 396.3h1.5v1.5h-1.5zM84.3 401.3h1.2v1.2h-1.2zM83.8 407.3h1.0v1.0h-1.0zM84.7 396.2h1.8v1.8h-1.8zM85.0 399.2h1.0v1.0h-1.0zM84.8 405.2h1.2v1.2h-1.2zM85.5 406.2h1.2v1.2h-1.2zM85.2 417.2h1.5v1.5h-1.5zM86.0 398.6h1.5v1.5h-1.5zM85.8 400.6h1.8v1.8h-1.8zM86.5 405.6h1.2v1.2h-1.2zM86.6 402.9h1.8v1.8h-1.8zM87.5 408.9h1.2v1.2h-1.2zM87.1 409.9h1.0v1.0h-1.0zM86.7 410.9h1.2v1.2h-1.2zM86.9 412.9h1.2v1.2h-1.2zM88.0 403.9h1.0v1.0h-1.0zM88.0 399.4h1.5v1.5h-1.5zM88.3 401.4h1.2v1.2h-1.2zM88.5 403.4h1.0v1.0h-1.0zM87.6 406.4h1.8v1.8h-1.8zM88.3 409.4h1.8v1.8h-1.8zM88.1 412.4h1.8v1.8h-1.8zM88.5 416.4h1.8v1.8h-1.8zM88.8 395.5h1.0v1.0h-1.0zM89.4 400.5h1.5v1.5h-1.5zM89.2 401.5h1.8v1.8h-1.8zM89.3 402.5h1.2v1.2h-1.2zM89.0 403.5h1.5v1.5h-1.5zM89.4 406.5h1.2v1.2h-1.2zM88.7 414.5h1.8v1.8h-1.8zM89.4 419.5h1.2v1.2h-1.2zM90.2 394.9h1.5v1.5h-1.5zM89.7 411.9h1.8v1.8h-1.8zM92.0 393.6h1.0v1.0h-1.0zM96.0 397.3h1.0v1.0h-1.0zM97.0 400.1h1.0v1.0h-1.0zM101.0 393.3h1.0v1.0h-1.0zM106.0 400.7h1.0v1.0h-1.0zM106.0 405.7h1.0v1.0h-1.0zM110.0 395.6h1.0v1.0h-1.0zM112.0 403.8h1.0v1.0h-1.0zM113.0 393.7h1.0v1.0h-1.0zM114.0 393.9h1.0v1.0h-1.0zM127.0 396.8h1.0v1.0h-1.0zM133.1 401.4h1.0v1.0h-1.0zM133.0 402.4h1.5v1.5h-1.5zM133.1 407.4h1.8v1.8h-1.8zM133.4 409.4h1.2v1.2h-1.2zM133.3 410.4h1.2v1.2h-1.2zM134.0 406.9h1.0v1.0h-1.0zM133.7 401.4h1.5v1.5h-1.5zM134.1 403.4h1.5v1.5h-1.5zM134.3 410.4h1.2v1.2h-1.2zM133.7 414.4h1.8v1.8h-1.8zM134.0 417.4h1.8v1.8h-1.8zM134.8 396.4h1.2v1.2h-1.2zM134.9 398.4h1.5v1.5h-1.5zM134.5 404.4h1.8v1.8h-1.8zM135.5 407.4h1.2v1.2h-1.2zM134.7 416.4h1.5v1.5h-1.5zM134.9 417.4h1.8v1.8h-1.8zM136.4 394.9h1.5v1.5h-1.5zM135.6 396.9h1.8v1.8h-1.8zM137.0 397.9h1.0v1.0h-1.0zM136.5 400.9h1.0v1.0h-1.0zM137.4 405.9h1.0v1.0h-1.0zM137.2 407.9h1.5v1.5h-1.5zM137.1 412.9h1.8v1.8h-1.8zM138.3 412.6h1.5v1.5h-1.5zM137.8 414.6h1.8v1.8h-1.8zM138.5 397.3h1.5v1.5h-1.5zM138.7 399.3h1.0v1.0h-1.0zM139.4 401.3h1.8v1.8h-1.8zM138.6 405.3h1.2v1.2h-1.2zM139.0 406.3h1.0v1.0h-1.0zM140.5 396.0h1.0v1.0h-1.0zM140.1 408.0h1.8v1.8h-1.8zM139.7 412.0h1.5v1.5h-1.5zM141.0 405.4h1.2v1.2h-1.2zM140.7 406.4h1.5v1.5h-1.5zM141.3 407.4h1.8v1.8h-1.8zM141.0 409.4h1.5v1.5h-1.5zM140.8 412.4h1.8v1.8h-1.8zM141.0 416.4h1.5v1.5h-1.5zM141.6 401.5h1.8v1.8h-1.8zM142.0 407.5h1.2v1.2h-1.2zM142.2 413.5h1.5v1.5h-1.5zM142.9 397.7h1.5v1.5h-1.5zM143.1 401.7h1.5v1.5h-1.5zM143.2 403.7h1.2v1.2h-1.2zM143.4 414.7h1.2v1.2h-1.2zM144.5 396.6h1.0v1.0h-1.0zM143.9 397.6h1.0v1.0h-1.0zM143.9 403.6h1.5v1.5h-1.5zM144.3 410.6h1.8v1.8h-1.8zM144.2 412.6h1.5v1.5h-1.5zM144.7 402.1h1.0v1.0h-1.0zM145.5 418.1h1.5v1.5h-1.5zM146.4 413.1h1.8v1.8h-1.8zM146.2 415.1h1.5v1.5h-1.5zM146.9 402.9h1.2v1.2h-1.2zM147.2 404.9h1.5v1.5h-1.5zM147.2 409.9h1.8v1.8h-1.8zM147.7 398.7h1.2v1.2h-1.2zM148.1 402.7h1.2v1.2h-1.2zM149.2 398.2h1.5v1.5h-1.5zM148.9 403.2h1.8v1.8h-1.8zM149.1 405.2h1.2v1.2h-1.2zM149.0 416.2h1.8v1.8h-1.8zM150.5 407.2h1.0v1.0h-1.0zM149.7 409.2h1.0v1.0h-1.0zM150.4 417.2h1.0v1.0h-1.0zM150.8 405.5h1.0v1.0h-1.0zM151.1 407.5h1.8v1.8h-1.8zM152.2 410.1h1.0v1.0h-1.0zM151.8 412.1h1.2v1.2h-1.2zM153.4 398.9h1.0v1.0h-1.0zM152.6 402.9h1.0v1.0h-1.0zM153.1 405.9h1.8v1.8h-1.8zM153.6 396.1h1.8v1.8h-1.8zM153.9 404.1h1.0v1.0h-1.0zM154.2 411.1h1.0v1.0h-1.0zM153.9 416.1h1.0v1.0h-1.0zM154.8 400.5h1.2v1.2h-1.2zM154.8 408.5h1.5v1.5h-1.5zM156.1 406.2h1.0v1.0h-1.0zM156.1 413.2h1.8v1.8h-1.8zM157.5 396.0h1.5v1.5h-1.5zM157.3 406.0h1.5v1.5h-1.5zM157.3 417.0h1.8v1.8h-1.8zM158.0 400.1h1.0v1.0h-1.0zM157.9 405.6h1.8v1.8h-1.8zM158.6 401.1h1.8v1.8h-1.8zM173.0 396.6h1.0v1.0h-1.0zM176.0 394.1h1.0v1.0h-1.0zM176.0 397.1h1.0v1.0h-1.0zM177.0 398.6h1.0v1.0h-1.0zM178.0 391.3h1.0v1.0h-1.0zM181.0 399.4h1.0v1.0h-1.0zM182.0 395.5h1.0v1.0h-1.0zM186.0 393.3h1.0v1.0h-1.0zM188.0 400.0h1.0v1.0h-1.0zM190.0 394.0h1.0v1.0h-1.0zM197.2 403.8h1.0v1.0h-1.0zM198.7 401.5h1.5v1.5h-1.5zM199.4 415.5h1.0v1.0h-1.0zM200.4 397.3h1.8v1.8h-1.8zM200.1 400.3h1.8v1.8h-1.8zM200.7 396.0h1.2v1.2h-1.2zM202.1 405.3h1.2v1.2h-1.2zM204.2 409.1h1.8v1.8h-1.8zM207.0 399.9h1.0v1.0h-1.0zM207.0 401.9h1.0v1.0h-1.0zM216.0 389.8h1.0v1.0h-1.0zM220.0 394.3h1.0v1.0h-1.0zM220.0 399.3h1.0v1.0h-1.0zM225.0 397.8h1.0v1.0h-1.0zM232.0 397.5h1.0v1.0h-1.0zM237.0 405.2h1.0v1.0h-1.0zM237.3 403.7h1.0v1.0h-1.0zM237.2 413.7h1.0v1.0h-1.0zM237.7 400.6h1.8v1.8h-1.8zM238.3 401.6h1.5v1.5h-1.5zM237.8 413.6h1.5v1.5h-1.5zM238.4 414.6h1.0v1.0h-1.0zM239.4 401.7h1.8v1.8h-1.8zM239.8 404.9h1.0v1.0h-1.0zM240.2 405.9h1.5v1.5h-1.5zM240.2 412.9h1.8v1.8h-1.8zM241.1 405.9h1.0v1.0h-1.0zM241.3 406.9h1.0v1.0h-1.0zM242.1 399.1h1.8v1.8h-1.8zM242.2 404.1h1.5v1.5h-1.5zM241.9 405.1h1.5v1.5h-1.5zM242.0 406.1h1.0v1.0h-1.0zM243.1 403.7h1.5v1.5h-1.5zM243.0 406.7h1.8v1.8h-1.8zM243.2 412.7h1.8v1.8h-1.8zM243.1 414.7h1.2v1.2h-1.2zM243.9 401.8h1.8v1.8h-1.8zM244.0 404.8h1.2v1.2h-1.2zM244.1 409.8h1.5v1.5h-1.5zM243.8 410.8h1.5v1.5h-1.5zM244.4 416.8h1.8v1.8h-1.8zM245.0 397.1h1.0v1.0h-1.0zM244.7 399.1h1.8v1.8h-1.8zM245.5 403.1h1.5v1.5h-1.5zM245.4 406.1h1.8v1.8h-1.8zM246.3 409.0h1.5v1.5h-1.5zM245.7 412.0h1.0v1.0h-1.0zM246.2 413.0h1.5v1.5h-1.5zM247.5 402.8h1.5v1.5h-1.5zM246.7 403.8h1.8v1.8h-1.8zM246.7 404.8h1.0v1.0h-1.0zM247.0 408.8h1.8v1.8h-1.8zM247.0 417.8h1.0v1.0h-1.0zM248.1 398.6h1.0v1.0h-1.0zM247.9 401.6h1.8v1.8h-1.8zM248.3 404.6h1.8v1.8h-1.8zM247.8 414.6h1.8v1.8h-1.8zM247.6 417.6h1.2v1.2h-1.2zM249.1 412.8h1.2v1.2h-1.2zM249.0 418.8h1.2v1.2h-1.2zM250.0 400.5h1.0v1.0h-1.0zM250.0 398.0h1.8v1.8h-1.8zM249.6 406.0h1.8v1.8h-1.8zM249.6 408.0h1.8v1.8h-1.8zM251.0 399.1h1.0v1.0h-1.0zM250.9 403.6h1.0v1.0h-1.0zM250.9 408.6h1.0v1.0h-1.0zM251.0 412.6h1.0v1.0h-1.0zM255.0 394.5h1.0v1.0h-1.0zM270.0 396.7h1.0v1.0h-1.0zM276.0 399.3h1.0v1.0h-1.0zM278.0 403.7h1.0v1.0h-1.0zM279.0 398.4h1.0v1.0h-1.0zM280.0 399.0h1.0v1.0h-1.0zM280.0 401.0h1.0v1.0h-1.0zM284.0 401.0h1.0v1.0h-1.0zM283.7 406.5h1.8v1.8h-1.8zM285.0 399.0h1.0v1.0h-1.0zM285.2 401.5h1.2v1.2h-1.2zM285.0 405.5h1.2v1.2h-1.2zM284.6 417.5h1.0v1.0h-1.0zM285.9 407.5h1.5v1.5h-1.5zM287.4 397.1h1.0v1.0h-1.0zM286.7 399.1h1.0v1.0h-1.0zM286.7 405.1h1.8v1.8h-1.8zM287.4 418.1h1.0v1.0h-1.0zM288.0 399.3h1.0v1.0h-1.0zM287.6 400.8h1.5v1.5h-1.5zM288.2 405.8h1.5v1.5h-1.5zM288.8 397.9h1.5v1.5h-1.5zM288.7 398.9h1.2v1.2h-1.2zM289.4 404.9h1.0v1.0h-1.0zM289.8 400.5h1.2v1.2h-1.2zM290.0 409.5h1.5v1.5h-1.5zM289.9 410.5h1.5v1.5h-1.5zM289.8 412.5h1.8v1.8h-1.8zM291.0 406.9h1.0v1.0h-1.0zM291.3 398.4h1.2v1.2h-1.2zM291.1 405.4h1.0v1.0h-1.0zM291.1 406.4h1.2v1.2h-1.2zM291.2 415.4h1.0v1.0h-1.0zM292.5 400.4h1.8v1.8h-1.8zM292.2 409.4h1.5v1.5h-1.5zM291.7 419.4h1.0v1.0h-1.0zM292.9 400.0h1.2v1.2h-1.2zM292.5 402.0h1.2v1.2h-1.2zM292.8 403.0h1.0v1.0h-1.0zM292.5 406.0h1.8v1.8h-1.8zM294.0 402.0h1.0v1.0h-1.0zM294.0 396.5h1.2v1.2h-1.2zM294.4 408.5h1.0v1.0h-1.0zM294.3 409.5h1.2v1.2h-1.2zM293.8 411.5h1.5v1.5h-1.5zM294.4 413.5h1.8v1.8h-1.8zM295.0 402.5h1.0v1.0h-1.0zM295.1 397.0h1.5v1.5h-1.5zM294.9 404.0h1.0v1.0h-1.0zM295.3 407.0h1.0v1.0h-1.0zM294.7 415.0h1.5v1.5h-1.5zM296.0 404.0h1.0v1.0h-1.0zM295.5 407.5h1.0v1.0h-1.0zM295.8 408.5h1.5v1.5h-1.5zM296.1 411.5h1.0v1.0h-1.0zM296.1 415.5h1.2v1.2h-1.2zM296.2 417.5h1.0v1.0h-1.0zM297.0 401.8h1.0v1.0h-1.0zM297.0 405.8h1.0v1.0h-1.0zM296.9 397.3h1.0v1.0h-1.0zM296.5 405.3h1.8v1.8h-1.8zM298.5 401.0h1.2v1.2h-1.2zM297.9 407.0h1.8v1.8h-1.8zM298.6 404.3h1.2v1.2h-1.2zM300.0 403.2h1.0v1.0h-1.0zM299.6 401.7h1.8v1.8h-1.8zM299.8 406.7h1.5v1.5h-1.5zM299.7 412.7h1.5v1.5h-1.5zM299.9 415.7h1.0v1.0h-1.0zM301.0 397.7h1.0v1.0h-1.0zM300.8 400.2h1.5v1.5h-1.5zM301.2 403.2h1.0v1.0h-1.0zM302.0 396.7h1.0v1.0h-1.0zM302.4 409.2h1.8v1.8h-1.8zM306.0 397.2h1.0v1.0h-1.0zM307.0 392.2h1.0v1.0h-1.0zM308.0 401.6h1.0v1.0h-1.0zM312.0 399.2h1.0v1.0h-1.0zM314.0 401.1h1.0v1.0h-1.0zM314.5 403.1h1.0v1.0h-1.0zM318.0 398.5h1.0v1.0h-1.0zM329.0 379.8h1.0v1.0h-1.0zM334.5 395.1h1.2v1.2h-1.2zM334.2 409.1h1.0v1.0h-1.0zM334.7 415.3h1.5v1.5h-1.5zM335.0 416.3h1.2v1.2h-1.2zM336.0 401.0h1.0v1.0h-1.0zM335.8 402.5h1.8v1.8h-1.8zM339.0 397.2h1.0v1.0h-1.0zM338.5 396.7h1.8v1.8h-1.8zM338.9 405.7h1.8v1.8h-1.8zM338.8 411.7h1.2v1.2h-1.2zM340.4 399.3h1.2v1.2h-1.2zM340.0 409.3h1.2v1.2h-1.2zM340.5 419.3h1.2v1.2h-1.2zM340.5 402.1h1.8v1.8h-1.8zM341.2 403.1h1.5v1.5h-1.5zM341.4 406.1h1.5v1.5h-1.5zM341.9 397.1h1.5v1.5h-1.5zM342.0 402.1h1.0v1.0h-1.0zM342.7 399.6h1.0v1.0h-1.0zM343.2 402.6h1.5v1.5h-1.5zM343.5 417.6h1.8v1.8h-1.8zM344.5 401.7h1.2v1.2h-1.2zM343.9 402.7h1.8v1.8h-1.8zM345.0 394.5h1.0v1.0h-1.0zM344.8 416.5h1.2v1.2h-1.2zM345.6 409.4h1.5v1.5h-1.5zM345.7 410.4h1.2v1.2h-1.2zM346.5 405.3h1.0v1.0h-1.0zM349.2 404.1h1.2v1.2h-1.2zM348.6 416.1h1.5v1.5h-1.5zM349.3 418.1h1.2v1.2h-1.2zM349.7 418.8h1.0v1.0h-1.0z"/>
<path d="M42.0 446.00V502.70" stroke="#444" stroke-width="0.8" fill="none"/>
<path d="M40.20 446.00H42.0" stroke="#444" stroke-width="0.8"/>
<text x="38.90" y="446.00" font-size="6.9" text-anchor="middle" fill="#333" transform="rotate(-90 38.90 446.00)">0.9</text>
<path d="M40.20 455.45H42.0" stroke="#444" stroke-width="0.8"/>
<path d="M40.20 464.90H42.0" stroke="#444" stroke-width="0.8"/>
<text x="38.90" y="464.90" font-size="6.9" text-anchor="middle" fill="#333" transform="rotate(-90 38.90 464.90)">0.8</text>
<path d="M40.20 474.35H42.0" stroke="#444" stroke-width="0.8"/>
<path d="M40.20 483.80H42.0" stroke="#444" stroke-width="0.8"/>
<text x="38.90" y="483.80" font-size="6.9" text-anchor="middle" fill="#333" transform="rotate(-90 38.90 483.80)">0.7</text>
<path d="M40.20 493.25H42.0" stroke="#444" stroke-width="0.8"/>
<path d="M40.20 502.70H42.0" stroke="#444" stroke-width="0.8"/>
<text x="38.90" y="502.70" font-size="6.9" text-anchor="middle" fill="#333" transform="rotate(-90 38.90 502.70)">0.6</text>
<text x="27.40" y="474.80" font-size="6.8" text-anchor="middle" fill="#777" transform="rotate(-90 27.40 474.80)">|<tspan font-style="italic">Rho</tspan>|</text>
<text x="189.00" y="440.30" font-size="8.4" text-anchor="middle" fill="#222">AF vs Bio7</text>
<text x="46" y="448.60" font-size="8.4" fill="#222"><tspan font-style="italic">P</tspan> = 2.0e<tspan font-size="4.7" dy="-2.3">-149</tspan><tspan dy="2.3"> for Bio7</tspan></text>
<path fill="#a7a8ab" d="M114.8 505.0V484.7H115.0V483.5H116.0V486.1H117.0V488.6H118.0V485.0H119.0V486.6H120.0V482.8H121.0V485.9H122.0V482.6H123.0V485.3H124.0V488.0H125.0V487.2H126.0V480.4H127.0V483.5H128.0V487.2H129.0V487.3H130.0V483.3H131.0V481.9H132.0V486.0H133.0V485.4H134.0V487.1H135.0V486.4H136.0V484.2H137.0V487.8H138.0V494.3H139.0V490.8H140.0V496.4H141.0V494.9H142.0V487.5H143.0V486.9H144.0V488.5H145.0V490.0H146.0V488.0H147.0V491.5H148.0V492.7H149.0V487.9H150.0V490.5H151.0V489.0H152.0V488.8H153.0V489.6H154.0V481.0H155.0V489.7H156.0V492.1H157.0V485.2H158.0V484.7H159.0V481.4H160.0V486.4H161.0V484.7H162.0V485.6H163.0V481.5H164.0V483.5H165.0V481.6H166.0V478.9H167.0V482.8H168.0V481.2H169.0V482.4H170.0V482.7H171.0V484.9H172.0V485.0H172.6V505.0ZM225.2 505.0V484.4H226.0V490.0H227.0V490.5H228.0V484.6H229.0V484.1H230.0V487.8H231.0V485.8H232.0V485.5H233.0V486.1H234.0V488.0H235.0V485.7H236.0V483.7H237.0V488.2H238.0V491.5H239.0V494.0H240.0V492.0H241.0V490.3H242.0V490.0H243.0V488.7H244.0V488.6H245.0V487.9H246.0V489.3H247.0V489.1H248.0V485.4H249.0V490.7H250.0V492.4H251.0V488.7H252.0V485.5H253.0V486.1H254.0V484.5H255.0V485.0H256.0V480.8H257.0V484.0H258.0V482.6H259.0V483.9H260.0V486.5H261.0V485.9H262.0V487.1H263.0V485.0H264.0V482.5H265.0V482.0H266.0V485.5H267.0V483.2H268.0V480.8H269.0V479.7H270.0V487.9H271.0V488.4H272.0V487.7H273.0V480.7H274.0V479.8H274.1V505.0ZM314.5 505.0V481.0H315.0V479.5H316.0V478.9H317.0V478.2H318.0V482.6H319.0V481.6H320.0V473.6H321.0V474.3H322.0V476.5H323.0V475.2H324.0V468.8H325.0V464.7H326.0V468.6H327.0V462.5H328.0V465.2H329.0V469.8H330.0V468.6H331.0V477.3H332.0V475.5H333.0V485.5H334.0V481.6H335.0V476.7H336.0V479.9H337.0V481.5H338.0V480.1H339.0V483.5H340.0V478.4H341.0V481.6H342.0V477.7H343.0V478.2H344.0V479.9H345.0V481.9H346.0V480.3H347.0V480.0H348.0V482.2H349.0V487.4H350.0V486.5H350.5V505.0ZM327.0 505.0V460.3h1V505.0ZM328.0 505.0V461.1h1V505.0ZM329.0 505.0V460.6h1V505.0ZM121.3 505.0V456.3h1.6V505.0Z"/>
<path fill="#0b0b0b" d="M54.0 505.0V487.8H55.0V490.3H56.0V482.5H57.0V486.7H58.0V484.6H59.0V483.4H60.0V479.9H61.0V485.4H62.0V494.0H63.0V490.1H64.0V488.9H65.0V489.0H66.0V489.2H67.0V490.1H68.0V485.2H69.0V485.7H70.0V486.0H71.0V489.1H72.0V489.0H73.0V489.9H74.0V490.2H75.0V493.9H76.0V489.4H77.0V491.1H78.0V490.2H79.0V492.2H80.0V491.7H81.0V496.4H82.0V497.0H83.0V491.2H84.0V490.5H85.0V490.0H86.0V494.5H87.0V492.6H88.0V493.9H89.0V489.3H90.0V489.5H91.0V486.9H92.0V487.4H93.0V487.3H94.0V487.6H95.0V489.1H96.0V485.3H97.0V483.3H98.0V483.6H99.0V485.8H100.0V481.7H101.0V484.6H102.0V486.5H103.0V484.6H104.0V490.9H105.0V490.1H106.0V485.3H107.0V486.9H108.0V491.2H109.0V488.7H110.0V490.5H111.0V486.3H112.0V482.3H113.0V483.2H114.0V487.2H114.8V505.0ZM172.6 505.0V477.6H173.0V476.6H174.0V478.6H175.0V478.2H176.0V469.6H177.0V475.4H178.0V477.7H179.0V478.2H180.0V479.0H181.0V476.5H182.0V478.4H183.0V479.2H184.0V475.1H185.0V473.7H186.0V476.6H187.0V481.0H188.0V488.6H189.0V486.3H190.0V484.4H191.0V489.0H192.0V487.7H193.0V490.3H194.0V487.2H195.0V485.7H196.0V487.0H197.0V485.6H198.0V486.6H199.0V487.6H200.0V487.0H201.0V487.3H202.0V489.5H203.0V489.6H204.0V487.5H205.0V484.0H206.0V486.6H207.0V487.4H208.0V487.8H209.0V487.2H210.0V485.3H211.0V486.8H212.0V484.5H213.0V485.6H214.0V485.3H215.0V489.0H216.0V483.2H217.0V479.8H218.0V480.1H219.0V478.2H220.0V480.0H221.0V481.7H222.0V482.2H223.0V484.8H224.0V479.0H225.0V481.4H225.2V505.0ZM274.1 505.0V488.2H275.0V489.7H276.0V481.4H277.0V482.9H278.0V483.8H279.0V488.6H280.0V486.1H281.0V482.8H282.0V483.8H283.0V487.1H284.0V485.1H285.0V485.0H286.0V486.7H287.0V488.9H288.0V488.1H289.0V491.1H290.0V489.3H291.0V489.6H292.0V488.7H293.0V483.1H294.0V489.6H295.0V490.3H296.0V491.4H297.0V493.4H298.0V490.0H299.0V488.6H300.0V491.1H301.0V488.6H302.0V486.4H303.0V477.5H304.0V480.2H305.0V486.1H306.0V488.7H307.0V484.2H308.0V480.8H309.0V476.4H310.0V475.4H311.0V484.4H312.0V481.5H313.0V483.9H314.0V480.0H314.5V505.0Z"/>
<path stroke="#a7a8ab" stroke-width="1.2" fill="none" d="M114.8 483.3h1.2M115.0 480.8h1.2M115.0 483.1h1.2M115.0 482.1h1.2M115.0 481.1h1.2M114.8 479.6h1.2M116.0 484.7h1.2M116.0 483.7h1.2M116.0 480.2h1.2M116.2 470.6h1.2M117.0 488.2h1.2M117.0 487.2h1.2M117.0 483.7h1.2M117.1 482.7h1.2M117.0 478.7h1.2M117.0 476.7h1.2M118.0 483.6h1.2M118.0 482.6h1.2M120.0 482.4h1.2M120.0 481.4h1.2M120.0 480.4h1.2M120.2 474.9h1.2M121.0 485.5h1.2M121.0 483.5h1.2M121.2 481.0h1.2M121.2 480.0h1.2M121.1 479.0h1.2M122.0 482.2h1.2M122.0 481.2h1.2M122.1 477.7h1.2M121.8 473.6h1.2M123.0 484.9h1.2M123.0 483.9h1.2M123.0 482.9h1.2M123.0 480.4h1.2M122.8 476.4h1.2M124.0 487.6h1.2M124.0 486.6h1.2M124.0 485.6h1.2M124.2 483.1h1.2M124.0 471.6h1.2M125.0 486.8h1.2M125.0 485.8h1.2M125.0 484.8h1.2M124.9 476.3h1.2M125.1 472.6h1.2M126.0 480.0h1.2M126.0 479.0h1.2M126.0 478.0h1.2M127.0 483.1h1.2M127.0 481.1h1.2M127.2 479.6h1.2M127.0 478.6h1.2M127.1 477.6h1.2M128.0 486.8h1.2M128.0 485.8h1.2M128.1 483.3h1.2M128.2 481.3h1.2M129.0 486.9h1.2M129.0 485.9h1.2M129.0 484.9h1.2M128.9 481.4h1.2M129.1 479.4h1.2M130.0 481.9h1.2M130.0 480.9h1.2M129.9 478.4h1.2M131.0 481.5h1.2M131.0 479.5h1.2M130.9 478.0h1.2M132.0 485.6h1.2M132.0 483.6h1.2M132.1 482.1h1.2M132.0 479.1h1.2M133.0 484.0h1.2M133.0 483.0h1.2M132.9 480.5h1.2M132.9 475.5h1.2M132.9 469.6h1.2M134.0 485.7h1.2M134.0 484.7h1.2M134.0 481.2h1.2M135.0 486.0h1.2M135.0 484.0h1.2M135.0 481.5h1.2M136.0 483.8h1.2M136.0 482.8h1.2M136.0 481.8h1.2M135.9 479.3h1.2M137.0 486.4h1.2M137.0 485.4h1.2M136.9 482.9h1.2M137.1 481.9h1.2M136.9 479.9h1.2M136.9 472.9h1.2M138.0 493.9h1.2M138.0 492.9h1.2M138.0 491.9h1.2M138.0 490.4h1.2M138.1 489.4h1.2M138.1 479.4h1.2M138.0 473.6h1.2M139.0 490.4h1.2M139.0 488.4h1.2M138.9 485.9h1.2M139.0 480.9h1.2M140.0 495.0h1.2M140.0 494.0h1.2M139.9 492.5h1.2M140.0 491.5h1.2M139.9 490.5h1.2M139.9 489.5h1.2M139.9 486.5h1.2M140.0 479.5h1.2M139.8 477.6h1.2M141.0 494.5h1.2M141.0 493.5h1.2M141.0 492.5h1.2M140.8 491.0h1.2M141.0 488.0h1.2M140.9 478.0h1.2M141.1 475.6h1.2M142.0 487.1h1.2M142.1 481.6h1.2M143.0 486.5h1.2M143.0 485.5h1.2M143.0 484.5h1.2M143.0 483.0h1.2M144.0 488.1h1.2M144.0 487.1h1.2M144.0 486.1h1.2M144.1 484.6h1.2M144.1 483.6h1.2M144.1 482.6h1.2M144.0 481.6h1.2M145.0 489.6h1.2M145.0 488.6h1.2M145.0 487.6h1.2M146.0 486.6h1.2M145.9 480.1h1.2M147.0 491.1h1.2M147.0 490.1h1.2M147.0 489.1h1.2M147.0 484.6h1.2M146.8 482.6h1.2M148.0 491.3h1.2M148.0 490.3h1.2M148.1 488.8h1.2M148.1 486.8h1.2M147.8 483.8h1.2M147.8 478.8h1.2M149.0 486.5h1.2M149.0 485.5h1.2M149.2 482.0h1.2M148.9 479.0h1.2M150.0 490.1h1.2M150.0 489.1h1.2M150.0 488.1h1.2M150.0 486.6h1.2M150.1 484.6h1.2M151.0 488.6h1.2M151.0 487.6h1.2M151.0 486.6h1.2M151.2 485.1h1.2M151.0 482.1h1.2M152.0 488.4h1.2M152.0 487.4h1.2M152.0 486.4h1.2M151.9 484.9h1.2M151.9 482.9h1.2M151.9 473.6h1.2M153.0 487.2h1.2M153.1 485.7h1.2M153.1 484.7h1.2M152.8 478.7h1.2M153.1 472.6h1.2M154.0 479.6h1.2M154.0 478.6h1.2M154.0 473.6h1.2M154.0 471.6h1.2M155.0 489.3h1.2M155.0 488.3h1.2M155.0 487.3h1.2M154.8 485.8h1.2M154.9 483.8h1.2M156.0 491.7h1.2M156.0 490.7h1.2M156.0 489.7h1.2M156.0 488.2h1.2M155.9 486.2h1.2M157.0 484.8h1.2M157.0 483.8h1.2M157.0 482.8h1.2M157.1 481.3h1.2M157.1 476.3h1.2M157.0 474.6h1.2M158.0 484.3h1.2M158.0 483.3h1.2M158.0 482.3h1.2M157.8 479.8h1.2M158.1 476.8h1.2M158.1 473.8h1.2M159.0 480.0h1.2M159.0 479.0h1.2M158.9 477.5h1.2M159.0 473.5h1.2M158.8 471.5h1.2M160.0 486.0h1.2M160.0 485.0h1.2M160.0 484.0h1.2M160.2 481.5h1.2M159.9 472.5h1.2M159.8 467.6h1.2M161.0 484.3h1.2M161.0 483.3h1.2M161.0 482.3h1.2M161.0 479.8h1.2M160.8 476.8h1.2M161.1 474.8h1.2M161.0 473.8h1.2M160.9 468.6h1.2M161.0 466.6h1.2M162.0 484.2h1.2M162.0 483.2h1.2M161.9 478.7h1.2M163.0 481.1h1.2M163.1 465.6h1.2M164.0 483.1h1.2M164.0 482.1h1.2M164.0 481.1h1.2M164.1 479.6h1.2M164.2 476.6h1.2M163.9 474.6h1.2M163.9 468.6h1.2M164.0 467.6h1.2M163.9 464.6h1.2M165.0 481.2h1.2M165.0 480.2h1.2M165.0 479.2h1.2M165.1 475.7h1.2M166.0 476.5h1.2M166.1 474.0h1.2M167.0 482.4h1.2M167.0 480.4h1.2M167.0 477.9h1.2M168.0 480.8h1.2M168.0 479.8h1.2M168.0 478.8h1.2M168.2 477.3h1.2M169.0 482.0h1.2M169.0 480.0h1.2M169.2 475.5h1.2M168.8 474.5h1.2M170.0 482.3h1.2M170.0 481.3h1.2M170.0 480.3h1.2M170.0 478.8h1.2M171.0 484.5h1.2M171.0 483.5h1.2M171.0 482.5h1.2M172.0 484.6h1.2M172.0 483.6h1.2M172.0 482.6h1.2M171.8 478.1h1.2M172.1 470.1h1.2M225.2 484.0h1.2M225.2 483.0h1.2M225.2 482.0h1.2M225.2 480.5h1.2M226.0 489.6h1.2M226.0 487.6h1.2M226.1 483.1h1.2M226.1 477.1h1.2M227.0 490.1h1.2M227.0 489.1h1.2M227.0 488.1h1.2M226.9 486.6h1.2M227.2 483.6h1.2M227.0 482.6h1.2M226.9 480.6h1.2M227.1 477.6h1.2M226.9 475.6h1.2M227.0 470.6h1.2M228.0 484.2h1.2M228.0 483.2h1.2M228.0 482.2h1.2M228.1 480.7h1.2M229.0 483.7h1.2M229.0 482.7h1.2M229.0 480.2h1.2M229.1 479.2h1.2M228.9 478.2h1.2M229.2 477.2h1.2M230.0 487.4h1.2M230.0 486.4h1.2M230.0 485.4h1.2M230.2 475.9h1.2M231.0 485.4h1.2M231.0 484.4h1.2M231.0 481.9h1.2M231.1 480.9h1.2M232.0 485.1h1.2M232.0 484.1h1.2M232.0 483.1h1.2M231.9 479.6h1.2M232.1 478.6h1.2M232.2 477.6h1.2M233.0 485.7h1.2M233.0 484.7h1.2M233.0 483.7h1.2M233.1 481.2h1.2M234.0 487.6h1.2M234.0 486.6h1.2M234.0 485.6h1.2M233.9 484.1h1.2M234.2 483.1h1.2M234.2 482.1h1.2M234.1 481.1h1.2M235.0 485.3h1.2M235.0 483.3h1.2M235.0 481.8h1.2M235.1 479.8h1.2M235.2 474.8h1.2M236.0 483.3h1.2M236.0 482.3h1.2M236.0 481.3h1.2M235.9 477.8h1.2M237.0 487.8h1.2M237.0 486.8h1.2M237.0 485.8h1.2M236.8 484.3h1.2M237.1 482.3h1.2M237.1 479.3h1.2M237.1 478.3h1.2M238.0 491.1h1.2M238.2 486.6h1.2M238.1 482.6h1.2M239.0 493.6h1.2M239.0 491.6h1.2M239.1 490.1h1.2M238.8 489.1h1.2M238.8 479.1h1.2M238.8 478.1h1.2M240.0 490.6h1.2M239.9 488.1h1.2M239.8 487.1h1.2M240.1 486.1h1.2M241.0 489.9h1.2M241.0 488.9h1.2M241.0 487.9h1.2M241.0 486.4h1.2M241.1 483.4h1.2M242.0 489.6h1.2M242.0 488.6h1.2M242.0 485.1h1.2M242.2 484.1h1.2M242.0 482.1h1.2M241.8 473.6h1.2M242.2 472.6h1.2M243.0 488.3h1.2M243.0 487.3h1.2M243.0 486.3h1.2M242.9 484.8h1.2M243.2 483.8h1.2M242.9 482.8h1.2M244.0 488.2h1.2M244.0 487.2h1.2M244.0 486.2h1.2M243.8 479.7h1.2M245.0 486.5h1.2M245.0 485.5h1.2M245.2 482.0h1.2M244.8 481.0h1.2M245.0 480.0h1.2M246.0 488.9h1.2M246.0 487.9h1.2M246.0 486.9h1.2M246.2 483.4h1.2M246.1 482.4h1.2M247.0 488.7h1.2M247.0 487.7h1.2M247.0 486.7h1.2M247.2 485.2h1.2M248.0 485.0h1.2M248.0 484.0h1.2M248.0 478.5h1.2M249.0 490.3h1.2M249.0 488.3h1.2M248.9 485.8h1.2M248.9 481.8h1.2M248.9 480.8h1.2M249.0 471.6h1.2M250.0 492.0h1.2M250.0 491.0h1.2M250.0 490.0h1.2M249.8 488.5h1.2M249.8 484.5h1.2M250.0 483.5h1.2M251.0 488.3h1.2M251.0 487.3h1.2M251.0 486.3h1.2M250.9 482.8h1.2M251.0 481.8h1.2M251.2 480.8h1.2M250.9 478.8h1.2M251.0 468.9h1.2M252.0 484.1h1.2M252.0 483.1h1.2M251.9 480.6h1.2M251.9 477.6h1.2M253.0 485.7h1.2M253.0 484.7h1.2M253.0 483.7h1.2M252.9 482.2h1.2M253.1 479.2h1.2M253.0 478.2h1.2M254.0 484.1h1.2M254.0 483.1h1.2M254.0 482.1h1.2M253.8 480.6h1.2M253.9 479.6h1.2M253.8 478.6h1.2M254.0 475.6h1.2M255.0 484.6h1.2M255.0 482.6h1.2M255.0 476.1h1.2M256.0 480.4h1.2M256.0 479.4h1.2M256.0 472.9h1.2M256.0 471.9h1.2M257.0 483.6h1.2M257.0 482.6h1.2M256.9 478.1h1.2M257.2 474.1h1.2M258.0 482.2h1.2M258.0 480.2h1.2M258.0 478.7h1.2M258.2 477.7h1.2M259.0 482.5h1.2M259.0 481.5h1.2M259.0 477.0h1.2M259.2 472.0h1.2M259.0 467.5h1.2M260.0 486.1h1.2M260.0 485.1h1.2M260.0 484.1h1.2M260.0 482.6h1.2M259.9 480.6h1.2M260.1 471.6h1.2M260.1 467.5h1.2M261.0 485.5h1.2M261.0 484.5h1.2M261.0 483.5h1.2M260.9 480.0h1.2M261.1 478.0h1.2M261.0 477.0h1.2M261.0 475.0h1.2M262.0 486.7h1.2M262.2 483.2h1.2M262.0 480.2h1.2M262.0 478.2h1.2M263.0 484.6h1.2M263.0 483.6h1.2M263.0 482.6h1.2M263.1 476.1h1.2M263.0 472.1h1.2M262.9 465.4h1.2M264.0 481.1h1.2M264.0 480.1h1.2M264.0 475.6h1.2M264.0 468.4h1.2M265.0 481.6h1.2M265.0 480.6h1.2M265.0 478.1h1.2M266.0 485.1h1.2M266.0 484.1h1.2M266.0 483.1h1.2M266.0 474.6h1.2M267.0 482.8h1.2M267.0 481.8h1.2M267.0 480.8h1.2M267.0 476.3h1.2M268.0 480.4h1.2M268.0 479.4h1.2M268.0 478.4h1.2M269.0 479.3h1.2M269.0 478.3h1.2M269.0 477.3h1.2M268.9 475.8h1.2M269.0 474.8h1.2M270.0 486.5h1.2M270.0 485.5h1.2M270.0 470.0h1.2M271.0 488.0h1.2M271.0 487.0h1.2M271.0 486.0h1.2M271.1 483.5h1.2M270.9 472.5h1.2M272.0 487.3h1.2M272.0 486.3h1.2M272.0 485.3h1.2M272.2 482.8h1.2M272.1 480.8h1.2M271.9 476.8h1.2M272.1 473.8h1.2M273.0 480.3h1.2M273.0 479.3h1.2M273.0 476.8h1.2M273.1 475.8h1.2M272.9 473.8h1.2M273.2 465.2h1.2M274.0 479.4h1.2M274.0 478.4h1.2M274.0 477.4h1.2M274.0 474.9h1.2M273.8 473.9h1.2M314.5 480.6h1.2M314.5 479.6h1.2M314.5 478.6h1.2M314.4 475.1h1.2M314.6 474.1h1.2M315.0 478.1h1.2M315.0 477.1h1.2M314.8 473.6h1.2M316.0 478.5h1.2M316.0 477.5h1.2M316.0 476.5h1.2M316.1 473.0h1.2M317.0 476.8h1.2M317.0 475.8h1.2M318.0 482.2h1.2M318.0 481.2h1.2M318.0 480.2h1.2M318.2 476.7h1.2M318.1 474.7h1.2M318.1 472.7h1.2M318.2 471.7h1.2M318.1 465.6h1.2M319.0 481.2h1.2M319.0 480.2h1.2M319.0 477.7h1.2M319.1 473.7h1.2M320.0 473.2h1.2M320.0 472.2h1.2M320.0 468.7h1.2M321.0 472.9h1.2M322.0 476.1h1.2M322.0 474.1h1.2M322.0 472.6h1.2M321.9 469.6h1.2M323.0 474.8h1.2M323.0 473.8h1.2M323.0 472.8h1.2M324.0 468.4h1.2M324.0 467.4h1.2M325.0 464.3h1.2M325.0 463.3h1.2M325.0 462.3h1.2M325.0 458.8h1.2M326.0 468.2h1.2M326.0 467.2h1.2M326.0 466.2h1.2M325.9 463.7h1.2M326.1 461.7h1.2M326.0 460.7h1.2M327.0 462.1h1.2M327.0 460.1h1.2M326.9 458.6h1.2M328.0 464.8h1.2M328.0 462.8h1.2M327.8 459.3h1.2M329.0 468.4h1.2M329.0 467.4h1.2M329.2 465.9h1.2M329.2 464.9h1.2M330.0 468.2h1.2M330.0 467.2h1.2M330.0 463.7h1.2M330.0 462.7h1.2M331.0 475.9h1.2M331.0 474.9h1.2M331.0 469.4h1.2M332.0 474.1h1.2M332.0 473.1h1.2M333.0 485.1h1.2M333.0 484.1h1.2M333.0 483.1h1.2M333.0 481.6h1.2M333.1 480.6h1.2M332.9 465.3h1.2M334.0 480.2h1.2M334.0 479.2h1.2M333.9 475.7h1.2M333.9 474.7h1.2M335.0 476.3h1.2M335.0 475.3h1.2M336.0 479.5h1.2M336.0 478.5h1.2M336.0 477.5h1.2M337.0 479.1h1.2M336.8 477.6h1.2M337.0 476.6h1.2M336.8 475.6h1.2M338.0 479.7h1.2M338.0 477.7h1.2M337.9 476.2h1.2M339.0 483.1h1.2M339.0 482.1h1.2M339.0 481.1h1.2M339.2 475.6h1.2M340.0 477.0h1.2M340.0 476.0h1.2M339.8 474.5h1.2M340.2 472.5h1.2M339.8 471.6h1.2M339.9 467.6h1.2M341.0 481.2h1.2M341.0 480.2h1.2M341.0 479.2h1.2M341.0 476.7h1.2M341.1 474.7h1.2M341.1 469.6h1.2M342.0 473.8h1.2M343.0 477.8h1.2M343.0 475.8h1.2M342.9 470.6h1.2M344.0 479.5h1.2M344.0 478.5h1.2M344.0 477.5h1.2M345.0 481.5h1.2M345.0 479.5h1.2M345.1 478.0h1.2M346.0 479.9h1.2M346.0 478.9h1.2M346.0 477.9h1.2M345.8 467.6h1.2M347.0 479.6h1.2M347.0 478.6h1.2M347.0 477.6h1.2M347.1 475.1h1.2M348.0 481.8h1.2M348.0 480.8h1.2M348.0 479.8h1.2M348.0 470.6h1.2M349.0 487.0h1.2M349.0 486.0h1.2M349.0 485.0h1.2M349.0 483.5h1.2M349.1 482.5h1.2M349.1 481.5h1.2M349.0 478.5h1.2M349.1 475.5h1.2M350.0 486.1h1.2M350.0 485.1h1.2M349.8 482.6h1.2M350.1 479.6h1.2M327.1 458.6h1.2M327.1 455.6h1.2M327.0 451.6h1.2M328.2 459.6h1.2M327.9 457.6h1.2M327.9 454.6h1.2M328.0 450.6h1.2M329.2 460.6h1.2M328.9 459.6h1.2M329.0 458.6h1.2M328.9 453.6h1.2"/>
<path stroke="#0b0b0b" stroke-width="1.2" fill="none" d="M54.0 487.4h1.2M54.0 486.4h1.2M54.1 480.9h1.2M53.8 475.9h1.2M55.0 489.9h1.2M55.0 487.9h1.2M55.2 485.4h1.2M55.1 480.4h1.2M54.9 468.6h1.2M55.2 467.6h1.2M56.0 482.1h1.2M56.0 481.1h1.2M55.9 477.6h1.2M57.0 486.3h1.2M57.0 485.3h1.2M57.0 481.8h1.2M58.0 484.2h1.2M58.0 483.2h1.2M58.1 480.7h1.2M59.0 482.0h1.2M59.0 477.5h1.2M60.0 478.5h1.2M60.0 477.5h1.2M61.0 485.0h1.2M61.0 484.0h1.2M61.0 483.0h1.2M62.0 492.6h1.2M62.0 491.6h1.2M61.8 489.1h1.2M61.8 486.1h1.2M62.0 484.1h1.2M61.9 482.1h1.2M62.0 480.1h1.2M63.0 489.7h1.2M63.0 487.7h1.2M63.2 484.2h1.2M63.1 478.2h1.2M63.1 476.2h1.2M62.8 469.6h1.2M63.1 467.6h1.2M64.0 488.5h1.2M64.0 486.5h1.2M63.9 482.0h1.2M63.9 474.0h1.2M65.0 488.6h1.2M65.0 487.6h1.2M64.9 484.1h1.2M64.9 480.1h1.2M65.0 478.1h1.2M66.0 488.8h1.2M66.0 487.8h1.2M66.0 486.8h1.2M66.0 485.3h1.2M67.0 489.7h1.2M67.0 488.7h1.2M67.0 487.7h1.2M67.1 485.2h1.2M67.2 483.2h1.2M68.0 484.8h1.2M68.0 483.8h1.2M68.0 482.8h1.2M68.0 481.3h1.2M67.9 479.3h1.2M67.8 478.3h1.2M67.8 475.3h1.2M69.0 485.3h1.2M69.0 484.3h1.2M69.0 483.3h1.2M69.0 472.6h1.2M68.9 466.6h1.2M70.0 484.6h1.2M71.0 488.7h1.2M71.0 486.7h1.2M70.8 485.2h1.2M70.9 484.2h1.2M70.9 482.2h1.2M70.9 475.2h1.2M71.2 466.6h1.2M72.0 488.6h1.2M72.0 487.6h1.2M72.0 486.6h1.2M72.2 484.1h1.2M72.1 482.1h1.2M72.0 477.1h1.2M71.9 476.1h1.2M73.0 489.5h1.2M73.0 488.5h1.2M73.1 484.0h1.2M74.0 489.8h1.2M74.0 488.8h1.2M74.0 487.8h1.2M74.0 486.3h1.2M74.2 483.3h1.2M73.9 475.6h1.2M75.0 493.5h1.2M75.0 492.5h1.2M75.0 491.5h1.2M75.1 490.0h1.2M74.9 489.0h1.2M74.9 488.0h1.2M76.0 489.0h1.2M76.0 487.0h1.2M75.8 485.5h1.2M77.0 489.7h1.2M77.0 488.7h1.2M76.9 487.2h1.2M76.9 486.2h1.2M77.0 479.6h1.2M77.1 474.6h1.2M78.0 489.8h1.2M78.0 488.8h1.2M78.0 487.8h1.2M78.0 486.3h1.2M78.0 483.3h1.2M79.0 491.8h1.2M79.0 490.8h1.2M79.0 489.8h1.2M78.8 488.3h1.2M80.0 491.3h1.2M80.0 490.3h1.2M81.0 496.0h1.2M81.0 484.5h1.2M81.0 483.5h1.2M81.0 481.5h1.2M82.0 496.6h1.2M82.0 494.6h1.2M82.1 493.1h1.2M82.1 491.1h1.2M83.0 490.8h1.2M83.0 488.8h1.2M83.0 485.3h1.2M84.0 490.1h1.2M84.0 489.1h1.2M84.0 488.1h1.2M84.0 485.6h1.2M85.0 489.6h1.2M85.0 488.6h1.2M85.0 487.6h1.2M84.9 484.1h1.2M86.0 494.1h1.2M86.0 493.1h1.2M86.0 492.1h1.2M86.1 490.6h1.2M86.1 489.6h1.2M86.1 488.6h1.2M87.0 492.2h1.2M87.0 491.2h1.2M87.0 490.2h1.2M86.9 488.7h1.2M87.1 485.7h1.2M87.1 483.7h1.2M87.0 482.7h1.2M88.0 493.5h1.2M88.0 492.5h1.2M88.0 491.5h1.2M88.0 489.0h1.2M88.1 486.0h1.2M89.0 487.9h1.2M89.0 486.9h1.2M88.9 484.4h1.2M89.0 482.4h1.2M90.0 489.1h1.2M90.0 488.1h1.2M90.1 485.6h1.2M89.9 484.6h1.2M91.0 486.5h1.2M91.0 484.5h1.2M90.9 482.0h1.2M91.2 480.0h1.2M91.1 479.0h1.2M92.0 487.0h1.2M92.0 486.0h1.2M92.0 485.0h1.2M92.2 482.5h1.2M92.0 480.5h1.2M91.9 477.5h1.2M93.0 486.9h1.2M93.0 485.9h1.2M93.0 482.4h1.2M93.0 477.4h1.2M93.1 470.4h1.2M94.0 487.2h1.2M94.0 486.2h1.2M94.0 485.2h1.2M94.1 483.7h1.2M94.0 481.7h1.2M93.8 472.7h1.2M95.0 488.7h1.2M95.0 487.7h1.2M95.0 486.7h1.2M94.9 485.2h1.2M95.1 484.2h1.2M95.2 481.2h1.2M94.8 478.2h1.2M94.9 471.2h1.2M96.0 482.9h1.2M96.1 470.4h1.2M97.0 482.9h1.2M97.0 480.9h1.2M98.0 482.2h1.2M98.0 481.2h1.2M97.9 479.7h1.2M97.8 477.7h1.2M98.0 462.7h1.2M99.0 485.4h1.2M99.0 483.4h1.2M99.1 478.9h1.2M99.1 465.6h1.2M100.0 480.3h1.2M100.0 479.3h1.2M100.2 476.8h1.2M101.0 484.2h1.2M101.0 483.2h1.2M101.0 482.2h1.2M101.1 479.7h1.2M100.9 478.7h1.2M101.0 475.7h1.2M102.0 486.1h1.2M102.0 485.1h1.2M102.0 484.1h1.2M102.0 481.6h1.2M101.9 480.6h1.2M102.1 468.2h1.2M103.0 484.2h1.2M102.9 479.7h1.2M103.2 472.7h1.2M104.0 490.5h1.2M104.0 489.5h1.2M104.0 488.5h1.2M103.8 487.0h1.2M103.9 483.0h1.2M104.1 482.0h1.2M104.1 474.0h1.2M103.9 472.0h1.2M105.0 489.7h1.2M105.0 488.7h1.2M105.0 487.7h1.2M105.1 486.2h1.2M104.8 485.2h1.2M104.8 484.2h1.2M104.9 482.2h1.2M105.1 481.2h1.2M105.0 480.2h1.2M104.9 476.2h1.2M105.0 474.2h1.2M104.9 465.8h1.2M106.0 482.9h1.2M105.9 480.4h1.2M105.9 479.4h1.2M106.1 477.4h1.2M107.0 486.5h1.2M107.0 484.5h1.2M107.0 482.0h1.2M106.8 473.0h1.2M108.0 489.8h1.2M108.0 488.8h1.2M107.8 486.3h1.2M107.8 484.3h1.2M108.1 483.3h1.2M108.2 482.3h1.2M108.2 478.3h1.2M107.9 477.3h1.2M109.0 488.3h1.2M109.0 487.3h1.2M109.0 486.3h1.2M109.0 482.8h1.2M109.1 481.8h1.2M108.9 479.8h1.2M109.2 478.8h1.2M109.1 473.8h1.2M110.0 490.1h1.2M110.0 489.1h1.2M110.0 488.1h1.2M110.1 483.6h1.2M110.0 466.2h1.2M111.0 485.9h1.2M111.0 484.9h1.2M111.0 483.9h1.2M111.2 482.4h1.2M111.2 479.4h1.2M111.0 478.4h1.2M111.1 477.4h1.2M111.0 475.4h1.2M112.0 480.9h1.2M112.0 479.9h1.2M112.0 475.4h1.2M112.2 470.4h1.2M113.0 482.8h1.2M113.0 481.8h1.2M113.0 480.8h1.2M113.0 478.3h1.2M112.9 477.3h1.2M113.1 476.3h1.2M114.0 486.8h1.2M114.0 485.8h1.2M114.0 484.8h1.2M114.0 483.3h1.2M114.2 482.3h1.2M114.0 481.3h1.2M114.1 475.3h1.2M113.8 470.3h1.2M172.6 477.2h1.2M172.6 476.2h1.2M172.6 475.2h1.2M172.4 473.7h1.2M173.0 476.2h1.2M173.0 475.2h1.2M173.0 474.2h1.2M172.9 471.7h1.2M172.9 468.7h1.2M174.0 478.2h1.2M174.0 477.2h1.2M174.0 476.2h1.2M174.1 471.7h1.2M175.0 477.8h1.2M175.0 476.8h1.2M176.0 469.2h1.2M176.0 468.2h1.2M176.0 467.2h1.2M176.2 464.7h1.2M177.0 475.0h1.2M177.0 474.0h1.2M177.0 473.0h1.2M178.0 477.3h1.2M178.0 476.3h1.2M177.8 472.8h1.2M177.8 471.8h1.2M177.8 470.8h1.2M178.2 469.8h1.2M179.0 477.8h1.2M179.0 476.8h1.2M179.0 475.8h1.2M179.1 472.3h1.2M179.1 462.1h1.2M179.0 460.1h1.2M180.0 478.6h1.2M180.0 477.6h1.2M180.0 476.6h1.2M179.8 475.1h1.2M180.0 470.1h1.2M181.0 476.1h1.2M181.0 474.1h1.2M180.8 467.6h1.2M182.0 478.0h1.2M182.0 477.0h1.2M181.8 474.5h1.2M183.0 478.8h1.2M183.0 477.8h1.2M183.0 476.8h1.2M183.2 475.3h1.2M183.1 465.3h1.2M184.0 473.7h1.2M183.8 470.2h1.2M184.0 469.2h1.2M184.2 468.2h1.2M183.9 464.2h1.2M185.0 473.3h1.2M185.0 472.3h1.2M185.0 471.3h1.2M185.1 464.8h1.2M186.0 476.2h1.2M186.0 475.2h1.2M186.2 472.7h1.2M185.9 471.7h1.2M185.9 470.7h1.2M185.9 469.7h1.2M187.0 480.6h1.2M186.9 477.1h1.2M186.9 475.1h1.2M187.1 469.1h1.2M188.0 488.2h1.2M188.0 487.2h1.2M187.8 482.7h1.2M188.0 481.7h1.2M188.1 480.7h1.2M187.8 479.7h1.2M188.0 469.7h1.2M189.0 485.9h1.2M189.0 483.9h1.2M189.1 482.4h1.2M189.1 481.4h1.2M188.9 480.4h1.2M188.9 477.4h1.2M189.2 476.4h1.2M188.9 473.4h1.2M189.1 472.4h1.2M190.0 484.0h1.2M190.0 483.0h1.2M190.0 482.0h1.2M190.0 477.5h1.2M189.9 474.5h1.2M191.0 488.6h1.2M191.0 487.6h1.2M191.0 486.6h1.2M190.9 485.1h1.2M190.9 484.1h1.2M190.9 483.1h1.2M191.0 482.1h1.2M191.0 481.1h1.2M191.0 480.1h1.2M190.8 479.1h1.2M191.0 476.1h1.2M191.2 475.1h1.2M191.0 472.1h1.2M192.0 486.3h1.2M192.0 485.3h1.2M191.8 483.8h1.2M192.1 481.8h1.2M192.2 480.8h1.2M192.0 479.8h1.2M191.8 478.8h1.2M192.1 476.8h1.2M191.9 461.5h1.2M193.0 489.9h1.2M193.0 488.9h1.2M193.1 486.4h1.2M193.0 485.4h1.2M193.1 484.4h1.2M193.0 483.4h1.2M192.9 481.4h1.2M192.9 478.4h1.2M193.1 477.4h1.2M193.2 468.4h1.2M193.0 466.4h1.2M194.0 485.8h1.2M194.0 484.8h1.2M193.9 483.3h1.2M194.1 482.3h1.2M194.0 477.3h1.2M193.9 476.3h1.2M194.1 473.3h1.2M194.0 469.3h1.2M194.0 468.3h1.2M193.8 464.4h1.2M195.0 485.3h1.2M195.0 484.3h1.2M195.0 483.3h1.2M195.0 480.8h1.2M194.8 479.8h1.2M195.1 478.8h1.2M195.1 476.8h1.2M195.0 470.8h1.2M194.9 466.8h1.2M196.0 486.6h1.2M196.0 485.6h1.2M196.0 484.6h1.2M195.8 483.1h1.2M195.9 482.1h1.2M195.9 480.1h1.2M195.8 478.1h1.2M196.2 477.1h1.2M197.0 485.2h1.2M197.0 484.2h1.2M197.0 483.2h1.2M196.9 481.7h1.2M197.1 480.7h1.2M196.8 479.7h1.2M197.1 477.7h1.2M198.0 485.2h1.2M197.8 482.7h1.2M198.0 479.7h1.2M198.1 462.2h1.2M199.0 487.2h1.2M199.0 485.2h1.2M198.8 482.7h1.2M198.9 479.7h1.2M200.0 485.6h1.2M200.0 484.6h1.2M200.1 481.1h1.2M200.0 480.1h1.2M199.8 478.1h1.2M200.0 475.1h1.2M201.0 486.9h1.2M201.0 485.9h1.2M201.2 480.4h1.2M201.2 479.4h1.2M201.1 478.4h1.2M200.9 477.4h1.2M201.1 474.4h1.2M201.1 471.4h1.2M201.1 463.1h1.2M202.0 489.1h1.2M202.0 488.1h1.2M202.0 487.1h1.2M202.0 485.6h1.2M202.0 484.6h1.2M202.2 481.6h1.2M202.1 476.6h1.2M202.2 471.6h1.2M203.0 489.2h1.2M203.0 488.2h1.2M203.0 487.2h1.2M203.0 485.7h1.2M202.9 484.7h1.2M203.0 483.7h1.2M203.0 479.7h1.2M203.0 476.7h1.2M202.9 474.7h1.2M203.1 463.0h1.2M204.0 486.1h1.2M204.0 485.1h1.2M204.1 483.6h1.2M204.0 482.6h1.2M204.0 481.6h1.2M204.1 470.6h1.2M203.9 464.0h1.2M205.0 482.6h1.2M205.0 481.6h1.2M205.1 480.1h1.2M205.1 478.1h1.2M204.9 477.1h1.2M205.0 476.1h1.2M205.1 474.1h1.2M205.0 465.1h1.2M206.0 486.2h1.2M206.0 485.2h1.2M206.0 484.2h1.2M206.0 482.7h1.2M206.1 480.7h1.2M206.0 479.7h1.2M206.0 478.7h1.2M206.2 470.7h1.2M205.9 460.9h1.2M207.0 487.0h1.2M207.0 486.0h1.2M207.0 485.0h1.2M207.0 483.5h1.2M207.0 481.5h1.2M207.0 480.5h1.2M207.0 468.5h1.2M208.0 487.4h1.2M208.0 486.4h1.2M208.0 485.4h1.2M208.0 483.9h1.2M208.1 482.9h1.2M208.2 477.9h1.2M208.0 474.9h1.2M208.2 471.9h1.2M208.2 467.9h1.2M208.1 465.9h1.2M208.2 460.8h1.2M209.0 486.8h1.2M209.0 485.8h1.2M209.0 484.8h1.2M209.1 483.3h1.2M209.1 481.3h1.2M209.0 478.3h1.2M209.2 476.3h1.2M208.8 471.3h1.2M210.0 482.9h1.2M210.1 479.4h1.2M210.2 478.4h1.2M210.1 472.4h1.2M211.0 486.4h1.2M211.0 485.4h1.2M211.0 484.4h1.2M210.9 480.9h1.2M211.2 478.9h1.2M211.1 477.9h1.2M212.0 484.1h1.2M212.0 483.1h1.2M212.0 482.1h1.2M212.0 480.6h1.2M212.0 479.6h1.2M211.9 469.6h1.2M213.0 485.2h1.2M213.0 484.2h1.2M213.0 483.2h1.2M213.1 480.7h1.2M213.2 479.7h1.2M213.1 471.7h1.2M214.0 484.9h1.2M214.0 483.9h1.2M214.1 478.4h1.2M214.0 475.4h1.2M215.0 488.6h1.2M215.0 486.6h1.2M215.1 485.1h1.2M215.1 481.1h1.2M214.8 480.1h1.2M215.0 473.1h1.2M216.1 479.3h1.2M216.0 475.3h1.2M217.0 479.4h1.2M217.0 478.4h1.2M217.0 477.4h1.2M217.2 469.9h1.2M217.2 467.9h1.2M217.1 462.6h1.2M218.0 479.7h1.2M218.0 478.7h1.2M218.0 477.7h1.2M217.8 471.2h1.2M219.0 476.8h1.2M219.0 475.8h1.2M219.1 469.3h1.2M218.8 460.6h1.2M220.0 479.6h1.2M220.0 478.6h1.2M220.1 474.1h1.2M220.0 473.1h1.2M220.1 467.1h1.2M219.9 466.1h1.2M220.0 460.6h1.2M221.0 480.3h1.2M221.0 479.3h1.2M221.0 474.8h1.2M222.0 481.8h1.2M222.0 479.8h1.2M222.2 478.3h1.2M222.1 475.3h1.2M221.8 474.3h1.2M222.1 473.3h1.2M223.0 482.4h1.2M223.2 480.9h1.2M223.1 477.9h1.2M223.1 476.9h1.2M223.0 474.9h1.2M223.2 472.9h1.2M223.0 469.9h1.2M223.1 466.9h1.2M224.0 478.6h1.2M224.0 477.6h1.2M224.0 476.6h1.2M224.0 474.1h1.2M224.0 473.1h1.2M225.0 481.0h1.2M225.0 480.0h1.2M224.9 477.5h1.2M225.1 476.5h1.2M224.9 463.5h1.2M274.1 487.8h1.2M274.1 486.8h1.2M274.1 485.8h1.2M274.1 481.3h1.2M273.9 480.3h1.2M273.9 478.3h1.2M275.0 489.3h1.2M275.0 487.3h1.2M275.0 485.8h1.2M275.2 484.8h1.2M275.0 482.8h1.2M276.0 481.0h1.2M276.0 480.0h1.2M276.0 479.0h1.2M276.0 477.5h1.2M277.0 482.5h1.2M277.0 481.5h1.2M277.0 480.5h1.2M277.2 479.0h1.2M276.9 476.0h1.2M278.0 483.4h1.2M278.0 482.4h1.2M277.9 478.9h1.2M279.0 484.7h1.2M279.1 483.7h1.2M278.9 481.7h1.2M280.0 485.7h1.2M280.0 484.7h1.2M280.0 482.2h1.2M279.9 478.2h1.2M280.1 476.2h1.2M280.0 469.6h1.2M281.0 482.4h1.2M281.0 481.4h1.2M281.0 480.4h1.2M281.1 477.9h1.2M282.0 483.4h1.2M282.0 482.4h1.2M282.0 481.4h1.2M282.0 477.9h1.2M283.0 485.7h1.2M283.0 484.7h1.2M283.1 481.2h1.2M283.1 476.2h1.2M282.9 470.6h1.2M284.0 483.7h1.2M284.0 482.7h1.2M283.8 478.2h1.2M284.1 477.2h1.2M285.0 484.6h1.2M285.0 483.6h1.2M285.0 482.6h1.2M284.9 481.1h1.2M286.0 486.3h1.2M285.9 481.8h1.2M287.0 488.5h1.2M287.0 487.5h1.2M287.0 486.5h1.2M287.0 485.0h1.2M287.2 477.0h1.2M287.0 472.6h1.2M288.0 487.7h1.2M288.0 486.7h1.2M289.0 490.7h1.2M289.0 489.7h1.2M289.0 488.7h1.2M289.1 487.2h1.2M288.8 486.2h1.2M290.0 488.9h1.2M290.0 487.9h1.2M290.0 486.9h1.2M290.0 485.4h1.2M291.0 489.2h1.2M291.0 488.2h1.2M291.0 487.2h1.2M291.2 484.7h1.2M290.8 482.7h1.2M292.0 488.3h1.2M292.0 487.3h1.2M292.0 486.3h1.2M292.1 484.8h1.2M293.0 482.7h1.2M293.0 481.7h1.2M293.0 480.7h1.2M294.0 489.2h1.2M294.0 488.2h1.2M294.0 487.2h1.2M293.9 485.7h1.2M293.8 484.7h1.2M293.9 483.7h1.2M294.2 481.7h1.2M293.9 474.6h1.2M293.9 469.6h1.2M295.0 488.9h1.2M295.0 487.9h1.2M296.0 491.0h1.2M296.0 490.0h1.2M296.0 489.0h1.2M296.0 484.5h1.2M296.2 471.6h1.2M297.0 493.0h1.2M297.0 492.0h1.2M297.0 491.0h1.2M297.1 486.5h1.2M297.1 475.6h1.2M298.0 487.6h1.2M298.2 483.1h1.2M297.9 482.1h1.2M298.2 477.1h1.2M299.0 488.2h1.2M299.0 487.2h1.2M299.0 486.2h1.2M299.0 483.7h1.2M299.1 479.7h1.2M300.0 490.7h1.2M300.0 489.7h1.2M300.0 488.7h1.2M300.2 487.2h1.2M299.9 482.2h1.2M299.8 481.2h1.2M300.1 479.2h1.2M301.0 487.2h1.2M301.0 486.2h1.2M301.2 479.7h1.2M302.0 486.0h1.2M302.0 484.0h1.2M303.0 477.1h1.2M303.0 476.1h1.2M303.0 475.1h1.2M303.2 473.6h1.2M304.0 479.8h1.2M304.0 478.8h1.2M304.1 475.3h1.2M304.1 471.3h1.2M305.0 485.7h1.2M305.0 483.7h1.2M305.0 481.2h1.2M305.0 479.2h1.2M305.2 474.2h1.2M306.0 488.3h1.2M306.0 486.3h1.2M306.0 481.8h1.2M306.0 476.8h1.2M306.1 475.8h1.2M307.0 483.8h1.2M307.0 482.8h1.2M307.0 481.8h1.2M306.9 479.3h1.2M308.0 479.4h1.2M308.0 478.4h1.2M308.2 476.9h1.2M309.0 475.0h1.2M309.0 474.0h1.2M310.0 475.0h1.2M310.0 474.0h1.2M311.0 484.0h1.2M310.9 479.5h1.2M310.8 474.5h1.2M311.1 470.5h1.2M312.0 481.1h1.2M312.0 480.1h1.2M312.0 479.1h1.2M312.0 477.6h1.2M312.1 476.6h1.2M313.0 483.5h1.2M313.0 482.5h1.2M313.0 481.5h1.2M313.2 480.0h1.2M313.2 479.0h1.2M313.0 476.0h1.2M313.1 473.0h1.2M314.0 479.6h1.2M314.0 478.6h1.2M314.0 477.6h1.2M313.9 474.1h1.2"/>
<path fill="#fff" d="M55.0 490.8h1.0v1.0h-1.0zM64.0 489.4h1.0v1.0h-1.0zM71.0 496.6h1.0v1.0h-1.0zM72.2 498.0h1.0v1.0h-1.0zM72.5 490.9h1.8v1.8h-1.8zM74.4 488.2h1.8v1.8h-1.8zM73.7 503.2h1.8v1.8h-1.8zM74.8 493.9h1.2v1.2h-1.2zM74.9 502.9h1.5v1.5h-1.5zM75.6 492.4h1.0v1.0h-1.0zM76.9 492.1h1.2v1.2h-1.2zM77.5 499.1h1.2v1.2h-1.2zM78.0 491.7h1.0v1.0h-1.0zM78.1 488.2h1.2v1.2h-1.2zM77.8 489.2h1.8v1.8h-1.8zM77.8 493.2h1.2v1.2h-1.2zM78.3 494.2h1.5v1.5h-1.5zM78.1 503.2h1.2v1.2h-1.2zM78.8 490.2h1.8v1.8h-1.8zM79.2 494.2h1.0v1.0h-1.0zM78.7 497.2h1.2v1.2h-1.2zM79.7 489.7h1.5v1.5h-1.5zM80.1 492.7h1.8v1.8h-1.8zM80.2 494.7h1.5v1.5h-1.5zM80.2 497.7h1.5v1.5h-1.5zM80.8 495.4h1.0v1.0h-1.0zM80.6 496.4h1.0v1.0h-1.0zM82.4 495.0h1.8v1.8h-1.8zM82.0 500.0h1.2v1.2h-1.2zM82.8 493.2h1.8v1.8h-1.8zM83.2 496.2h1.0v1.0h-1.0zM83.4 500.2h1.5v1.5h-1.5zM84.0 496.0h1.0v1.0h-1.0zM84.2 490.5h1.8v1.8h-1.8zM84.4 492.5h1.2v1.2h-1.2zM83.7 493.5h1.5v1.5h-1.5zM83.9 501.5h1.5v1.5h-1.5zM85.0 491.5h1.0v1.0h-1.0zM84.9 502.0h1.2v1.2h-1.2zM86.4 492.5h1.5v1.5h-1.5zM86.2 493.5h1.0v1.0h-1.0zM86.5 494.5h1.5v1.5h-1.5zM87.0 493.1h1.0v1.0h-1.0zM87.0 499.1h1.0v1.0h-1.0zM86.6 492.6h1.5v1.5h-1.5zM87.3 494.6h1.2v1.2h-1.2zM87.4 498.6h1.2v1.2h-1.2zM87.7 495.9h1.0v1.0h-1.0zM88.5 500.9h1.2v1.2h-1.2zM88.1 501.9h1.2v1.2h-1.2zM88.7 490.3h1.2v1.2h-1.2zM88.7 494.3h1.8v1.8h-1.8zM88.9 497.3h1.0v1.0h-1.0zM89.7 500.5h1.0v1.0h-1.0zM90.5 484.9h1.2v1.2h-1.2zM91.4 489.9h1.0v1.0h-1.0zM93.0 488.8h1.0v1.0h-1.0zM94.0 489.1h1.0v1.0h-1.0zM94.0 494.1h1.0v1.0h-1.0zM95.0 496.6h1.0v1.0h-1.0zM96.0 490.8h1.0v1.0h-1.0zM98.0 489.1h1.0v1.0h-1.0zM103.0 488.1h1.0v1.0h-1.0zM105.0 490.6h1.0v1.0h-1.0zM108.0 494.7h1.0v1.0h-1.0zM114.0 490.7h1.0v1.0h-1.0zM114.0 493.7h1.0v1.0h-1.0zM126.0 482.9h1.0v1.0h-1.0zM136.7 495.8h1.2v1.2h-1.2zM137.9 496.3h1.0v1.0h-1.0zM141.8 488.5h1.8v1.8h-1.8zM142.2 494.5h1.0v1.0h-1.0zM142.4 495.5h1.8v1.8h-1.8zM142.7 490.9h1.0v1.0h-1.0zM142.6 494.9h1.2v1.2h-1.2zM143.5 494.5h1.0v1.0h-1.0zM144.1 495.5h1.2v1.2h-1.2zM145.0 489.0h1.5v1.5h-1.5zM144.7 492.0h1.0v1.0h-1.0zM145.3 493.0h1.5v1.5h-1.5zM146.3 496.0h1.8v1.8h-1.8zM146.7 489.5h1.2v1.2h-1.2zM146.6 495.5h1.8v1.8h-1.8zM147.5 499.5h1.5v1.5h-1.5zM146.9 500.5h1.8v1.8h-1.8zM148.5 499.7h1.5v1.5h-1.5zM148.1 501.7h1.2v1.2h-1.2zM149.0 485.9h1.2v1.2h-1.2zM148.9 490.9h1.2v1.2h-1.2zM149.3 491.9h1.5v1.5h-1.5zM149.3 492.9h1.0v1.0h-1.0zM148.5 501.9h1.5v1.5h-1.5zM150.2 493.5h1.5v1.5h-1.5zM149.7 499.5h1.8v1.8h-1.8zM149.6 502.5h1.8v1.8h-1.8zM151.0 495.0h1.0v1.0h-1.0zM151.4 497.0h1.2v1.2h-1.2zM151.2 499.0h1.5v1.5h-1.5zM153.5 490.6h1.0v1.0h-1.0zM153.3 492.6h1.2v1.2h-1.2zM153.1 501.6h1.8v1.8h-1.8zM153.7 485.0h1.2v1.2h-1.2zM153.8 490.0h1.0v1.0h-1.0zM154.3 491.0h1.8v1.8h-1.8zM153.6 496.0h1.5v1.5h-1.5zM154.3 498.0h1.8v1.8h-1.8zM155.4 493.7h1.5v1.5h-1.5zM154.9 494.7h1.0v1.0h-1.0zM157.0 492.7h1.0v1.0h-1.0zM157.0 485.2h1.0v1.0h-1.0zM156.6 493.2h1.5v1.5h-1.5zM157.3 495.2h1.2v1.2h-1.2zM158.0 487.2h1.0v1.0h-1.0zM174.0 482.1h1.0v1.0h-1.0zM179.0 479.7h1.0v1.0h-1.0zM181.0 479.0h1.0v1.0h-1.0zM181.0 481.0h1.0v1.0h-1.0zM186.0 477.1h1.0v1.0h-1.0zM186.0 479.1h1.0v1.0h-1.0zM187.0 481.5h1.0v1.0h-1.0zM197.0 493.1h1.0v1.0h-1.0zM199.0 493.1h1.0v1.0h-1.0zM200.0 494.5h1.0v1.0h-1.0zM208.0 488.3h1.0v1.0h-1.0zM211.0 493.3h1.0v1.0h-1.0zM212.0 493.0h1.0v1.0h-1.0zM217.0 486.3h1.0v1.0h-1.0zM226.0 490.5h1.0v1.0h-1.0zM237.9 489.5h1.0v1.0h-1.0zM237.7 496.5h1.8v1.8h-1.8zM239.2 493.0h1.2v1.2h-1.2zM239.2 494.0h1.2v1.2h-1.2zM238.8 498.0h1.8v1.8h-1.8zM239.4 503.0h1.5v1.5h-1.5zM239.9 495.0h1.0v1.0h-1.0zM240.7 491.3h1.2v1.2h-1.2zM240.6 492.3h1.5v1.5h-1.5zM240.7 493.3h1.0v1.0h-1.0zM240.6 497.3h1.0v1.0h-1.0zM241.4 498.3h1.5v1.5h-1.5zM241.1 503.3h1.2v1.2h-1.2zM242.1 497.0h1.0v1.0h-1.0zM242.0 501.0h1.8v1.8h-1.8zM243.3 486.7h1.0v1.0h-1.0zM243.4 496.7h1.8v1.8h-1.8zM243.6 489.6h1.0v1.0h-1.0zM243.6 499.6h1.2v1.2h-1.2zM244.6 489.9h1.0v1.0h-1.0zM244.8 493.9h1.5v1.5h-1.5zM247.3 487.1h1.2v1.2h-1.2zM246.8 488.1h1.0v1.0h-1.0zM247.2 490.1h1.5v1.5h-1.5zM246.8 497.1h1.5v1.5h-1.5zM248.0 485.4h1.0v1.0h-1.0zM248.5 494.7h1.2v1.2h-1.2zM248.7 495.7h1.5v1.5h-1.5zM250.4 491.4h1.2v1.2h-1.2zM250.3 492.4h1.2v1.2h-1.2zM250.0 496.4h1.2v1.2h-1.2zM250.3 497.4h1.8v1.8h-1.8zM250.4 499.4h1.8v1.8h-1.8zM250.7 486.7h1.5v1.5h-1.5zM251.2 489.7h1.5v1.5h-1.5zM250.8 490.7h1.5v1.5h-1.5zM250.6 494.7h1.2v1.2h-1.2zM251.0 503.7h1.8v1.8h-1.8zM275.0 491.2h1.0v1.0h-1.0zM277.0 486.4h1.0v1.0h-1.0zM277.0 487.4h1.0v1.0h-1.0zM280.0 487.6h1.0v1.0h-1.0zM281.0 488.3h1.0v1.0h-1.0zM282.0 486.3h1.0v1.0h-1.0zM284.0 486.6h1.0v1.0h-1.0zM283.6 504.1h1.5v1.5h-1.5zM285.8 485.7h1.5v1.5h-1.5zM286.2 489.7h1.5v1.5h-1.5zM285.6 490.7h1.5v1.5h-1.5zM286.3 497.7h1.8v1.8h-1.8zM288.3 491.1h1.2v1.2h-1.2zM287.6 494.1h1.2v1.2h-1.2zM288.8 492.1h1.8v1.8h-1.8zM289.7 490.3h1.2v1.2h-1.2zM290.4 492.3h1.0v1.0h-1.0zM289.8 493.3h1.2v1.2h-1.2zM290.7 487.6h1.5v1.5h-1.5zM291.1 488.6h1.5v1.5h-1.5zM291.4 489.6h1.8v1.8h-1.8zM290.7 503.6h1.5v1.5h-1.5zM292.0 495.2h1.0v1.0h-1.0zM292.5 492.7h1.0v1.0h-1.0zM292.4 500.7h1.0v1.0h-1.0zM293.3 481.1h1.2v1.2h-1.2zM293.4 485.1h1.5v1.5h-1.5zM293.5 486.1h1.8v1.8h-1.8zM292.8 487.1h1.0v1.0h-1.0zM292.6 493.1h1.8v1.8h-1.8zM292.7 501.1h1.5v1.5h-1.5zM293.8 488.6h1.2v1.2h-1.2zM295.1 491.3h1.8v1.8h-1.8zM295.0 494.3h1.8v1.8h-1.8zM296.1 494.4h1.0v1.0h-1.0zM297.3 495.4h1.2v1.2h-1.2zM296.8 499.4h1.0v1.0h-1.0zM298.0 494.5h1.0v1.0h-1.0zM297.6 489.0h1.2v1.2h-1.2zM297.6 490.0h1.0v1.0h-1.0zM297.5 494.0h1.5v1.5h-1.5zM297.7 497.0h1.8v1.8h-1.8zM298.2 503.0h1.8v1.8h-1.8zM299.0 489.1h1.0v1.0h-1.0zM298.7 489.6h1.5v1.5h-1.5zM299.7 496.1h1.2v1.2h-1.2zM299.5 497.1h1.8v1.8h-1.8zM300.5 499.1h1.5v1.5h-1.5zM301.4 496.6h1.5v1.5h-1.5zM302.0 490.9h1.0v1.0h-1.0zM303.0 479.0h1.0v1.0h-1.0zM303.0 480.0h1.0v1.0h-1.0zM303.0 482.0h1.0v1.0h-1.0zM304.0 486.7h1.0v1.0h-1.0zM307.0 489.7h1.0v1.0h-1.0zM309.0 477.9h1.0v1.0h-1.0zM311.0 486.9h1.0v1.0h-1.0zM330.0 477.1h1.0v1.0h-1.0zM333.3 488.5h1.5v1.5h-1.5zM332.8 490.5h1.0v1.0h-1.0zM332.9 491.5h1.5v1.5h-1.5zM332.8 498.5h1.5v1.5h-1.5zM334.8 474.7h1.0v1.0h-1.0zM335.3 477.7h1.5v1.5h-1.5zM335.3 480.7h1.2v1.2h-1.2zM334.6 483.7h1.5v1.5h-1.5zM336.1 497.9h1.2v1.2h-1.2zM336.9 489.5h1.0v1.0h-1.0zM336.9 498.5h1.2v1.2h-1.2zM337.9 489.1h1.2v1.2h-1.2zM338.8 485.5h1.5v1.5h-1.5zM339.2 488.5h1.5v1.5h-1.5zM340.5 485.4h1.8v1.8h-1.8zM340.8 489.6h1.8v1.8h-1.8zM340.5 492.6h1.2v1.2h-1.2zM341.9 484.7h1.2v1.2h-1.2zM341.6 486.7h1.8v1.8h-1.8zM343.3 479.2h1.0v1.0h-1.0zM343.7 477.9h1.0v1.0h-1.0zM344.8 480.9h1.5v1.5h-1.5zM345.0 482.9h1.5v1.5h-1.5zM345.0 495.9h1.5v1.5h-1.5zM346.2 487.3h1.5v1.5h-1.5zM347.8 493.2h1.0v1.0h-1.0zM348.6 487.4h1.5v1.5h-1.5zM349.1 488.4h1.0v1.0h-1.0zM349.0 503.4h1.8v1.8h-1.8zM350.3 490.5h1.0v1.0h-1.0zM349.6 491.5h1.0v1.0h-1.0z"/>
<path d="M42.0 530.50V587.40" stroke="#444" stroke-width="0.8" fill="none"/>
<path d="M40.20 530.50H42.0" stroke="#444" stroke-width="0.8"/>
<text x="38.90" y="530.50" font-size="6.9" text-anchor="middle" fill="#333" transform="rotate(-90 38.90 530.50)">0.9</text>
<path d="M40.20 539.98H42.0" stroke="#444" stroke-width="0.8"/>
<path d="M40.20 549.47H42.0" stroke="#444" stroke-width="0.8"/>
<text x="38.90" y="549.47" font-size="6.9" text-anchor="middle" fill="#333" transform="rotate(-90 38.90 549.47)">0.8</text>
<path d="M40.20 558.95H42.0" stroke="#444" stroke-width="0.8"/>
<path d="M40.20 568.43H42.0" stroke="#444" stroke-width="0.8"/>
<text x="38.90" y="568.43" font-size="6.9" text-anchor="middle" fill="#333" transform="rotate(-90 38.90 568.43)">0.7</text>
<path d="M40.20 577.92H42.0" stroke="#444" stroke-width="0.8"/>
<path d="M40.20 587.40H42.0" stroke="#444" stroke-width="0.8"/>
<text x="38.90" y="587.40" font-size="6.9" text-anchor="middle" fill="#333" transform="rotate(-90 38.90 587.40)">0.6</text>
<text x="27.40" y="559.40" font-size="6.8" text-anchor="middle" fill="#777" transform="rotate(-90 27.40 559.40)">|<tspan font-style="italic">Rho</tspan>|</text>
<text x="189.00" y="527.50" font-size="8.4" text-anchor="middle" fill="#222">AF vs Bio11</text>
<text x="46" y="533.50" font-size="8.4" fill="#222"><tspan font-style="italic">P</tspan> &lt; 1.0e<tspan font-size="4.7" dy="-2.3">-200</tspan><tspan dy="2.3"> for Bio11</tspan></text>
<path fill="#a7a8ab" d="M114.8 589.8V574.4H115.0V577.8H116.0V572.5H117.0V581.4H118.0V579.5H119.0V576.1H120.0V582.0H121.0V583.4H122.0V582.7H123.0V581.8H124.0V579.9H125.0V581.1H126.0V583.8H127.0V579.1H128.0V579.4H129.0V577.8H130.0V580.9H131.0V582.4H132.0V587.8H133.0V588.4H134.0V587.5H135.0V588.8H136.0V588.8H137.0V588.7H138.0V586.5H139.0V588.8H140.0V588.8H141.0V588.8H142.0V583.7H143.0V588.0H144.0V588.0H145.0V586.4H146.0V588.8H147.0V588.8H148.0V588.8H149.0V588.6H150.0V588.8H151.0V586.5H152.0V587.7H153.0V588.7H154.0V588.8H155.0V588.8H156.0V587.9H157.0V577.4H158.0V571.0H159.0V570.6H160.0V568.4H161.0V572.5H162.0V573.5H163.0V574.8H164.0V574.6H165.0V570.2H166.0V572.8H167.0V571.9H168.0V570.5H169.0V571.7H170.0V569.5H171.0V573.2H172.0V570.5H172.6V589.8ZM225.2 589.8V572.6H226.0V572.2H227.0V573.2H228.0V570.8H229.0V572.3H230.0V572.6H231.0V575.0H232.0V577.3H233.0V573.7H234.0V572.6H235.0V574.0H236.0V574.4H237.0V570.7H238.0V578.9H239.0V586.5H240.0V583.8H241.0V586.4H242.0V584.2H243.0V586.8H244.0V588.8H245.0V584.3H246.0V586.6H247.0V586.8H248.0V588.8H249.0V588.8H250.0V583.2H251.0V574.0H252.0V571.2H253.0V571.6H254.0V576.0H255.0V578.2H256.0V574.8H257.0V573.6H258.0V574.7H259.0V575.0H260.0V572.5H261.0V576.0H262.0V574.7H263.0V573.9H264.0V574.6H265.0V575.4H266.0V575.9H267.0V569.7H268.0V569.4H269.0V572.5H270.0V573.7H271.0V571.2H272.0V574.7H273.0V573.6H274.0V573.0H274.1V589.8ZM314.5 589.8V559.3H315.0V564.6H316.0V557.7H317.0V562.4H318.0V564.2H319.0V563.7H320.0V551.0H321.0V549.3H322.0V552.4H323.0V549.7H324.0V550.7H325.0V553.5H326.0V544.1H327.0V547.0H328.0V546.8H329.0V548.5H330.0V565.1H331.0V564.5H332.0V562.3H333.0V577.2H334.0V578.6H335.0V580.2H336.0V587.5H337.0V581.3H338.0V583.0H339.0V581.0H340.0V582.4H341.0V575.3H342.0V581.5H343.0V579.2H344.0V582.5H345.0V583.3H346.0V577.7H347.0V583.1H348.0V582.7H349.0V579.4H350.0V580.2H350.5V589.8ZM120.0 589.8V565.8h1V589.8ZM121.0 589.8V566.7h1V589.8ZM122.0 589.8V565.2h1V589.8Z"/>
<path fill="#0b0b0b" d="M54.0 589.8V573.8H55.0V578.0H56.0V573.2H57.0V572.5H58.0V578.4H59.0V578.9H60.0V579.8H61.0V577.8H62.0V577.0H63.0V574.0H64.0V575.6H65.0V578.3H66.0V578.6H67.0V573.5H68.0V572.7H69.0V576.5H70.0V576.8H71.0V580.5H72.0V580.8H73.0V585.0H74.0V582.7H75.0V585.8H76.0V582.1H77.0V586.6H78.0V586.9H79.0V582.2H80.0V586.5H81.0V586.4H82.0V588.8H83.0V585.6H84.0V585.9H85.0V584.6H86.0V586.9H87.0V583.5H88.0V582.1H89.0V580.5H90.0V575.3H91.0V571.0H92.0V576.1H93.0V573.9H94.0V575.1H95.0V573.7H96.0V572.4H97.0V575.0H98.0V577.6H99.0V577.2H100.0V573.4H101.0V578.2H102.0V572.1H103.0V576.9H104.0V573.8H105.0V580.7H106.0V575.7H107.0V575.1H108.0V576.7H109.0V577.3H110.0V577.6H111.0V573.0H112.0V576.9H113.0V575.5H114.0V575.9H114.8V589.8ZM172.6 589.8V567.8H173.0V570.4H174.0V563.7H175.0V557.4H176.0V553.9H177.0V553.3H178.0V558.2H179.0V550.0H180.0V562.4H181.0V563.2H182.0V560.3H183.0V561.4H184.0V559.0H185.0V560.9H186.0V558.8H187.0V560.3H188.0V570.8H189.0V575.1H190.0V573.4H191.0V579.8H192.0V579.6H193.0V577.7H194.0V580.0H195.0V577.9H196.0V573.5H197.0V575.5H198.0V573.1H199.0V573.8H200.0V574.8H201.0V571.8H202.0V573.2H203.0V566.4H204.0V564.5H205.0V564.4H206.0V563.6H207.0V562.7H208.0V559.5H209.0V556.8H210.0V556.0H211.0V558.0H212.0V553.6H213.0V559.5H214.0V559.0H215.0V556.6H216.0V556.8H217.0V559.6H218.0V555.6H219.0V559.0H220.0V550.4H221.0V555.0H222.0V558.7H223.0V559.2H224.0V561.6H225.0V567.6H225.2V589.8ZM274.1 589.8V570.1H275.0V566.9H276.0V569.3H277.0V566.5H278.0V566.4H279.0V567.9H280.0V568.2H281.0V568.3H282.0V570.0H283.0V568.6H284.0V568.6H285.0V572.3H286.0V576.5H287.0V585.2H288.0V583.4H289.0V577.6H290.0V583.5H291.0V583.0H292.0V583.8H293.0V584.4H294.0V588.8H295.0V582.5H296.0V585.4H297.0V583.2H298.0V581.7H299.0V585.5H300.0V585.7H301.0V581.7H302.0V571.1H303.0V569.1H304.0V569.8H305.0V569.5H306.0V569.6H307.0V571.9H308.0V574.0H309.0V572.5H310.0V574.3H311.0V570.1H312.0V565.7H313.0V566.8H314.0V565.0H314.5V589.8Z"/>
<path stroke="#a7a8ab" stroke-width="1.2" fill="none" d="M114.8 574.0h1.2M114.8 573.0h1.2M114.8 572.0h1.2M114.8 570.5h1.2M114.8 566.5h1.2M115.0 577.4h1.2M115.0 576.4h1.2M115.0 575.4h1.2M115.1 569.9h1.2M114.8 568.9h1.2M114.9 560.6h1.2M116.0 572.1h1.2M116.0 570.1h1.2M116.0 567.6h1.2M116.1 562.6h1.2M117.0 581.0h1.2M117.0 580.0h1.2M116.8 577.5h1.2M116.9 575.5h1.2M117.0 574.5h1.2M116.9 573.5h1.2M116.9 572.5h1.2M117.0 559.6h1.2M118.0 579.1h1.2M118.0 578.1h1.2M118.0 577.1h1.2M118.2 574.6h1.2M117.8 571.6h1.2M119.0 575.7h1.2M119.0 574.7h1.2M119.0 573.7h1.2M119.0 572.2h1.2M120.0 581.6h1.2M120.0 580.6h1.2M120.0 579.6h1.2M120.0 578.1h1.2M120.2 577.1h1.2M120.0 574.1h1.2M119.9 567.1h1.2M119.9 562.6h1.2M121.0 583.0h1.2M121.0 582.0h1.2M121.0 581.0h1.2M120.9 574.5h1.2M121.1 570.5h1.2M120.9 568.5h1.2M120.9 567.5h1.2M122.0 582.3h1.2M122.0 581.3h1.2M122.0 580.3h1.2M121.9 577.8h1.2M121.9 576.8h1.2M122.2 575.8h1.2M122.0 573.8h1.2M121.9 565.8h1.2M122.0 559.6h1.2M123.0 581.4h1.2M123.0 580.4h1.2M123.0 579.4h1.2M123.1 577.9h1.2M122.9 574.9h1.2M123.1 573.9h1.2M122.9 572.9h1.2M124.1 575.0h1.2M123.9 572.0h1.2M124.2 569.0h1.2M125.0 579.7h1.2M125.0 577.2h1.2M125.0 570.2h1.2M124.9 569.2h1.2M126.0 582.4h1.2M126.0 581.4h1.2M125.8 579.9h1.2M126.0 572.9h1.2M126.0 569.9h1.2M127.0 578.7h1.2M127.0 576.7h1.2M127.1 575.2h1.2M126.8 573.2h1.2M127.0 568.2h1.2M127.2 563.2h1.2M128.0 579.0h1.2M128.0 578.0h1.2M128.0 577.0h1.2M128.2 575.5h1.2M129.0 577.4h1.2M129.0 576.4h1.2M129.0 575.4h1.2M129.0 572.9h1.2M129.0 569.9h1.2M129.1 566.9h1.2M129.1 565.9h1.2M130.0 580.5h1.2M130.0 578.5h1.2M131.0 582.0h1.2M131.0 581.0h1.2M131.0 580.0h1.2M131.1 576.5h1.2M131.0 575.5h1.2M131.0 574.5h1.2M131.1 572.5h1.2M130.9 568.5h1.2M130.9 567.5h1.2M132.0 587.4h1.2M132.0 585.4h1.2M131.9 577.9h1.2M131.8 575.9h1.2M132.2 567.9h1.2M132.1 565.9h1.2M131.9 565.6h1.2M133.0 587.0h1.2M133.0 586.0h1.2M132.9 583.5h1.2M133.1 579.5h1.2M133.1 571.6h1.2M134.0 587.1h1.2M134.0 586.1h1.2M134.0 585.1h1.2M134.0 581.6h1.2M133.8 579.6h1.2M135.0 588.4h1.2M134.8 586.7h1.2M134.8 574.7h1.2M135.9 588.4h1.2M136.1 584.4h1.2M135.8 581.4h1.2M136.0 578.4h1.2M137.0 587.3h1.2M137.0 586.3h1.2M137.0 583.8h1.2M137.1 581.8h1.2M138.0 586.1h1.2M138.0 585.1h1.2M138.0 580.6h1.2M137.9 571.6h1.2M139.0 588.4h1.2M138.9 579.7h1.2M139.0 577.7h1.2M140.1 586.4h1.2M140.1 584.4h1.2M140.1 567.6h1.2M141.0 588.4h1.2M141.0 581.6h1.2M141.0 576.6h1.2M142.0 582.3h1.2M142.0 581.3h1.2M141.9 578.8h1.2M143.0 587.6h1.2M143.0 586.6h1.2M143.0 585.6h1.2M142.9 581.1h1.2M142.9 570.6h1.2M144.0 587.6h1.2M144.0 586.6h1.2M144.0 585.6h1.2M144.1 584.1h1.2M144.1 581.1h1.2M143.9 577.1h1.2M145.0 586.0h1.2M145.0 585.0h1.2M145.0 584.0h1.2M144.9 582.5h1.2M145.1 581.5h1.2M145.1 579.5h1.2M145.1 576.5h1.2M144.9 574.6h1.2M145.1 570.6h1.2M145.8 585.9h1.2M147.0 588.4h1.2M146.9 586.4h1.2M146.9 583.4h1.2M146.8 569.6h1.2M148.0 588.4h1.2M148.0 587.4h1.2M148.1 583.5h1.2M148.1 579.5h1.2M149.0 588.2h1.2M149.0 587.2h1.2M149.0 584.7h1.2M149.1 582.7h1.2M148.9 581.7h1.2M149.1 580.7h1.2M149.2 574.7h1.2M149.2 569.6h1.2M150.0 587.4h1.2M150.0 586.4h1.2M149.8 581.9h1.2M151.0 586.1h1.2M151.0 585.1h1.2M151.0 584.1h1.2M151.1 582.6h1.2M151.2 581.6h1.2M150.9 580.6h1.2M151.1 579.6h1.2M152.0 586.3h1.2M152.0 585.3h1.2M151.8 582.8h1.2M151.9 576.8h1.2M152.2 574.8h1.2M153.0 588.3h1.2M153.0 587.3h1.2M152.8 578.8h1.2M154.0 588.4h1.2M154.0 587.4h1.2M154.1 581.1h1.2M154.2 572.6h1.2M155.0 588.4h1.2M155.0 587.4h1.2M155.0 586.4h1.2M154.9 584.9h1.2M155.0 582.9h1.2M155.1 580.9h1.2M155.0 575.9h1.2M156.0 587.5h1.2M156.0 586.5h1.2M156.0 585.5h1.2M156.1 584.0h1.2M157.0 577.0h1.2M157.0 576.0h1.2M157.0 575.0h1.2M156.9 570.5h1.2M156.9 563.3h1.2M158.0 570.6h1.2M158.0 569.6h1.2M158.0 568.6h1.2M158.2 564.1h1.2M159.0 570.2h1.2M159.0 569.2h1.2M159.0 568.2h1.2M159.2 561.7h1.2M160.0 568.0h1.2M159.8 564.5h1.2M161.0 572.1h1.2M161.0 571.1h1.2M161.0 570.1h1.2M160.8 565.6h1.2M161.1 564.6h1.2M162.0 572.1h1.2M162.0 571.1h1.2M161.9 569.6h1.2M162.1 568.6h1.2M162.2 565.6h1.2M162.1 563.6h1.2M162.1 562.6h1.2M163.0 574.4h1.2M163.0 573.4h1.2M163.0 572.4h1.2M162.9 570.9h1.2M163.0 569.9h1.2M163.0 568.9h1.2M162.9 567.9h1.2M163.0 562.9h1.2M164.0 574.2h1.2M164.0 573.2h1.2M164.0 572.2h1.2M163.9 570.7h1.2M164.0 569.7h1.2M165.0 569.8h1.2M165.0 568.8h1.2M165.0 567.8h1.2M165.1 566.3h1.2M165.0 563.3h1.2M165.0 562.3h1.2M166.0 572.4h1.2M166.0 570.4h1.2M165.9 568.9h1.2M166.2 567.9h1.2M166.1 565.9h1.2M165.9 564.9h1.2M166.1 558.9h1.2M167.0 571.5h1.2M167.0 569.5h1.2M167.2 566.0h1.2M167.0 564.0h1.2M166.9 563.0h1.2M169.0 571.3h1.2M169.0 570.3h1.2M169.0 569.3h1.2M168.9 567.8h1.2M168.9 566.8h1.2M170.0 569.1h1.2M170.0 568.1h1.2M170.0 567.1h1.2M169.9 563.6h1.2M170.1 562.6h1.2M170.0 560.6h1.2M171.0 572.8h1.2M171.0 570.8h1.2M170.9 568.3h1.2M172.0 569.1h1.2M172.0 568.1h1.2M171.8 564.6h1.2M225.2 572.2h1.2M225.2 571.2h1.2M225.2 567.7h1.2M225.0 562.7h1.2M226.0 570.8h1.2M226.1 566.3h1.2M227.0 572.8h1.2M227.2 569.3h1.2M228.0 570.4h1.2M228.0 568.4h1.2M227.9 561.9h1.2M229.0 570.9h1.2M229.0 569.9h1.2M228.9 567.4h1.2M229.0 566.4h1.2M230.0 571.2h1.2M230.0 570.2h1.2M230.0 568.7h1.2M230.1 567.7h1.2M231.0 574.6h1.2M231.0 573.6h1.2M231.0 572.6h1.2M231.0 570.1h1.2M230.9 569.1h1.2M230.9 567.1h1.2M232.0 576.9h1.2M232.0 574.9h1.2M232.0 573.4h1.2M232.0 570.4h1.2M232.0 567.4h1.2M231.9 566.4h1.2M233.0 573.3h1.2M233.0 572.3h1.2M232.9 568.8h1.2M233.0 565.8h1.2M234.0 572.2h1.2M234.0 571.2h1.2M234.0 570.2h1.2M235.0 572.6h1.2M235.0 571.6h1.2M235.1 570.1h1.2M235.1 566.1h1.2M234.9 564.1h1.2M235.0 562.1h1.2M236.0 574.0h1.2M236.0 573.0h1.2M236.0 572.0h1.2M237.0 570.3h1.2M237.0 569.3h1.2M237.1 565.8h1.2M237.0 564.8h1.2M237.1 563.8h1.2M237.1 562.8h1.2M238.0 578.5h1.2M238.0 576.5h1.2M238.2 575.0h1.2M237.9 573.0h1.2M238.2 572.0h1.2M237.9 567.0h1.2M238.0 562.3h1.2M239.0 586.1h1.2M239.0 585.1h1.2M239.0 584.1h1.2M239.1 580.6h1.2M240.0 583.4h1.2M240.0 582.4h1.2M240.0 581.4h1.2M240.1 578.9h1.2M240.1 576.9h1.2M241.0 586.0h1.2M241.0 585.0h1.2M241.0 584.0h1.2M240.8 582.5h1.2M241.1 580.5h1.2M240.9 577.5h1.2M241.2 572.6h1.2M242.0 582.8h1.2M242.0 581.8h1.2M241.9 579.3h1.2M243.0 586.4h1.2M243.0 585.4h1.2M243.0 584.4h1.2M242.9 582.9h1.2M243.0 581.9h1.2M242.8 580.9h1.2M242.9 569.6h1.2M244.0 588.4h1.2M244.0 587.4h1.2M243.9 584.9h1.2M243.9 583.9h1.2M244.0 581.9h1.2M243.9 580.9h1.2M244.2 578.9h1.2M244.1 572.9h1.2M243.9 572.6h1.2M245.0 583.9h1.2M245.0 581.9h1.2M244.9 579.4h1.2M244.9 574.4h1.2M246.0 586.2h1.2M246.0 585.2h1.2M246.0 584.2h1.2M245.8 579.7h1.2M246.0 569.6h1.2M247.0 585.4h1.2M247.0 584.4h1.2M247.0 569.6h1.2M248.0 588.4h1.2M248.0 587.4h1.2M247.8 584.0h1.2M248.0 582.0h1.2M247.9 572.6h1.2M249.0 587.4h1.2M249.0 586.4h1.2M249.1 582.3h1.2M249.2 580.3h1.2M248.9 576.3h1.2M250.0 582.8h1.2M250.0 581.8h1.2M250.0 580.8h1.2M250.1 579.3h1.2M250.0 577.3h1.2M249.9 576.3h1.2M250.1 574.3h1.2M250.0 573.3h1.2M249.8 569.3h1.2M251.0 573.6h1.2M251.0 571.6h1.2M250.9 567.1h1.2M250.8 564.1h1.2M252.0 569.8h1.2M253.0 571.2h1.2M253.0 570.2h1.2M252.9 566.7h1.2M252.8 565.7h1.2M253.1 562.7h1.2M254.0 575.6h1.2M254.0 574.6h1.2M254.0 572.1h1.2M254.0 571.1h1.2M255.0 577.8h1.2M255.0 576.8h1.2M255.0 575.8h1.2M254.9 570.3h1.2M256.0 574.4h1.2M256.0 573.4h1.2M256.0 572.4h1.2M255.9 566.9h1.2M255.9 556.6h1.2M257.0 573.2h1.2M257.0 572.2h1.2M257.0 571.2h1.2M256.9 569.7h1.2M256.9 567.7h1.2M256.8 564.7h1.2M257.1 563.7h1.2M258.0 574.3h1.2M258.0 573.3h1.2M258.0 572.3h1.2M258.0 566.8h1.2M257.9 565.8h1.2M258.1 564.8h1.2M259.0 574.6h1.2M259.0 572.6h1.2M259.1 571.1h1.2M259.1 569.1h1.2M260.0 572.1h1.2M260.0 571.1h1.2M260.0 570.1h1.2M260.0 568.6h1.2M261.0 575.6h1.2M261.0 574.6h1.2M261.0 573.6h1.2M261.2 572.1h1.2M261.0 567.1h1.2M260.9 560.1h1.2M262.0 574.3h1.2M262.0 573.3h1.2M263.0 573.5h1.2M263.0 572.5h1.2M263.0 571.5h1.2M262.9 570.0h1.2M263.0 569.0h1.2M263.2 567.0h1.2M263.1 564.0h1.2M264.0 574.2h1.2M264.0 573.2h1.2M264.0 572.2h1.2M264.0 560.7h1.2M265.0 575.0h1.2M265.0 573.0h1.2M264.9 565.5h1.2M265.1 563.5h1.2M266.0 573.5h1.2M265.9 572.0h1.2M266.0 571.0h1.2M266.0 570.0h1.2M266.0 569.0h1.2M265.8 565.0h1.2M266.0 561.0h1.2M266.0 555.6h1.2M267.0 569.3h1.2M267.0 568.3h1.2M267.0 567.3h1.2M267.0 565.8h1.2M267.2 564.8h1.2M267.2 558.8h1.2M268.0 569.0h1.2M268.2 564.5h1.2M268.1 561.5h1.2M269.0 572.1h1.2M269.0 571.1h1.2M269.0 570.1h1.2M268.9 566.6h1.2M268.9 564.6h1.2M268.8 563.6h1.2M270.0 573.3h1.2M270.0 571.3h1.2M270.2 569.8h1.2M270.2 564.8h1.2M271.0 570.8h1.2M271.0 569.8h1.2M271.0 568.8h1.2M271.1 567.3h1.2M271.0 559.3h1.2M272.0 574.3h1.2M272.0 573.3h1.2M272.0 572.3h1.2M272.2 569.8h1.2M272.0 564.8h1.2M273.0 572.2h1.2M273.0 571.2h1.2M273.1 569.7h1.2M272.9 567.7h1.2M273.0 566.7h1.2M272.9 565.7h1.2M273.2 562.7h1.2M274.0 572.6h1.2M274.0 568.1h1.2M274.1 564.1h1.2M273.9 563.1h1.2M314.5 558.9h1.2M314.5 557.9h1.2M314.5 556.9h1.2M315.0 564.2h1.2M315.0 563.2h1.2M315.0 562.2h1.2M315.0 559.7h1.2M315.1 558.7h1.2M314.9 557.7h1.2M314.8 548.6h1.2M316.0 557.3h1.2M316.0 556.3h1.2M316.0 555.3h1.2M317.0 562.0h1.2M317.0 561.0h1.2M318.0 563.8h1.2M318.0 562.8h1.2M318.0 561.8h1.2M318.1 558.3h1.2M318.2 557.3h1.2M317.9 555.3h1.2M317.9 550.3h1.2M317.9 547.6h1.2M319.0 561.3h1.2M318.8 558.8h1.2M318.9 550.8h1.2M319.0 549.8h1.2M320.0 550.6h1.2M320.0 549.6h1.2M320.0 548.6h1.2M321.0 548.9h1.2M321.0 546.9h1.2M322.0 552.0h1.2M322.0 551.0h1.2M322.0 550.0h1.2M321.8 538.6h1.2M323.0 549.3h1.2M323.0 548.3h1.2M323.0 547.3h1.2M324.0 550.3h1.2M324.0 549.3h1.2M324.0 548.3h1.2M324.0 540.8h1.2M325.0 553.1h1.2M325.0 552.1h1.2M325.0 551.1h1.2M325.2 547.6h1.2M326.0 543.7h1.2M326.0 541.7h1.2M327.0 546.6h1.2M327.0 544.6h1.2M328.0 545.4h1.2M328.1 542.9h1.2M329.0 548.1h1.2M329.0 547.1h1.2M329.0 546.1h1.2M329.1 544.6h1.2M328.9 539.6h1.2M329.0 538.6h1.2M330.0 563.7h1.2M330.0 562.7h1.2M330.1 559.2h1.2M331.0 564.1h1.2M331.0 563.1h1.2M330.8 560.6h1.2M332.0 560.9h1.2M332.0 559.9h1.2M332.0 552.6h1.2M333.0 575.8h1.2M333.0 574.8h1.2M333.1 573.3h1.2M333.0 569.3h1.2M334.0 577.2h1.2M334.0 576.2h1.2M335.0 578.8h1.2M334.9 575.3h1.2M336.0 587.1h1.2M336.0 586.1h1.2M336.0 585.1h1.2M336.1 582.6h1.2M335.8 579.6h1.2M336.1 577.6h1.2M337.0 580.9h1.2M337.0 578.9h1.2M337.2 576.4h1.2M337.1 575.4h1.2M336.9 573.4h1.2M337.2 568.4h1.2M337.0 566.6h1.2M338.0 582.6h1.2M338.0 580.6h1.2M337.8 579.1h1.2M338.2 577.1h1.2M338.1 570.1h1.2M339.0 580.6h1.2M339.0 579.6h1.2M339.0 578.6h1.2M340.0 581.0h1.2M340.0 580.0h1.2M340.2 574.5h1.2M340.0 567.6h1.2M341.0 573.9h1.2M341.0 572.9h1.2M341.1 571.4h1.2M341.1 565.6h1.2M340.9 563.6h1.2M341.0 562.6h1.2M342.0 581.1h1.2M342.0 580.1h1.2M342.0 579.1h1.2M342.1 576.6h1.2M343.0 577.8h1.2M343.0 576.8h1.2M343.1 575.3h1.2M342.8 570.3h1.2M344.0 582.1h1.2M344.0 581.1h1.2M344.0 580.1h1.2M344.0 577.6h1.2M345.0 580.9h1.2M344.9 579.4h1.2M345.2 578.4h1.2M346.0 576.3h1.2M346.0 575.3h1.2M345.8 573.8h1.2M347.0 582.7h1.2M347.0 581.7h1.2M347.0 580.7h1.2M347.1 578.2h1.2M346.9 573.2h1.2M347.1 563.6h1.2M348.0 582.3h1.2M348.0 581.3h1.2M347.9 578.8h1.2M347.8 576.8h1.2M348.1 573.8h1.2M348.1 567.6h1.2M349.0 579.0h1.2M349.0 578.0h1.2M349.0 577.0h1.2M349.0 575.5h1.2M348.9 573.5h1.2M350.0 579.8h1.2M350.0 578.8h1.2M120.0 564.6h1.2M120.0 562.6h1.2M119.8 561.6h1.2M121.0 565.6h1.2M121.1 564.6h1.2M120.9 561.6h1.2M122.2 564.6h1.2M122.1 563.6h1.2M122.2 562.6h1.2M122.0 561.6h1.2M122.0 560.6h1.2M121.9 558.6h1.2"/>
<path stroke="#0b0b0b" stroke-width="1.2" fill="none" d="M54.0 573.4h1.2M54.0 571.4h1.2M54.1 565.9h1.2M53.8 564.9h1.2M55.0 575.6h1.2M55.2 574.1h1.2M54.9 573.1h1.2M55.1 569.1h1.2M54.8 565.1h1.2M56.0 571.8h1.2M56.0 570.8h1.2M55.9 568.3h1.2M55.9 566.3h1.2M57.0 572.1h1.2M57.0 570.1h1.2M57.1 567.6h1.2M56.9 566.6h1.2M58.0 578.0h1.2M58.0 577.0h1.2M58.0 576.0h1.2M57.8 573.5h1.2M58.2 572.5h1.2M57.9 567.5h1.2M58.0 564.5h1.2M58.2 558.6h1.2M59.0 578.5h1.2M59.0 577.5h1.2M59.0 576.5h1.2M58.9 574.0h1.2M58.8 572.0h1.2M59.0 571.0h1.2M60.0 577.4h1.2M59.8 575.9h1.2M60.0 574.9h1.2M60.1 573.9h1.2M59.8 572.9h1.2M60.1 571.9h1.2M59.9 570.9h1.2M60.2 561.6h1.2M61.0 576.4h1.2M61.0 573.9h1.2M60.9 572.9h1.2M61.2 570.9h1.2M61.0 561.6h1.2M62.0 576.6h1.2M62.0 575.6h1.2M62.0 574.6h1.2M62.2 573.1h1.2M61.9 572.1h1.2M62.1 570.1h1.2M61.8 567.1h1.2M63.0 573.6h1.2M63.0 572.6h1.2M63.0 571.6h1.2M63.1 567.1h1.2M63.1 557.6h1.2M64.0 574.2h1.2M64.0 573.2h1.2M64.2 569.7h1.2M63.8 566.7h1.2M65.0 577.9h1.2M65.0 575.9h1.2M65.1 573.4h1.2M65.1 572.4h1.2M65.2 568.4h1.2M64.9 567.4h1.2M66.0 578.2h1.2M66.0 577.2h1.2M66.0 573.7h1.2M66.1 568.7h1.2M67.0 573.1h1.2M67.0 572.1h1.2M67.0 571.1h1.2M67.0 569.6h1.2M67.1 564.6h1.2M67.1 562.6h1.2M68.0 571.3h1.2M68.0 570.3h1.2M67.8 566.8h1.2M69.0 576.1h1.2M69.0 575.1h1.2M69.0 574.1h1.2M69.2 571.6h1.2M69.0 570.6h1.2M69.2 568.6h1.2M68.9 567.6h1.2M68.8 566.6h1.2M68.8 564.6h1.2M70.0 575.4h1.2M70.0 572.9h1.2M70.2 570.9h1.2M69.9 569.9h1.2M70.1 568.9h1.2M71.0 580.1h1.2M71.0 579.1h1.2M71.0 578.1h1.2M70.8 569.6h1.2M70.9 556.6h1.2M72.0 579.4h1.2M72.0 578.4h1.2M72.2 576.9h1.2M71.8 575.9h1.2M71.9 574.9h1.2M71.9 569.9h1.2M71.9 566.9h1.2M71.9 562.9h1.2M73.0 584.6h1.2M73.0 582.6h1.2M73.0 581.1h1.2M73.2 579.1h1.2M74.0 582.3h1.2M74.0 580.3h1.2M74.1 575.8h1.2M74.0 573.8h1.2M73.8 571.8h1.2M73.8 565.3h1.2M75.0 585.4h1.2M75.0 584.4h1.2M75.1 580.9h1.2M74.9 578.9h1.2M75.0 575.9h1.2M74.9 574.9h1.2M75.1 566.6h1.2M76.0 581.7h1.2M76.0 580.7h1.2M75.8 578.2h1.2M76.0 577.2h1.2M75.9 575.2h1.2M75.9 573.2h1.2M77.0 586.2h1.2M77.0 585.2h1.2M77.0 584.2h1.2M77.0 582.7h1.2M77.2 579.7h1.2M77.1 577.7h1.2M77.1 573.7h1.2M77.1 569.7h1.2M78.0 586.5h1.2M78.0 584.5h1.2M77.8 582.0h1.2M79.0 579.8h1.2M79.1 578.3h1.2M78.9 577.3h1.2M79.0 575.3h1.2M80.0 585.1h1.2M80.0 584.1h1.2M79.9 582.6h1.2M80.0 576.6h1.2M81.0 586.0h1.2M82.0 588.4h1.2M82.2 585.6h1.2M82.0 583.6h1.2M83.0 585.2h1.2M83.0 584.2h1.2M83.0 583.2h1.2M82.9 581.7h1.2M83.2 580.7h1.2M82.9 579.7h1.2M84.0 585.5h1.2M84.0 584.5h1.2M84.0 583.5h1.2M83.9 582.0h1.2M83.8 580.0h1.2M84.2 578.0h1.2M84.2 569.6h1.2M84.1 566.6h1.2M85.0 584.2h1.2M85.0 583.2h1.2M85.0 582.2h1.2M85.1 579.7h1.2M84.8 574.7h1.2M84.9 567.6h1.2M86.0 586.5h1.2M86.0 584.5h1.2M86.0 581.0h1.2M86.1 573.0h1.2M87.0 583.1h1.2M87.0 581.1h1.2M87.2 579.6h1.2M87.1 571.6h1.2M86.8 565.6h1.2M88.0 581.7h1.2M88.0 580.7h1.2M88.0 579.7h1.2M89.0 580.1h1.2M89.0 579.1h1.2M88.8 575.6h1.2M89.1 574.6h1.2M89.1 573.6h1.2M90.0 574.9h1.2M90.0 572.9h1.2M90.0 571.4h1.2M90.0 570.4h1.2M91.0 570.6h1.2M91.0 569.6h1.2M91.0 568.6h1.2M92.0 575.7h1.2M92.0 574.7h1.2M92.0 573.7h1.2M92.1 569.2h1.2M92.0 564.2h1.2M93.0 573.5h1.2M93.0 572.5h1.2M92.8 570.0h1.2M92.9 568.0h1.2M93.2 567.0h1.2M93.1 558.4h1.2M94.0 574.7h1.2M94.0 573.7h1.2M94.0 572.7h1.2M94.0 571.2h1.2M93.9 569.2h1.2M94.2 568.2h1.2M94.0 555.3h1.2M95.0 572.3h1.2M95.0 571.3h1.2M96.0 571.0h1.2M96.0 570.0h1.2M96.0 566.5h1.2M95.9 565.5h1.2M97.0 574.6h1.2M97.0 573.6h1.2M97.1 571.1h1.2M97.1 569.1h1.2M97.1 565.1h1.2M98.0 577.2h1.2M98.0 576.2h1.2M98.0 575.2h1.2M97.9 570.7h1.2M97.9 566.7h1.2M99.0 576.8h1.2M99.0 575.8h1.2M99.0 574.8h1.2M98.9 573.3h1.2M99.0 566.3h1.2M99.2 565.3h1.2M100.0 573.0h1.2M100.0 572.0h1.2M99.9 555.8h1.2M101.0 577.8h1.2M101.0 576.8h1.2M101.0 575.8h1.2M100.9 574.3h1.2M100.9 572.3h1.2M100.9 568.3h1.2M101.1 564.3h1.2M102.0 571.7h1.2M102.0 569.7h1.2M101.9 562.2h1.2M101.8 560.2h1.2M103.0 575.5h1.2M103.0 574.5h1.2M103.1 571.0h1.2M102.9 570.0h1.2M102.9 567.0h1.2M102.9 555.5h1.2M104.0 573.4h1.2M104.0 572.4h1.2M104.0 571.4h1.2M103.8 566.9h1.2M103.9 554.5h1.2M105.0 580.3h1.2M105.0 579.3h1.2M105.0 578.3h1.2M105.1 576.8h1.2M105.0 575.8h1.2M105.1 573.8h1.2M105.2 572.8h1.2M104.9 567.8h1.2M104.9 565.8h1.2M104.8 563.8h1.2M106.0 575.3h1.2M106.0 574.3h1.2M106.0 573.3h1.2M107.0 574.7h1.2M107.1 571.2h1.2M106.8 570.2h1.2M107.2 563.2h1.2M108.0 576.3h1.2M108.0 575.3h1.2M108.0 574.3h1.2M108.0 571.8h1.2M108.1 570.8h1.2M107.9 569.8h1.2M108.2 568.8h1.2M108.2 566.8h1.2M109.0 576.9h1.2M109.0 575.9h1.2M109.2 573.4h1.2M108.9 572.4h1.2M109.2 571.4h1.2M108.9 569.4h1.2M108.9 568.4h1.2M109.1 565.4h1.2M108.8 564.4h1.2M108.9 563.4h1.2M110.0 576.2h1.2M110.0 575.2h1.2M110.1 569.7h1.2M110.0 567.7h1.2M109.9 561.7h1.2M111.0 571.6h1.2M111.0 570.6h1.2M110.9 569.1h1.2M111.0 563.1h1.2M112.0 576.5h1.2M112.0 575.5h1.2M112.0 574.5h1.2M112.0 571.0h1.2M112.1 564.0h1.2M113.0 575.1h1.2M113.1 569.6h1.2M113.0 568.6h1.2M113.1 567.6h1.2M113.2 564.6h1.2M114.0 575.5h1.2M114.0 574.5h1.2M114.0 573.5h1.2M114.1 572.0h1.2M114.2 569.0h1.2M113.9 568.0h1.2M172.6 567.4h1.2M172.6 566.4h1.2M172.6 565.4h1.2M172.7 557.9h1.2M172.5 555.9h1.2M173.0 570.0h1.2M173.0 569.0h1.2M173.0 568.0h1.2M173.2 563.5h1.2M173.0 561.5h1.2M173.2 558.5h1.2M174.0 563.3h1.2M174.0 562.3h1.2M174.0 561.3h1.2M174.0 559.8h1.2M173.9 556.8h1.2M173.9 555.8h1.2M173.8 550.0h1.2M175.0 557.0h1.2M175.0 555.0h1.2M174.9 550.5h1.2M176.0 553.5h1.2M176.0 551.5h1.2M177.0 551.9h1.2M177.0 550.9h1.2M178.0 556.8h1.2M178.0 555.8h1.2M178.2 553.3h1.2M179.0 548.6h1.2M179.0 547.6h1.2M179.0 546.2h1.2M180.0 561.0h1.2M180.0 560.0h1.2M179.9 557.5h1.2M181.0 562.8h1.2M181.0 561.8h1.2M181.0 560.8h1.2M181.0 553.3h1.2M181.2 545.1h1.2M182.0 559.9h1.2M182.0 557.9h1.2M181.9 556.4h1.2M182.2 554.4h1.2M183.0 561.0h1.2M183.0 560.0h1.2M183.0 559.0h1.2M183.0 550.5h1.2M184.0 558.6h1.2M184.0 557.6h1.2M184.0 556.6h1.2M183.9 554.1h1.2M183.9 544.8h1.2M185.0 560.5h1.2M185.0 559.5h1.2M185.1 557.0h1.2M184.9 556.0h1.2M185.1 554.0h1.2M184.9 552.0h1.2M184.9 551.0h1.2M184.8 545.6h1.2M186.0 558.4h1.2M186.0 557.4h1.2M186.0 556.4h1.2M186.0 551.9h1.2M187.0 559.9h1.2M187.0 558.9h1.2M187.0 557.9h1.2M188.0 570.4h1.2M188.0 569.4h1.2M188.0 564.9h1.2M187.8 563.9h1.2M189.0 573.7h1.2M189.1 569.2h1.2M189.2 567.2h1.2M189.1 566.2h1.2M190.0 572.0h1.2M190.0 571.0h1.2M189.9 567.5h1.2M191.0 579.4h1.2M191.0 578.4h1.2M191.0 577.4h1.2M190.9 575.9h1.2M191.1 571.9h1.2M191.2 568.9h1.2M192.0 579.2h1.2M191.8 574.7h1.2M191.8 573.7h1.2M192.2 572.7h1.2M192.1 566.7h1.2M192.1 558.9h1.2M193.0 577.3h1.2M193.0 576.3h1.2M193.1 573.8h1.2M193.1 572.8h1.2M193.2 571.8h1.2M192.9 568.8h1.2M192.9 567.8h1.2M193.1 564.8h1.2M194.0 577.6h1.2M194.0 571.1h1.2M194.9 574.0h1.2M194.8 559.4h1.2M196.0 573.1h1.2M196.0 572.1h1.2M196.0 571.1h1.2M196.0 567.6h1.2M197.0 575.1h1.2M197.0 574.1h1.2M197.0 571.6h1.2M196.9 566.6h1.2M196.9 560.4h1.2M198.0 572.7h1.2M198.0 571.7h1.2M198.0 570.7h1.2M198.2 569.2h1.2M197.9 568.2h1.2M199.0 573.4h1.2M199.0 572.4h1.2M199.0 571.4h1.2M199.1 565.9h1.2M200.0 574.4h1.2M200.1 570.9h1.2M199.8 569.9h1.2M199.9 567.9h1.2M199.9 566.9h1.2M201.0 570.4h1.2M201.1 557.3h1.2M202.0 572.8h1.2M202.0 571.8h1.2M202.0 570.8h1.2M202.0 569.3h1.2M202.1 568.3h1.2M202.1 565.3h1.2M203.0 566.0h1.2M203.0 565.0h1.2M203.0 564.0h1.2M203.0 562.5h1.2M204.0 564.1h1.2M204.0 563.1h1.2M204.0 562.1h1.2M205.0 564.0h1.2M205.0 563.0h1.2M205.0 562.0h1.2M206.0 563.2h1.2M206.0 562.2h1.2M206.0 561.2h1.2M206.0 557.7h1.2M206.1 550.1h1.2M207.0 562.3h1.2M207.0 561.3h1.2M207.0 560.3h1.2M207.2 558.8h1.2M206.9 557.8h1.2M207.0 553.8h1.2M208.0 559.1h1.2M208.0 557.1h1.2M208.0 555.6h1.2M208.1 554.6h1.2M209.0 556.4h1.2M209.0 554.4h1.2M208.8 552.9h1.2M209.2 551.9h1.2M210.0 555.6h1.2M210.0 554.6h1.2M210.0 553.6h1.2M210.2 549.1h1.2M210.0 546.5h1.2M211.0 557.6h1.2M211.0 556.6h1.2M211.0 554.1h1.2M211.1 553.1h1.2M211.0 552.1h1.2M211.0 549.1h1.2M212.0 553.2h1.2M212.0 552.2h1.2M212.0 551.2h1.2M211.9 549.7h1.2M213.0 559.1h1.2M213.0 558.1h1.2M213.0 557.1h1.2M214.0 558.6h1.2M214.0 557.6h1.2M213.9 555.1h1.2M214.1 554.1h1.2M214.1 553.1h1.2M215.0 556.2h1.2M215.0 554.2h1.2M216.0 555.4h1.2M216.0 554.4h1.2M217.0 559.2h1.2M217.0 558.2h1.2M217.0 557.2h1.2M216.9 553.7h1.2M216.9 552.7h1.2M217.0 551.7h1.2M218.0 555.2h1.2M218.0 554.2h1.2M218.0 549.7h1.2M219.0 558.6h1.2M219.0 557.6h1.2M219.0 556.6h1.2M219.0 554.1h1.2M219.1 549.1h1.2M219.1 545.1h1.2M220.0 550.0h1.2M220.0 549.0h1.2M220.0 548.0h1.2M221.0 554.6h1.2M221.0 553.6h1.2M221.0 552.6h1.2M221.2 551.1h1.2M221.0 550.1h1.2M222.0 556.3h1.2M222.2 554.8h1.2M223.0 558.8h1.2M223.0 557.8h1.2M223.0 556.8h1.2M223.1 554.3h1.2M222.9 550.3h1.2M224.0 561.2h1.2M224.0 560.2h1.2M224.0 559.2h1.2M224.1 556.7h1.2M223.9 554.7h1.2M225.0 567.2h1.2M225.0 566.2h1.2M225.0 565.2h1.2M225.1 561.7h1.2M274.1 569.7h1.2M274.1 568.7h1.2M274.1 567.7h1.2M274.0 563.2h1.2M274.0 557.6h1.2M275.0 566.5h1.2M275.0 565.5h1.2M275.0 564.5h1.2M275.0 560.0h1.2M276.0 568.9h1.2M276.0 567.9h1.2M276.0 566.9h1.2M277.0 566.1h1.2M277.0 565.1h1.2M277.0 564.1h1.2M276.9 561.6h1.2M278.0 564.0h1.2M278.0 562.5h1.2M278.2 559.5h1.2M279.0 565.5h1.2M279.2 563.0h1.2M279.0 561.0h1.2M278.8 559.0h1.2M280.0 567.8h1.2M280.0 565.8h1.2M279.9 562.3h1.2M281.0 566.9h1.2M281.2 563.4h1.2M280.9 561.4h1.2M282.0 568.6h1.2M282.0 566.1h1.2M283.0 568.2h1.2M283.0 567.2h1.2M283.0 563.7h1.2M283.0 561.7h1.2M284.0 568.2h1.2M284.0 567.2h1.2M285.0 571.9h1.2M285.0 570.9h1.2M285.0 569.9h1.2M285.0 565.4h1.2M284.9 562.4h1.2M286.0 576.1h1.2M286.0 575.1h1.2M286.0 574.1h1.2M286.1 571.6h1.2M286.1 570.6h1.2M287.0 584.8h1.2M287.0 583.8h1.2M287.0 582.8h1.2M286.8 581.3h1.2M286.9 577.3h1.2M286.9 572.3h1.2M288.0 582.0h1.2M288.0 581.0h1.2M287.9 578.5h1.2M289.0 577.2h1.2M289.0 576.2h1.2M288.8 573.7h1.2M288.9 572.7h1.2M290.0 583.1h1.2M290.0 582.1h1.2M290.0 581.1h1.2M290.1 578.6h1.2M290.0 577.6h1.2M289.9 575.6h1.2M291.0 581.6h1.2M291.0 580.6h1.2M290.9 579.1h1.2M290.9 578.1h1.2M291.0 577.1h1.2M292.0 583.4h1.2M292.0 582.4h1.2M292.0 581.4h1.2M293.0 584.0h1.2M293.0 583.0h1.2M292.8 579.5h1.2M292.9 576.5h1.2M294.0 588.4h1.2M294.0 587.4h1.2M293.8 585.2h1.2M294.0 580.2h1.2M294.0 568.6h1.2M294.0 565.6h1.2M295.0 582.1h1.2M295.0 581.1h1.2M295.0 580.1h1.2M295.0 578.6h1.2M294.9 574.6h1.2M296.0 585.0h1.2M296.0 584.0h1.2M296.0 583.0h1.2M296.2 581.5h1.2M296.1 580.5h1.2M296.1 579.5h1.2M295.9 577.5h1.2M296.0 574.5h1.2M295.9 571.5h1.2M295.9 565.6h1.2M297.0 582.8h1.2M297.0 581.8h1.2M297.0 579.3h1.2M298.0 581.3h1.2M298.0 580.3h1.2M298.0 579.3h1.2M298.2 577.8h1.2M297.8 576.8h1.2M299.0 584.1h1.2M299.0 583.1h1.2M299.0 580.6h1.2M298.8 578.6h1.2M298.9 576.6h1.2M299.2 574.6h1.2M300.0 585.3h1.2M300.0 584.3h1.2M300.0 581.8h1.2M300.0 576.8h1.2M301.0 580.3h1.2M301.0 579.3h1.2M302.0 570.7h1.2M302.0 569.7h1.2M301.9 566.2h1.2M301.9 565.2h1.2M303.0 568.7h1.2M303.0 567.7h1.2M303.0 566.7h1.2M304.0 569.4h1.2M304.0 568.4h1.2M305.0 569.1h1.2M305.0 568.1h1.2M305.0 567.1h1.2M305.0 565.6h1.2M305.1 563.6h1.2M305.2 554.6h1.2M306.0 569.2h1.2M306.0 568.2h1.2M306.0 567.2h1.2M305.8 565.7h1.2M305.8 564.7h1.2M306.1 563.7h1.2M307.0 570.5h1.2M307.0 569.5h1.2M306.9 567.0h1.2M306.8 566.0h1.2M307.1 563.0h1.2M308.0 573.6h1.2M308.0 572.6h1.2M308.0 571.6h1.2M308.1 570.1h1.2M308.2 569.1h1.2M307.9 565.1h1.2M309.0 572.1h1.2M309.0 571.1h1.2M309.2 566.6h1.2M309.0 565.6h1.2M309.0 564.6h1.2M308.9 563.6h1.2M309.0 562.6h1.2M308.8 555.6h1.2M310.0 573.9h1.2M310.0 572.9h1.2M309.9 568.4h1.2M310.2 564.4h1.2M311.0 569.7h1.2M311.0 568.7h1.2M311.0 567.7h1.2M311.1 566.2h1.2M311.1 565.2h1.2M310.8 563.2h1.2M312.0 565.3h1.2M312.0 563.3h1.2M311.9 561.8h1.2M312.1 560.8h1.2M313.0 566.4h1.2M313.0 565.4h1.2M313.0 564.4h1.2M314.0 564.6h1.2M314.0 563.6h1.2M314.0 562.6h1.2"/>
<path fill="#fff" d="M54.1 574.8h1.5v1.5h-1.5zM57.6 583.4h1.8v1.8h-1.8zM59.4 580.9h1.2v1.2h-1.2zM60.0 581.3h1.0v1.0h-1.0zM60.3 580.8h1.8v1.8h-1.8zM60.5 585.8h1.8v1.8h-1.8zM65.0 578.3h1.5v1.5h-1.5zM64.8 583.3h1.2v1.2h-1.2zM67.0 580.0h1.0v1.0h-1.0zM66.6 573.5h1.8v1.8h-1.8zM68.5 578.7h1.5v1.5h-1.5zM68.4 581.7h1.8v1.8h-1.8zM68.6 574.5h1.8v1.8h-1.8zM68.7 578.5h1.5v1.5h-1.5zM70.5 579.8h1.8v1.8h-1.8zM72.0 585.3h1.0v1.0h-1.0zM71.8 579.8h1.5v1.5h-1.5zM74.4 582.7h1.8v1.8h-1.8zM76.0 583.6h1.0v1.0h-1.0zM75.7 580.1h1.0v1.0h-1.0zM75.8 582.1h1.8v1.8h-1.8zM76.3 587.1h1.5v1.5h-1.5zM80.8 586.4h1.8v1.8h-1.8zM83.3 583.6h1.2v1.2h-1.2zM83.0 585.6h1.0v1.0h-1.0zM85.0 582.6h1.5v1.5h-1.5zM86.3 585.9h1.2v1.2h-1.2zM87.0 588.5h1.5v1.5h-1.5zM88.2 580.1h1.0v1.0h-1.0zM89.2 584.5h1.8v1.8h-1.8zM90.3 576.3h1.0v1.0h-1.0zM91.6 579.1h1.0v1.0h-1.0zM91.9 585.1h1.8v1.8h-1.8zM94.0 576.6h1.0v1.0h-1.0zM93.9 585.1h1.8v1.8h-1.8zM95.0 576.2h1.0v1.0h-1.0zM96.0 573.9h1.0v1.0h-1.0zM96.3 577.4h1.2v1.2h-1.2zM97.0 579.5h1.0v1.0h-1.0zM98.0 580.1h1.0v1.0h-1.0zM99.0 581.7h1.0v1.0h-1.0zM99.0 585.7h1.0v1.0h-1.0zM98.7 577.2h1.0v1.0h-1.0zM103.0 580.4h1.0v1.0h-1.0zM108.8 578.3h1.0v1.0h-1.0zM110.0 583.1h1.0v1.0h-1.0zM110.9 571.0h1.2v1.2h-1.2zM111.3 588.0h1.8v1.8h-1.8zM114.0 577.4h1.0v1.0h-1.0zM131.7 587.8h1.0v1.0h-1.0zM137.9 584.5h1.2v1.2h-1.2zM138.2 588.5h1.5v1.5h-1.5zM142.9 586.0h1.5v1.5h-1.5zM145.3 586.4h1.2v1.2h-1.2zM146.1 588.8h1.0v1.0h-1.0zM147.1 588.3h1.5v1.5h-1.5zM149.3 586.6h1.5v1.5h-1.5zM149.6 588.8h1.0v1.0h-1.0zM153.8 587.0h1.5v1.5h-1.5zM155.8 586.9h1.0v1.0h-1.0zM165.0 570.7h1.0v1.0h-1.0zM177.0 561.8h1.0v1.0h-1.0zM181.0 564.7h1.0v1.0h-1.0zM184.0 561.5h1.0v1.0h-1.0zM188.0 578.3h1.0v1.0h-1.0zM188.4 570.8h1.2v1.2h-1.2zM188.2 571.8h1.0v1.0h-1.0zM188.1 582.8h1.5v1.5h-1.5zM188.6 574.1h1.2v1.2h-1.2zM189.1 575.1h1.5v1.5h-1.5zM189.3 586.1h1.5v1.5h-1.5zM190.0 581.9h1.0v1.0h-1.0zM191.1 584.8h1.8v1.8h-1.8zM192.0 588.1h1.0v1.0h-1.0zM193.5 583.7h1.8v1.8h-1.8zM197.0 579.0h1.0v1.0h-1.0zM197.4 581.5h1.8v1.8h-1.8zM198.0 575.1h1.5v1.5h-1.5zM199.0 582.3h1.0v1.0h-1.0zM198.8 571.8h1.8v1.8h-1.8zM199.0 588.8h1.5v1.5h-1.5zM200.6 584.8h1.2v1.2h-1.2zM203.0 570.9h1.0v1.0h-1.0zM204.0 565.0h1.0v1.0h-1.0zM204.0 566.0h1.0v1.0h-1.0zM204.2 564.5h1.2v1.2h-1.2zM206.0 566.1h1.0v1.0h-1.0zM206.0 571.1h1.0v1.0h-1.0zM206.6 574.7h1.0v1.0h-1.0zM209.0 557.3h1.0v1.0h-1.0zM209.0 558.3h1.0v1.0h-1.0zM211.0 562.5h1.0v1.0h-1.0zM214.0 567.5h1.0v1.0h-1.0zM223.0 563.7h1.0v1.0h-1.0zM225.0 571.1h1.0v1.0h-1.0zM238.1 579.9h1.2v1.2h-1.2zM239.1 587.5h1.8v1.8h-1.8zM241.2 586.4h1.2v1.2h-1.2zM245.4 584.3h1.0v1.0h-1.0zM245.1 587.3h1.2v1.2h-1.2zM247.5 586.8h1.8v1.8h-1.8zM247.1 588.8h1.2v1.2h-1.2zM249.9 582.2h1.5v1.5h-1.5zM277.0 573.0h1.0v1.0h-1.0zM276.6 566.5h1.8v1.8h-1.8zM278.4 570.4h1.8v1.8h-1.8zM279.0 573.4h1.0v1.0h-1.0zM278.6 570.9h1.8v1.8h-1.8zM283.0 577.1h1.0v1.0h-1.0zM282.9 583.6h1.0v1.0h-1.0zM284.0 574.1h1.0v1.0h-1.0zM284.5 574.3h1.2v1.2h-1.2zM285.4 577.3h1.0v1.0h-1.0zM286.0 582.0h1.0v1.0h-1.0zM285.7 576.5h1.8v1.8h-1.8zM286.4 579.5h1.2v1.2h-1.2zM286.5 584.5h1.8v1.8h-1.8zM286.1 585.5h1.2v1.2h-1.2zM286.5 586.2h1.2v1.2h-1.2zM289.1 575.6h1.5v1.5h-1.5zM288.7 581.6h1.5v1.5h-1.5zM289.2 587.6h1.2v1.2h-1.2zM290.0 588.0h1.0v1.0h-1.0zM290.5 585.5h1.0v1.0h-1.0zM290.9 584.0h1.0v1.0h-1.0zM290.7 586.0h1.0v1.0h-1.0zM291.7 581.8h1.5v1.5h-1.5zM293.3 582.4h1.5v1.5h-1.5zM293.3 588.4h1.0v1.0h-1.0zM295.2 581.5h1.5v1.5h-1.5zM294.6 585.5h1.2v1.2h-1.2zM295.3 588.5h1.2v1.2h-1.2zM296.1 585.4h1.5v1.5h-1.5zM296.2 586.4h1.2v1.2h-1.2zM297.5 583.2h1.5v1.5h-1.5zM298.2 580.7h1.5v1.5h-1.5zM298.1 584.7h1.2v1.2h-1.2zM299.9 587.7h1.2v1.2h-1.2zM304.8 570.5h1.8v1.8h-1.8zM305.3 579.5h1.0v1.0h-1.0zM307.0 574.4h1.0v1.0h-1.0zM307.4 582.9h1.5v1.5h-1.5zM308.0 575.5h1.0v1.0h-1.0zM307.9 576.0h1.0v1.0h-1.0zM310.0 577.8h1.0v1.0h-1.0zM310.2 576.3h1.2v1.2h-1.2zM311.3 584.1h1.8v1.8h-1.8zM314.0 567.5h1.0v1.0h-1.0zM315.0 566.1h1.0v1.0h-1.0zM316.0 563.2h1.0v1.0h-1.0zM333.0 585.2h1.8v1.8h-1.8zM332.6 587.2h1.5v1.5h-1.5zM337.4 585.3h1.5v1.5h-1.5zM339.4 583.0h1.0v1.0h-1.0zM339.9 583.4h1.0v1.0h-1.0zM341.8 581.5h1.0v1.0h-1.0zM342.0 582.5h1.8v1.8h-1.8zM342.8 586.2h1.5v1.5h-1.5zM344.5 582.3h1.2v1.2h-1.2zM346.4 581.7h1.8v1.8h-1.8zM346.2 588.7h1.0v1.0h-1.0zM348.2 580.7h1.0v1.0h-1.0zM347.6 583.7h1.5v1.5h-1.5zM349.4 581.4h1.8v1.8h-1.8z"/>
<text x="83.20" y="600.10" font-size="7.2" text-anchor="middle" fill="#333" textLength="16.3" lengthAdjust="spacingAndGlyphs">LG01</text>
<text x="143.45" y="600.10" font-size="7.2" text-anchor="middle" fill="#333" textLength="16.3" lengthAdjust="spacingAndGlyphs">LG02</text>
<text x="198.85" y="600.10" font-size="7.2" text-anchor="middle" fill="#333" textLength="16.3" lengthAdjust="spacingAndGlyphs">LG03</text>
<text x="249.75" y="600.10" font-size="7.2" text-anchor="middle" fill="#333" textLength="16.3" lengthAdjust="spacingAndGlyphs">LG04</text>
<text x="294.45" y="600.10" font-size="7.2" text-anchor="middle" fill="#333" textLength="16.3" lengthAdjust="spacingAndGlyphs">LG05</text>
<text x="332.60" y="600.10" font-size="7.2" text-anchor="middle" fill="#333" textLength="16.3" lengthAdjust="spacingAndGlyphs">LG06</text>
<rect x="320.3" y="189.5" width="13.2" height="400.3" fill="#ea5012" fill-opacity="0.24"/>
</svg>
</body></html>
